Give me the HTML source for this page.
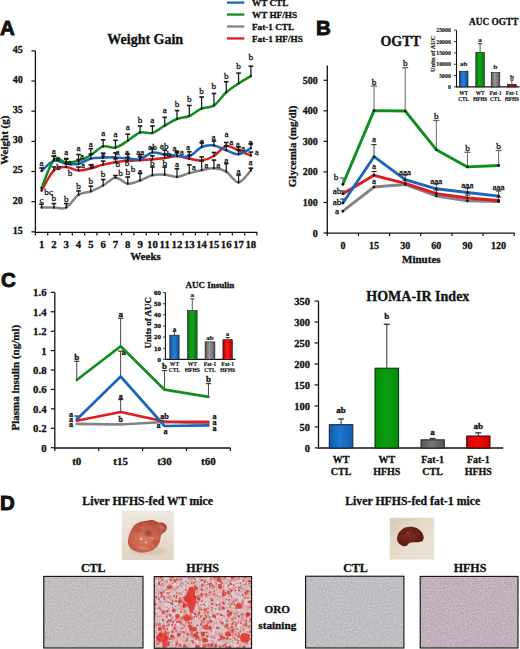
<!DOCTYPE html>
<html><head><meta charset="utf-8"><style>
html,body{margin:0;padding:0;background:#fff;}
body{width:520px;height:649px;overflow:hidden;}
svg{display:block;}
</style></head><body>
<svg width="520" height="649" viewBox="0 0 520 649">
<defs><linearGradient id="gb" x1="0" x2="1" y1="0" y2="0"><stop offset="0" stop-color="#0f4f98"/><stop offset="0.45" stop-color="#2a82d6"/><stop offset="1" stop-color="#0f4f98"/></linearGradient><linearGradient id="gg" x1="0" x2="1" y1="0" y2="0"><stop offset="0" stop-color="#0a7410"/><stop offset="0.45" stop-color="#16a31c"/><stop offset="1" stop-color="#0a7410"/></linearGradient><linearGradient id="gy" x1="0" x2="1" y1="0" y2="0"><stop offset="0" stop-color="#555"/><stop offset="0.45" stop-color="#9a9a9a"/><stop offset="1" stop-color="#555"/></linearGradient><linearGradient id="gr" x1="0" x2="1" y1="0" y2="0"><stop offset="0" stop-color="#a80000"/><stop offset="0.45" stop-color="#ff1a1a"/><stop offset="1" stop-color="#a80000"/></linearGradient><linearGradient id="grd" x1="0" x2="1" y1="0" y2="0"><stop offset="0" stop-color="#801010"/><stop offset="0.45" stop-color="#c81818"/><stop offset="1" stop-color="#801010"/></linearGradient><linearGradient id="gbs" x1="0" x2="1" y1="0" y2="0"><stop offset="0" stop-color="#135cae"/><stop offset="0.45" stop-color="#1f78d0"/><stop offset="1" stop-color="#135cae"/></linearGradient><linearGradient id="ggs" x1="0" x2="1" y1="0" y2="0"><stop offset="0" stop-color="#058a0a"/><stop offset="0.45" stop-color="#0aa010"/><stop offset="1" stop-color="#058a0a"/></linearGradient><linearGradient id="gys" x1="0" x2="1" y1="0" y2="0"><stop offset="0" stop-color="#565656"/><stop offset="0.45" stop-color="#787878"/><stop offset="1" stop-color="#565656"/></linearGradient><linearGradient id="grs" x1="0" x2="1" y1="0" y2="0"><stop offset="0" stop-color="#d00000"/><stop offset="0.45" stop-color="#f00a0a"/><stop offset="1" stop-color="#d00000"/></linearGradient><linearGradient id="bg1" x1="0" y1="0" x2="0" y2="1"><stop offset="0" stop-color="#efe8de"/><stop offset="1" stop-color="#e0d4c4"/></linearGradient><radialGradient id="lv1" cx="0.42" cy="0.6" r="0.65"><stop offset="0" stop-color="#d87c64"/><stop offset="0.55" stop-color="#c6624a"/><stop offset="1" stop-color="#a84636"/></radialGradient><radialGradient id="lv2" cx="0.45" cy="0.45" r="0.6"><stop offset="0" stop-color="#7c2a22"/><stop offset="1" stop-color="#5a1914"/></radialGradient><filter id="blur1" x="-20%" y="-20%" width="140%" height="140%"><feGaussianBlur stdDeviation="0.8"/></filter><filter id="blur05"><feGaussianBlur stdDeviation="0.45"/></filter><linearGradient id="bg2" x1="0" y1="0" x2="1" y2="1"><stop offset="0" stop-color="#d9ccb6"/><stop offset="0.5" stop-color="#e6dccb"/><stop offset="1" stop-color="#ebe3d6"/></linearGradient><filter id="mblur" x="0" y="0" width="100%" height="100%"><feGaussianBlur stdDeviation="0.7"/></filter><filter id="mblur2" x="0" y="0" width="100%" height="100%"><feGaussianBlur stdDeviation="0.45"/></filter><filter id='nz1' x='0' y='0' width='100%' height='100%' color-interpolation-filters='sRGB'><feTurbulence type='fractalNoise' baseFrequency='0.7' numOctaves='2' seed='3' result='n'/><feColorMatrix in='n' type='matrix' values='0.1882 0 0 0 0.6667  0.1882 0 0 0 0.6510  0.1882 0 0 0 0.6510  0 0 0 0 1'/><feGaussianBlur stdDeviation='0.6'/></filter><filter id='nz2' x='0' y='0' width='100%' height='100%' color-interpolation-filters='sRGB'><feTurbulence type='fractalNoise' baseFrequency='0.7' numOctaves='2' seed='5' result='n'/><feColorMatrix in='n' type='matrix' values='0.1882 0 0 0 0.6549  0.1882 0 0 0 0.6510  0.1882 0 0 0 0.6706  0 0 0 0 1'/><feGaussianBlur stdDeviation='0.6'/></filter><filter id='nz3' x='0' y='0' width='100%' height='100%' color-interpolation-filters='sRGB'><feTurbulence type='fractalNoise' baseFrequency='0.7' numOctaves='2' seed='9' result='n'/><feColorMatrix in='n' type='matrix' values='0.2353 0 0 0 0.6431  0.2353 0 0 0 0.5725  0.2353 0 0 0 0.6196  0 0 0 0 1'/><feGaussianBlur stdDeviation='0.6'/></filter></defs>
<rect width="520" height="649" fill="#fff"/>
<text x="0.00" y="35.00" font-family="Liberation Sans" font-size="20.5" font-weight="bold" text-anchor="start" fill="#111" stroke="#111" stroke-width="0.9" >A</text>
<text x="316.00" y="35.00" font-family="Liberation Sans" font-size="20.5" font-weight="bold" text-anchor="start" fill="#111" stroke="#111" stroke-width="0.9" >B</text>
<text x="1.00" y="287.00" font-family="Liberation Sans" font-size="20.5" font-weight="bold" text-anchor="start" fill="#111" stroke="#111" stroke-width="0.9" >C</text>
<text x="0.00" y="510.30" font-family="Liberation Sans" font-size="20.5" font-weight="bold" text-anchor="start" fill="#111" stroke="#111" stroke-width="0.9" >D</text>
<line x1="35.40" y1="50.80" x2="35.40" y2="233.00" stroke="#111" stroke-width="1.3"/>
<line x1="34.80" y1="232.40" x2="257.20" y2="232.40" stroke="#111" stroke-width="1.3"/>
<line x1="31.40" y1="231.80" x2="35.40" y2="231.80" stroke="#111" stroke-width="1.2"/>
<text x="22.80" y="233.70" font-family="Liberation Serif" font-size="10" font-weight="bold" text-anchor="end" fill="#111" stroke="#111" stroke-width="0.3" >15</text>
<line x1="31.40" y1="201.65" x2="35.40" y2="201.65" stroke="#111" stroke-width="1.2"/>
<text x="22.80" y="203.55" font-family="Liberation Serif" font-size="10" font-weight="bold" text-anchor="end" fill="#111" stroke="#111" stroke-width="0.3" >20</text>
<line x1="31.40" y1="171.50" x2="35.40" y2="171.50" stroke="#111" stroke-width="1.2"/>
<text x="22.80" y="173.40" font-family="Liberation Serif" font-size="10" font-weight="bold" text-anchor="end" fill="#111" stroke="#111" stroke-width="0.3" >25</text>
<line x1="31.40" y1="141.35" x2="35.40" y2="141.35" stroke="#111" stroke-width="1.2"/>
<text x="22.80" y="143.25" font-family="Liberation Serif" font-size="10" font-weight="bold" text-anchor="end" fill="#111" stroke="#111" stroke-width="0.3" >30</text>
<line x1="31.40" y1="111.20" x2="35.40" y2="111.20" stroke="#111" stroke-width="1.2"/>
<text x="22.80" y="113.10" font-family="Liberation Serif" font-size="10" font-weight="bold" text-anchor="end" fill="#111" stroke="#111" stroke-width="0.3" >35</text>
<line x1="31.40" y1="81.05" x2="35.40" y2="81.05" stroke="#111" stroke-width="1.2"/>
<text x="22.80" y="82.95" font-family="Liberation Serif" font-size="10" font-weight="bold" text-anchor="end" fill="#111" stroke="#111" stroke-width="0.3" >40</text>
<line x1="31.40" y1="50.90" x2="35.40" y2="50.90" stroke="#111" stroke-width="1.2"/>
<text x="22.80" y="52.80" font-family="Liberation Serif" font-size="10" font-weight="bold" text-anchor="end" fill="#111" stroke="#111" stroke-width="0.3" >45</text>
<line x1="35.40" y1="232.40" x2="35.40" y2="235.40" stroke="#111" stroke-width="1.2"/>
<line x1="47.71" y1="232.40" x2="47.71" y2="235.40" stroke="#111" stroke-width="1.2"/>
<line x1="60.02" y1="232.40" x2="60.02" y2="235.40" stroke="#111" stroke-width="1.2"/>
<line x1="72.33" y1="232.40" x2="72.33" y2="235.40" stroke="#111" stroke-width="1.2"/>
<line x1="84.64" y1="232.40" x2="84.64" y2="235.40" stroke="#111" stroke-width="1.2"/>
<line x1="96.95" y1="232.40" x2="96.95" y2="235.40" stroke="#111" stroke-width="1.2"/>
<line x1="109.26" y1="232.40" x2="109.26" y2="235.40" stroke="#111" stroke-width="1.2"/>
<line x1="121.57" y1="232.40" x2="121.57" y2="235.40" stroke="#111" stroke-width="1.2"/>
<line x1="133.88" y1="232.40" x2="133.88" y2="235.40" stroke="#111" stroke-width="1.2"/>
<line x1="146.19" y1="232.40" x2="146.19" y2="235.40" stroke="#111" stroke-width="1.2"/>
<line x1="158.50" y1="232.40" x2="158.50" y2="235.40" stroke="#111" stroke-width="1.2"/>
<line x1="170.81" y1="232.40" x2="170.81" y2="235.40" stroke="#111" stroke-width="1.2"/>
<line x1="183.12" y1="232.40" x2="183.12" y2="235.40" stroke="#111" stroke-width="1.2"/>
<line x1="195.43" y1="232.40" x2="195.43" y2="235.40" stroke="#111" stroke-width="1.2"/>
<line x1="207.74" y1="232.40" x2="207.74" y2="235.40" stroke="#111" stroke-width="1.2"/>
<line x1="220.05" y1="232.40" x2="220.05" y2="235.40" stroke="#111" stroke-width="1.2"/>
<line x1="232.36" y1="232.40" x2="232.36" y2="235.40" stroke="#111" stroke-width="1.2"/>
<line x1="244.67" y1="232.40" x2="244.67" y2="235.40" stroke="#111" stroke-width="1.2"/>
<line x1="256.98" y1="232.40" x2="256.98" y2="235.40" stroke="#111" stroke-width="1.2"/>
<text x="41.60" y="247.80" font-family="Liberation Serif" font-size="10.8" font-weight="bold" text-anchor="middle" fill="#111" stroke="#111" stroke-width="0.3" >1</text>
<text x="53.91" y="247.80" font-family="Liberation Serif" font-size="10.8" font-weight="bold" text-anchor="middle" fill="#111" stroke="#111" stroke-width="0.3" >2</text>
<text x="66.22" y="247.80" font-family="Liberation Serif" font-size="10.8" font-weight="bold" text-anchor="middle" fill="#111" stroke="#111" stroke-width="0.3" >3</text>
<text x="78.53" y="247.80" font-family="Liberation Serif" font-size="10.8" font-weight="bold" text-anchor="middle" fill="#111" stroke="#111" stroke-width="0.3" >4</text>
<text x="90.84" y="247.80" font-family="Liberation Serif" font-size="10.8" font-weight="bold" text-anchor="middle" fill="#111" stroke="#111" stroke-width="0.3" >5</text>
<text x="103.15" y="247.80" font-family="Liberation Serif" font-size="10.8" font-weight="bold" text-anchor="middle" fill="#111" stroke="#111" stroke-width="0.3" >6</text>
<text x="115.46" y="247.80" font-family="Liberation Serif" font-size="10.8" font-weight="bold" text-anchor="middle" fill="#111" stroke="#111" stroke-width="0.3" >7</text>
<text x="127.77" y="247.80" font-family="Liberation Serif" font-size="10.8" font-weight="bold" text-anchor="middle" fill="#111" stroke="#111" stroke-width="0.3" >8</text>
<text x="140.08" y="247.80" font-family="Liberation Serif" font-size="10.8" font-weight="bold" text-anchor="middle" fill="#111" stroke="#111" stroke-width="0.3" >9</text>
<text x="152.39" y="247.80" font-family="Liberation Serif" font-size="10.8" font-weight="bold" text-anchor="middle" fill="#111" stroke="#111" stroke-width="0.3" >10</text>
<text x="164.70" y="247.80" font-family="Liberation Serif" font-size="10.8" font-weight="bold" text-anchor="middle" fill="#111" stroke="#111" stroke-width="0.3" >11</text>
<text x="177.01" y="247.80" font-family="Liberation Serif" font-size="10.8" font-weight="bold" text-anchor="middle" fill="#111" stroke="#111" stroke-width="0.3" >12</text>
<text x="189.32" y="247.80" font-family="Liberation Serif" font-size="10.8" font-weight="bold" text-anchor="middle" fill="#111" stroke="#111" stroke-width="0.3" >13</text>
<text x="201.63" y="247.80" font-family="Liberation Serif" font-size="10.8" font-weight="bold" text-anchor="middle" fill="#111" stroke="#111" stroke-width="0.3" >14</text>
<text x="213.94" y="247.80" font-family="Liberation Serif" font-size="10.8" font-weight="bold" text-anchor="middle" fill="#111" stroke="#111" stroke-width="0.3" >15</text>
<text x="226.25" y="247.80" font-family="Liberation Serif" font-size="10.8" font-weight="bold" text-anchor="middle" fill="#111" stroke="#111" stroke-width="0.3" >16</text>
<text x="238.56" y="247.80" font-family="Liberation Serif" font-size="10.8" font-weight="bold" text-anchor="middle" fill="#111" stroke="#111" stroke-width="0.3" >17</text>
<text x="250.87" y="247.80" font-family="Liberation Serif" font-size="10.8" font-weight="bold" text-anchor="middle" fill="#111" stroke="#111" stroke-width="0.3" >18</text>
<text x="145.50" y="260.30" font-family="Liberation Serif" font-size="11" font-weight="bold" text-anchor="middle" fill="#111" stroke="#111" stroke-width="0.3" >Weeks</text>
<text x="107.30" y="43.80" font-family="Liberation Serif" font-size="14" font-weight="bold" text-anchor="start" fill="#111" stroke="#111" stroke-width="0.3" >Weight Gain</text>
<text x="8.30" y="140.20" font-family="Liberation Serif" font-size="11" font-weight="bold" text-anchor="middle" fill="#111" stroke="#111" stroke-width="0.3" transform="rotate(-90 8.3 140.2)">Weight (g)</text>
<line x1="227.00" y1="2.60" x2="244.30" y2="2.60" stroke="#1c66b8" stroke-width="2.3"/>
<text x="252.00" y="6.00" font-family="Liberation Serif" font-size="9.2" font-weight="bold" text-anchor="start" fill="#111" stroke="#111" stroke-width="0.3" >WT CTL</text>
<line x1="227.00" y1="14.55" x2="244.30" y2="14.55" stroke="#0f8e20" stroke-width="2.3"/>
<text x="252.00" y="17.95" font-family="Liberation Serif" font-size="9.2" font-weight="bold" text-anchor="start" fill="#111" stroke="#111" stroke-width="0.3" >WT HF/HS</text>
<line x1="227.00" y1="26.50" x2="244.30" y2="26.50" stroke="#838383" stroke-width="2.3"/>
<text x="252.00" y="29.90" font-family="Liberation Serif" font-size="9.2" font-weight="bold" text-anchor="start" fill="#111" stroke="#111" stroke-width="0.3" >Fat-1 CTL</text>
<line x1="227.00" y1="38.45" x2="244.30" y2="38.45" stroke="#dc1c20" stroke-width="2.3"/>
<text x="252.00" y="41.85" font-family="Liberation Serif" font-size="9.2" font-weight="bold" text-anchor="start" fill="#111" stroke="#111" stroke-width="0.3" >Fat-1 HF/HS</text>
<path d="M41.60,207.60 C43.65,207.60 49.81,207.60 53.91,207.60 C58.01,207.60 62.12,209.73 66.22,207.60 C70.32,205.47 74.43,197.50 78.53,194.80 C82.63,192.10 86.74,192.95 90.84,191.40 C94.94,189.85 99.05,187.78 103.15,185.50 C107.25,183.22 111.36,177.98 115.46,177.70 C119.56,177.42 123.67,183.33 127.77,183.80 C131.87,184.27 135.98,181.93 140.08,180.50 C144.18,179.07 148.29,176.17 152.39,175.20 C156.49,174.23 160.60,174.42 164.70,174.70 C168.80,174.98 172.91,177.17 177.01,176.90 C181.11,176.63 185.22,174.22 189.32,173.10 C193.42,171.98 197.53,171.00 201.63,170.20 C205.73,169.40 209.84,168.05 213.94,168.30 C218.04,168.55 222.15,169.33 226.25,171.70 C230.35,174.07 234.46,182.72 238.56,182.50 C242.66,182.28 248.82,172.42 250.87,170.40" fill="none" stroke="#838383" stroke-width="2.5" stroke-linecap="round"/>
<path d="M41.60,190.50 C43.65,187.15 49.81,174.32 53.91,170.40 C58.01,166.48 62.12,166.97 66.22,167.00 C70.32,167.03 74.43,170.38 78.53,170.60 C82.63,170.82 86.74,169.30 90.84,168.30 C94.94,167.30 99.05,165.60 103.15,164.60 C107.25,163.60 111.36,162.93 115.46,162.30 C119.56,161.67 123.67,161.13 127.77,160.80 C131.87,160.47 135.98,160.55 140.08,160.30 C144.18,160.05 148.29,159.70 152.39,159.30 C156.49,158.90 160.60,158.40 164.70,157.90 C168.80,157.40 172.91,156.17 177.01,156.30 C181.11,156.43 185.22,158.02 189.32,158.70 C193.42,159.38 197.53,160.85 201.63,160.40 C205.73,159.95 209.84,158.40 213.94,156.00 C218.04,153.60 222.15,146.92 226.25,146.00 C230.35,145.08 234.46,148.90 238.56,150.50 C242.66,152.10 248.82,154.75 250.87,155.60" fill="none" stroke="#dc1c20" stroke-width="2.5" stroke-linecap="round"/>
<path d="M41.60,171.00 C43.65,169.27 49.81,161.83 53.91,160.60 C58.01,159.37 62.12,163.03 66.22,163.60 C70.32,164.17 74.43,164.85 78.53,164.00 C82.63,163.15 86.74,159.55 90.84,158.50 C94.94,157.45 99.05,157.88 103.15,157.70 C107.25,157.52 111.36,157.27 115.46,157.40 C119.56,157.53 123.67,158.20 127.77,158.50 C131.87,158.80 135.98,160.20 140.08,159.20 C144.18,158.20 148.29,153.27 152.39,152.50 C156.49,151.73 160.60,154.07 164.70,154.60 C168.80,155.13 172.91,155.42 177.01,155.70 C181.11,155.98 185.22,157.75 189.32,156.30 C193.42,154.85 197.53,148.80 201.63,147.00 C205.73,145.20 209.84,144.97 213.94,145.50 C218.04,146.03 222.15,148.75 226.25,150.20 C230.35,151.65 234.46,154.53 238.56,154.20 C242.66,153.87 248.82,149.20 250.87,148.20" fill="none" stroke="#1c66b8" stroke-width="2.5" stroke-linecap="round"/>
<path d="M41.60,188.00 C43.65,183.30 49.81,164.05 53.91,159.80 C58.01,155.55 62.12,162.33 66.22,162.50 C70.32,162.67 74.43,162.05 78.53,160.80 C82.63,159.55 86.74,157.40 90.84,155.00 C94.94,152.60 99.05,147.63 103.15,146.40 C107.25,145.17 111.36,148.55 115.46,147.60 C119.56,146.65 123.67,143.22 127.77,140.70 C131.87,138.18 135.98,133.80 140.08,132.50 C144.18,131.20 148.29,134.05 152.39,132.90 C156.49,131.75 160.60,127.92 164.70,125.60 C168.80,123.28 172.91,120.60 177.01,119.00 C181.11,117.40 185.22,117.75 189.32,116.00 C193.42,114.25 197.53,110.25 201.63,108.50 C205.73,106.75 209.84,108.20 213.94,105.50 C218.04,102.80 222.15,95.97 226.25,92.30 C230.35,88.63 234.46,86.20 238.56,83.50 C242.66,80.80 248.82,77.33 250.87,76.10" fill="none" stroke="#0f8e20" stroke-width="2.5" stroke-linecap="round"/>
<line x1="41.60" y1="207.60" x2="41.60" y2="204.20" stroke="#1a1a1a" stroke-width="1.25"/>
<line x1="39.30" y1="204.20" x2="43.90" y2="204.20" stroke="#1a1a1a" stroke-width="1.625"/>
<line x1="53.91" y1="207.60" x2="53.91" y2="203.60" stroke="#1a1a1a" stroke-width="1.25"/>
<line x1="51.61" y1="203.60" x2="56.21" y2="203.60" stroke="#1a1a1a" stroke-width="1.625"/>
<line x1="66.22" y1="207.60" x2="66.22" y2="203.60" stroke="#1a1a1a" stroke-width="1.25"/>
<line x1="63.92" y1="203.60" x2="68.52" y2="203.60" stroke="#1a1a1a" stroke-width="1.625"/>
<line x1="78.53" y1="194.80" x2="78.53" y2="190.90" stroke="#1a1a1a" stroke-width="1.25"/>
<line x1="76.23" y1="190.90" x2="80.83" y2="190.90" stroke="#1a1a1a" stroke-width="1.625"/>
<line x1="90.84" y1="191.40" x2="90.84" y2="186.20" stroke="#1a1a1a" stroke-width="1.25"/>
<line x1="88.54" y1="186.20" x2="93.14" y2="186.20" stroke="#1a1a1a" stroke-width="1.625"/>
<line x1="103.15" y1="185.50" x2="103.15" y2="179.50" stroke="#1a1a1a" stroke-width="1.25"/>
<line x1="100.85" y1="179.50" x2="105.45" y2="179.50" stroke="#1a1a1a" stroke-width="1.625"/>
<line x1="115.46" y1="177.70" x2="115.46" y2="175.50" stroke="#1a1a1a" stroke-width="1.25"/>
<line x1="113.16" y1="175.50" x2="117.76" y2="175.50" stroke="#1a1a1a" stroke-width="1.625"/>
<line x1="127.77" y1="183.80" x2="127.77" y2="177.00" stroke="#1a1a1a" stroke-width="1.25"/>
<line x1="125.47" y1="177.00" x2="130.07" y2="177.00" stroke="#1a1a1a" stroke-width="1.625"/>
<line x1="140.08" y1="180.50" x2="140.08" y2="173.30" stroke="#1a1a1a" stroke-width="1.25"/>
<line x1="137.78" y1="173.30" x2="142.38" y2="173.30" stroke="#1a1a1a" stroke-width="1.625"/>
<line x1="152.39" y1="175.20" x2="152.39" y2="167.00" stroke="#1a1a1a" stroke-width="1.25"/>
<line x1="150.09" y1="167.00" x2="154.69" y2="167.00" stroke="#1a1a1a" stroke-width="1.625"/>
<line x1="164.70" y1="174.70" x2="164.70" y2="167.00" stroke="#1a1a1a" stroke-width="1.25"/>
<line x1="162.40" y1="167.00" x2="167.00" y2="167.00" stroke="#1a1a1a" stroke-width="1.625"/>
<line x1="177.01" y1="176.90" x2="177.01" y2="168.80" stroke="#1a1a1a" stroke-width="1.25"/>
<line x1="174.71" y1="168.80" x2="179.31" y2="168.80" stroke="#1a1a1a" stroke-width="1.625"/>
<line x1="189.32" y1="173.10" x2="189.32" y2="164.90" stroke="#1a1a1a" stroke-width="1.25"/>
<line x1="187.02" y1="164.90" x2="191.62" y2="164.90" stroke="#1a1a1a" stroke-width="1.625"/>
<line x1="201.63" y1="170.20" x2="201.63" y2="161.00" stroke="#1a1a1a" stroke-width="1.25"/>
<line x1="199.33" y1="161.00" x2="203.93" y2="161.00" stroke="#1a1a1a" stroke-width="1.625"/>
<line x1="213.94" y1="168.30" x2="213.94" y2="160.10" stroke="#1a1a1a" stroke-width="1.25"/>
<line x1="211.64" y1="160.10" x2="216.24" y2="160.10" stroke="#1a1a1a" stroke-width="1.625"/>
<line x1="226.25" y1="171.70" x2="226.25" y2="163.60" stroke="#1a1a1a" stroke-width="1.25"/>
<line x1="223.95" y1="163.60" x2="228.55" y2="163.60" stroke="#1a1a1a" stroke-width="1.625"/>
<line x1="238.56" y1="182.50" x2="238.56" y2="175.00" stroke="#1a1a1a" stroke-width="1.25"/>
<line x1="236.26" y1="175.00" x2="240.86" y2="175.00" stroke="#1a1a1a" stroke-width="1.625"/>
<line x1="250.87" y1="170.40" x2="250.87" y2="168.20" stroke="#1a1a1a" stroke-width="1.25"/>
<line x1="248.57" y1="168.20" x2="253.17" y2="168.20" stroke="#1a1a1a" stroke-width="1.625"/>
<line x1="53.91" y1="159.80" x2="53.91" y2="156.20" stroke="#1a1a1a" stroke-width="1.25"/>
<line x1="51.61" y1="156.20" x2="56.21" y2="156.20" stroke="#1a1a1a" stroke-width="1.625"/>
<line x1="66.22" y1="162.50" x2="66.22" y2="158.50" stroke="#1a1a1a" stroke-width="1.25"/>
<line x1="63.92" y1="158.50" x2="68.52" y2="158.50" stroke="#1a1a1a" stroke-width="1.625"/>
<line x1="78.53" y1="160.80" x2="78.53" y2="154.50" stroke="#1a1a1a" stroke-width="1.25"/>
<line x1="76.23" y1="154.50" x2="80.83" y2="154.50" stroke="#1a1a1a" stroke-width="1.625"/>
<line x1="90.84" y1="155.00" x2="90.84" y2="148.70" stroke="#1a1a1a" stroke-width="1.25"/>
<line x1="88.54" y1="148.70" x2="93.14" y2="148.70" stroke="#1a1a1a" stroke-width="1.625"/>
<line x1="103.15" y1="146.40" x2="103.15" y2="139.80" stroke="#1a1a1a" stroke-width="1.25"/>
<line x1="100.85" y1="139.80" x2="105.45" y2="139.80" stroke="#1a1a1a" stroke-width="1.625"/>
<line x1="115.46" y1="147.60" x2="115.46" y2="140.30" stroke="#1a1a1a" stroke-width="1.25"/>
<line x1="113.16" y1="140.30" x2="117.76" y2="140.30" stroke="#1a1a1a" stroke-width="1.625"/>
<line x1="127.77" y1="140.70" x2="127.77" y2="134.10" stroke="#1a1a1a" stroke-width="1.25"/>
<line x1="125.47" y1="134.10" x2="130.07" y2="134.10" stroke="#1a1a1a" stroke-width="1.625"/>
<line x1="140.08" y1="132.50" x2="140.08" y2="126.00" stroke="#1a1a1a" stroke-width="1.25"/>
<line x1="137.78" y1="126.00" x2="142.38" y2="126.00" stroke="#1a1a1a" stroke-width="1.625"/>
<line x1="152.39" y1="132.90" x2="152.39" y2="126.00" stroke="#1a1a1a" stroke-width="1.25"/>
<line x1="150.09" y1="126.00" x2="154.69" y2="126.00" stroke="#1a1a1a" stroke-width="1.625"/>
<line x1="164.70" y1="125.60" x2="164.70" y2="117.30" stroke="#1a1a1a" stroke-width="1.25"/>
<line x1="162.40" y1="117.30" x2="167.00" y2="117.30" stroke="#1a1a1a" stroke-width="1.625"/>
<line x1="177.01" y1="119.00" x2="177.01" y2="110.60" stroke="#1a1a1a" stroke-width="1.25"/>
<line x1="174.71" y1="110.60" x2="179.31" y2="110.60" stroke="#1a1a1a" stroke-width="1.625"/>
<line x1="189.32" y1="116.00" x2="189.32" y2="105.50" stroke="#1a1a1a" stroke-width="1.25"/>
<line x1="187.02" y1="105.50" x2="191.62" y2="105.50" stroke="#1a1a1a" stroke-width="1.625"/>
<line x1="201.63" y1="108.50" x2="201.63" y2="97.00" stroke="#1a1a1a" stroke-width="1.25"/>
<line x1="199.33" y1="97.00" x2="203.93" y2="97.00" stroke="#1a1a1a" stroke-width="1.625"/>
<line x1="213.94" y1="105.50" x2="213.94" y2="93.50" stroke="#1a1a1a" stroke-width="1.25"/>
<line x1="211.64" y1="93.50" x2="216.24" y2="93.50" stroke="#1a1a1a" stroke-width="1.625"/>
<line x1="226.25" y1="92.30" x2="226.25" y2="81.70" stroke="#1a1a1a" stroke-width="1.25"/>
<line x1="223.95" y1="81.70" x2="228.55" y2="81.70" stroke="#1a1a1a" stroke-width="1.625"/>
<line x1="238.56" y1="83.50" x2="238.56" y2="73.10" stroke="#1a1a1a" stroke-width="1.25"/>
<line x1="236.26" y1="73.10" x2="240.86" y2="73.10" stroke="#1a1a1a" stroke-width="1.625"/>
<line x1="250.87" y1="76.10" x2="250.87" y2="66.20" stroke="#1a1a1a" stroke-width="1.25"/>
<line x1="248.57" y1="66.20" x2="253.17" y2="66.20" stroke="#1a1a1a" stroke-width="1.625"/>
<line x1="41.60" y1="171.00" x2="41.60" y2="168.00" stroke="#1a1a1a" stroke-width="1.25"/>
<line x1="39.30" y1="168.00" x2="43.90" y2="168.00" stroke="#1a1a1a" stroke-width="1.625"/>
<line x1="53.91" y1="160.60" x2="53.91" y2="156.10" stroke="#1a1a1a" stroke-width="1.25"/>
<line x1="51.61" y1="156.10" x2="56.21" y2="156.10" stroke="#1a1a1a" stroke-width="1.625"/>
<line x1="66.22" y1="163.60" x2="66.22" y2="159.10" stroke="#1a1a1a" stroke-width="1.25"/>
<line x1="63.92" y1="159.10" x2="68.52" y2="159.10" stroke="#1a1a1a" stroke-width="1.625"/>
<line x1="78.53" y1="164.00" x2="78.53" y2="159.50" stroke="#1a1a1a" stroke-width="1.25"/>
<line x1="76.23" y1="159.50" x2="80.83" y2="159.50" stroke="#1a1a1a" stroke-width="1.625"/>
<line x1="90.84" y1="158.50" x2="90.84" y2="154.00" stroke="#1a1a1a" stroke-width="1.25"/>
<line x1="88.54" y1="154.00" x2="93.14" y2="154.00" stroke="#1a1a1a" stroke-width="1.625"/>
<line x1="103.15" y1="157.70" x2="103.15" y2="153.20" stroke="#1a1a1a" stroke-width="1.25"/>
<line x1="100.85" y1="153.20" x2="105.45" y2="153.20" stroke="#1a1a1a" stroke-width="1.625"/>
<line x1="115.46" y1="157.40" x2="115.46" y2="152.90" stroke="#1a1a1a" stroke-width="1.25"/>
<line x1="113.16" y1="152.90" x2="117.76" y2="152.90" stroke="#1a1a1a" stroke-width="1.625"/>
<line x1="127.77" y1="158.50" x2="127.77" y2="154.00" stroke="#1a1a1a" stroke-width="1.25"/>
<line x1="125.47" y1="154.00" x2="130.07" y2="154.00" stroke="#1a1a1a" stroke-width="1.625"/>
<line x1="140.08" y1="159.20" x2="140.08" y2="154.70" stroke="#1a1a1a" stroke-width="1.25"/>
<line x1="137.78" y1="154.70" x2="142.38" y2="154.70" stroke="#1a1a1a" stroke-width="1.625"/>
<line x1="152.39" y1="152.50" x2="152.39" y2="148.00" stroke="#1a1a1a" stroke-width="1.25"/>
<line x1="150.09" y1="148.00" x2="154.69" y2="148.00" stroke="#1a1a1a" stroke-width="1.625"/>
<line x1="164.70" y1="154.60" x2="164.70" y2="150.10" stroke="#1a1a1a" stroke-width="1.25"/>
<line x1="162.40" y1="150.10" x2="167.00" y2="150.10" stroke="#1a1a1a" stroke-width="1.625"/>
<line x1="177.01" y1="155.70" x2="177.01" y2="151.20" stroke="#1a1a1a" stroke-width="1.25"/>
<line x1="174.71" y1="151.20" x2="179.31" y2="151.20" stroke="#1a1a1a" stroke-width="1.625"/>
<line x1="189.32" y1="156.30" x2="189.32" y2="151.80" stroke="#1a1a1a" stroke-width="1.25"/>
<line x1="187.02" y1="151.80" x2="191.62" y2="151.80" stroke="#1a1a1a" stroke-width="1.625"/>
<line x1="201.63" y1="147.00" x2="201.63" y2="142.50" stroke="#1a1a1a" stroke-width="1.25"/>
<line x1="199.33" y1="142.50" x2="203.93" y2="142.50" stroke="#1a1a1a" stroke-width="1.625"/>
<line x1="213.94" y1="145.50" x2="213.94" y2="141.00" stroke="#1a1a1a" stroke-width="1.25"/>
<line x1="211.64" y1="141.00" x2="216.24" y2="141.00" stroke="#1a1a1a" stroke-width="1.625"/>
<line x1="226.25" y1="150.20" x2="226.25" y2="145.70" stroke="#1a1a1a" stroke-width="1.25"/>
<line x1="223.95" y1="145.70" x2="228.55" y2="145.70" stroke="#1a1a1a" stroke-width="1.625"/>
<line x1="238.56" y1="154.20" x2="238.56" y2="149.70" stroke="#1a1a1a" stroke-width="1.25"/>
<line x1="236.26" y1="149.70" x2="240.86" y2="149.70" stroke="#1a1a1a" stroke-width="1.625"/>
<line x1="250.87" y1="148.20" x2="250.87" y2="143.70" stroke="#1a1a1a" stroke-width="1.25"/>
<line x1="248.57" y1="143.70" x2="253.17" y2="143.70" stroke="#1a1a1a" stroke-width="1.625"/>
<line x1="53.91" y1="170.40" x2="53.91" y2="166.90" stroke="#1a1a1a" stroke-width="1.25"/>
<line x1="51.61" y1="166.90" x2="56.21" y2="166.90" stroke="#1a1a1a" stroke-width="1.625"/>
<line x1="66.22" y1="167.00" x2="66.22" y2="163.50" stroke="#1a1a1a" stroke-width="1.25"/>
<line x1="63.92" y1="163.50" x2="68.52" y2="163.50" stroke="#1a1a1a" stroke-width="1.625"/>
<line x1="78.53" y1="170.60" x2="78.53" y2="167.10" stroke="#1a1a1a" stroke-width="1.25"/>
<line x1="76.23" y1="167.10" x2="80.83" y2="167.10" stroke="#1a1a1a" stroke-width="1.625"/>
<line x1="90.84" y1="168.30" x2="90.84" y2="164.80" stroke="#1a1a1a" stroke-width="1.25"/>
<line x1="88.54" y1="164.80" x2="93.14" y2="164.80" stroke="#1a1a1a" stroke-width="1.625"/>
<line x1="103.15" y1="164.60" x2="103.15" y2="161.10" stroke="#1a1a1a" stroke-width="1.25"/>
<line x1="100.85" y1="161.10" x2="105.45" y2="161.10" stroke="#1a1a1a" stroke-width="1.625"/>
<line x1="115.46" y1="162.30" x2="115.46" y2="158.80" stroke="#1a1a1a" stroke-width="1.25"/>
<line x1="113.16" y1="158.80" x2="117.76" y2="158.80" stroke="#1a1a1a" stroke-width="1.625"/>
<line x1="127.77" y1="160.80" x2="127.77" y2="157.30" stroke="#1a1a1a" stroke-width="1.25"/>
<line x1="125.47" y1="157.30" x2="130.07" y2="157.30" stroke="#1a1a1a" stroke-width="1.625"/>
<line x1="140.08" y1="160.30" x2="140.08" y2="156.80" stroke="#1a1a1a" stroke-width="1.25"/>
<line x1="137.78" y1="156.80" x2="142.38" y2="156.80" stroke="#1a1a1a" stroke-width="1.625"/>
<line x1="152.39" y1="159.30" x2="152.39" y2="155.80" stroke="#1a1a1a" stroke-width="1.25"/>
<line x1="150.09" y1="155.80" x2="154.69" y2="155.80" stroke="#1a1a1a" stroke-width="1.625"/>
<line x1="164.70" y1="157.90" x2="164.70" y2="154.40" stroke="#1a1a1a" stroke-width="1.25"/>
<line x1="162.40" y1="154.40" x2="167.00" y2="154.40" stroke="#1a1a1a" stroke-width="1.625"/>
<line x1="177.01" y1="156.30" x2="177.01" y2="152.80" stroke="#1a1a1a" stroke-width="1.25"/>
<line x1="174.71" y1="152.80" x2="179.31" y2="152.80" stroke="#1a1a1a" stroke-width="1.625"/>
<line x1="189.32" y1="158.70" x2="189.32" y2="155.20" stroke="#1a1a1a" stroke-width="1.25"/>
<line x1="187.02" y1="155.20" x2="191.62" y2="155.20" stroke="#1a1a1a" stroke-width="1.625"/>
<line x1="201.63" y1="160.40" x2="201.63" y2="156.90" stroke="#1a1a1a" stroke-width="1.25"/>
<line x1="199.33" y1="156.90" x2="203.93" y2="156.90" stroke="#1a1a1a" stroke-width="1.625"/>
<line x1="213.94" y1="156.00" x2="213.94" y2="152.50" stroke="#1a1a1a" stroke-width="1.25"/>
<line x1="211.64" y1="152.50" x2="216.24" y2="152.50" stroke="#1a1a1a" stroke-width="1.625"/>
<line x1="226.25" y1="146.00" x2="226.25" y2="142.50" stroke="#1a1a1a" stroke-width="1.25"/>
<line x1="223.95" y1="142.50" x2="228.55" y2="142.50" stroke="#1a1a1a" stroke-width="1.625"/>
<line x1="238.56" y1="150.50" x2="238.56" y2="147.00" stroke="#1a1a1a" stroke-width="1.25"/>
<line x1="236.26" y1="147.00" x2="240.86" y2="147.00" stroke="#1a1a1a" stroke-width="1.625"/>
<line x1="250.87" y1="155.60" x2="250.87" y2="152.10" stroke="#1a1a1a" stroke-width="1.25"/>
<line x1="248.57" y1="152.10" x2="253.17" y2="152.10" stroke="#1a1a1a" stroke-width="1.625"/>
<circle cx="41.60" cy="207.60" r="1.1" fill="#111"/>
<circle cx="41.60" cy="190.50" r="1.1" fill="#111"/>
<circle cx="41.60" cy="171.00" r="1.1" fill="#111"/>
<circle cx="41.60" cy="188.00" r="1.1" fill="#111"/>
<circle cx="53.91" cy="207.60" r="1.1" fill="#111"/>
<circle cx="53.91" cy="170.40" r="1.1" fill="#111"/>
<circle cx="53.91" cy="160.60" r="1.1" fill="#111"/>
<circle cx="53.91" cy="159.80" r="1.1" fill="#111"/>
<circle cx="66.22" cy="207.60" r="1.1" fill="#111"/>
<circle cx="66.22" cy="167.00" r="1.1" fill="#111"/>
<circle cx="66.22" cy="163.60" r="1.1" fill="#111"/>
<circle cx="66.22" cy="162.50" r="1.1" fill="#111"/>
<circle cx="78.53" cy="194.80" r="1.1" fill="#111"/>
<circle cx="78.53" cy="170.60" r="1.1" fill="#111"/>
<circle cx="78.53" cy="164.00" r="1.1" fill="#111"/>
<circle cx="78.53" cy="160.80" r="1.1" fill="#111"/>
<circle cx="90.84" cy="191.40" r="1.1" fill="#111"/>
<circle cx="90.84" cy="168.30" r="1.1" fill="#111"/>
<circle cx="90.84" cy="158.50" r="1.1" fill="#111"/>
<circle cx="90.84" cy="155.00" r="1.1" fill="#111"/>
<circle cx="103.15" cy="185.50" r="1.1" fill="#111"/>
<circle cx="103.15" cy="164.60" r="1.1" fill="#111"/>
<circle cx="103.15" cy="157.70" r="1.1" fill="#111"/>
<circle cx="103.15" cy="146.40" r="1.1" fill="#111"/>
<circle cx="115.46" cy="177.70" r="1.1" fill="#111"/>
<circle cx="115.46" cy="162.30" r="1.1" fill="#111"/>
<circle cx="115.46" cy="157.40" r="1.1" fill="#111"/>
<circle cx="115.46" cy="147.60" r="1.1" fill="#111"/>
<circle cx="127.77" cy="183.80" r="1.1" fill="#111"/>
<circle cx="127.77" cy="160.80" r="1.1" fill="#111"/>
<circle cx="127.77" cy="158.50" r="1.1" fill="#111"/>
<circle cx="127.77" cy="140.70" r="1.1" fill="#111"/>
<circle cx="140.08" cy="180.50" r="1.1" fill="#111"/>
<circle cx="140.08" cy="160.30" r="1.1" fill="#111"/>
<circle cx="140.08" cy="159.20" r="1.1" fill="#111"/>
<circle cx="140.08" cy="132.50" r="1.1" fill="#111"/>
<circle cx="152.39" cy="175.20" r="1.1" fill="#111"/>
<circle cx="152.39" cy="159.30" r="1.1" fill="#111"/>
<circle cx="152.39" cy="152.50" r="1.1" fill="#111"/>
<circle cx="152.39" cy="132.90" r="1.1" fill="#111"/>
<circle cx="164.70" cy="174.70" r="1.1" fill="#111"/>
<circle cx="164.70" cy="157.90" r="1.1" fill="#111"/>
<circle cx="164.70" cy="154.60" r="1.1" fill="#111"/>
<circle cx="164.70" cy="125.60" r="1.1" fill="#111"/>
<circle cx="177.01" cy="176.90" r="1.1" fill="#111"/>
<circle cx="177.01" cy="156.30" r="1.1" fill="#111"/>
<circle cx="177.01" cy="155.70" r="1.1" fill="#111"/>
<circle cx="177.01" cy="119.00" r="1.1" fill="#111"/>
<circle cx="189.32" cy="173.10" r="1.1" fill="#111"/>
<circle cx="189.32" cy="158.70" r="1.1" fill="#111"/>
<circle cx="189.32" cy="156.30" r="1.1" fill="#111"/>
<circle cx="189.32" cy="116.00" r="1.1" fill="#111"/>
<circle cx="201.63" cy="170.20" r="1.1" fill="#111"/>
<circle cx="201.63" cy="160.40" r="1.1" fill="#111"/>
<circle cx="201.63" cy="147.00" r="1.1" fill="#111"/>
<circle cx="201.63" cy="108.50" r="1.1" fill="#111"/>
<circle cx="213.94" cy="168.30" r="1.1" fill="#111"/>
<circle cx="213.94" cy="156.00" r="1.1" fill="#111"/>
<circle cx="213.94" cy="145.50" r="1.1" fill="#111"/>
<circle cx="213.94" cy="105.50" r="1.1" fill="#111"/>
<circle cx="226.25" cy="171.70" r="1.1" fill="#111"/>
<circle cx="226.25" cy="146.00" r="1.1" fill="#111"/>
<circle cx="226.25" cy="150.20" r="1.1" fill="#111"/>
<circle cx="226.25" cy="92.30" r="1.1" fill="#111"/>
<circle cx="238.56" cy="182.50" r="1.1" fill="#111"/>
<circle cx="238.56" cy="150.50" r="1.1" fill="#111"/>
<circle cx="238.56" cy="154.20" r="1.1" fill="#111"/>
<circle cx="238.56" cy="83.50" r="1.1" fill="#111"/>
<circle cx="250.87" cy="170.40" r="1.1" fill="#111"/>
<circle cx="250.87" cy="155.60" r="1.1" fill="#111"/>
<circle cx="250.87" cy="148.20" r="1.1" fill="#111"/>
<circle cx="250.87" cy="76.10" r="1.1" fill="#111"/>
<text x="53.90" y="153.60" font-family="Liberation Serif" font-size="9.2" font-weight="normal" text-anchor="middle" fill="#111" stroke="#111" stroke-width="0.3" >a</text>
<text x="66.20" y="155.30" font-family="Liberation Serif" font-size="9.2" font-weight="normal" text-anchor="middle" fill="#111" stroke="#111" stroke-width="0.3" >a</text>
<text x="78.50" y="151.30" font-family="Liberation Serif" font-size="9.2" font-weight="normal" text-anchor="middle" fill="#111" stroke="#111" stroke-width="0.3" >a</text>
<text x="90.80" y="146.60" font-family="Liberation Serif" font-size="9.2" font-weight="normal" text-anchor="middle" fill="#111" stroke="#111" stroke-width="0.3" >a</text>
<text x="103.20" y="136.30" font-family="Liberation Serif" font-size="9.2" font-weight="normal" text-anchor="middle" fill="#111" stroke="#111" stroke-width="0.3" >a</text>
<text x="115.50" y="136.60" font-family="Liberation Serif" font-size="9.2" font-weight="normal" text-anchor="middle" fill="#111" stroke="#111" stroke-width="0.3" >a</text>
<text x="127.80" y="130.30" font-family="Liberation Serif" font-size="9.2" font-weight="normal" text-anchor="middle" fill="#111" stroke="#111" stroke-width="0.3" >a</text>
<text x="140.10" y="123.40" font-family="Liberation Serif" font-size="9.2" font-weight="normal" text-anchor="middle" fill="#111" stroke="#111" stroke-width="0.3" >b</text>
<text x="152.40" y="122.50" font-family="Liberation Serif" font-size="9.2" font-weight="normal" text-anchor="middle" fill="#111" stroke="#111" stroke-width="0.3" >a</text>
<text x="164.70" y="112.50" font-family="Liberation Serif" font-size="9.2" font-weight="normal" text-anchor="middle" fill="#111" stroke="#111" stroke-width="0.3" >a</text>
<text x="177.00" y="106.90" font-family="Liberation Serif" font-size="9.2" font-weight="normal" text-anchor="middle" fill="#111" stroke="#111" stroke-width="0.3" >b</text>
<text x="189.30" y="102.30" font-family="Liberation Serif" font-size="9.2" font-weight="normal" text-anchor="middle" fill="#111" stroke="#111" stroke-width="0.3" >b</text>
<text x="201.60" y="93.80" font-family="Liberation Serif" font-size="9.2" font-weight="normal" text-anchor="middle" fill="#111" stroke="#111" stroke-width="0.3" >b</text>
<text x="213.90" y="88.50" font-family="Liberation Serif" font-size="9.2" font-weight="normal" text-anchor="middle" fill="#111" stroke="#111" stroke-width="0.3" >b</text>
<text x="226.20" y="79.20" font-family="Liberation Serif" font-size="9.2" font-weight="normal" text-anchor="middle" fill="#111" stroke="#111" stroke-width="0.3" >b</text>
<text x="238.50" y="69.30" font-family="Liberation Serif" font-size="9.2" font-weight="normal" text-anchor="middle" fill="#111" stroke="#111" stroke-width="0.3" >b</text>
<text x="250.80" y="59.50" font-family="Liberation Serif" font-size="9.2" font-weight="normal" text-anchor="middle" fill="#111" stroke="#111" stroke-width="0.3" >b</text>
<text x="41.60" y="202.60" font-family="Liberation Serif" font-size="9.2" font-weight="normal" text-anchor="middle" fill="#111" stroke="#111" stroke-width="0.3" >c</text>
<text x="53.90" y="201.00" font-family="Liberation Serif" font-size="9.2" font-weight="normal" text-anchor="middle" fill="#111" stroke="#111" stroke-width="0.3" >b</text>
<text x="66.20" y="201.60" font-family="Liberation Serif" font-size="9.2" font-weight="normal" text-anchor="middle" fill="#111" stroke="#111" stroke-width="0.3" >b</text>
<text x="78.50" y="188.80" font-family="Liberation Serif" font-size="9.2" font-weight="normal" text-anchor="middle" fill="#111" stroke="#111" stroke-width="0.3" >b</text>
<text x="90.80" y="183.60" font-family="Liberation Serif" font-size="9.2" font-weight="normal" text-anchor="middle" fill="#111" stroke="#111" stroke-width="0.3" >b</text>
<text x="103.00" y="177.20" font-family="Liberation Serif" font-size="9.2" font-weight="normal" text-anchor="middle" fill="#111" stroke="#111" stroke-width="0.3" >b</text>
<text x="120.50" y="175.60" font-family="Liberation Serif" font-size="9.2" font-weight="normal" text-anchor="middle" fill="#111" stroke="#111" stroke-width="0.3" >b</text>
<text x="127.70" y="174.90" font-family="Liberation Serif" font-size="9.2" font-weight="normal" text-anchor="middle" fill="#111" stroke="#111" stroke-width="0.3" >b</text>
<text x="133.00" y="171.80" font-family="Liberation Serif" font-size="9.2" font-weight="normal" text-anchor="middle" fill="#111" stroke="#111" stroke-width="0.3" >b</text>
<text x="140.10" y="173.50" font-family="Liberation Serif" font-size="9.2" font-weight="normal" text-anchor="middle" fill="#111" stroke="#111" stroke-width="0.3" >a</text>
<text x="152.40" y="165.80" font-family="Liberation Serif" font-size="9.2" font-weight="normal" text-anchor="middle" fill="#111" stroke="#111" stroke-width="0.3" >b</text>
<text x="164.70" y="166.30" font-family="Liberation Serif" font-size="9.2" font-weight="normal" text-anchor="middle" fill="#111" stroke="#111" stroke-width="0.3" >b</text>
<text x="177.00" y="167.20" font-family="Liberation Serif" font-size="9.2" font-weight="normal" text-anchor="middle" fill="#111" stroke="#111" stroke-width="0.3" >a</text>
<text x="193.80" y="169.90" font-family="Liberation Serif" font-size="9.2" font-weight="normal" text-anchor="middle" fill="#111" stroke="#111" stroke-width="0.3" >a</text>
<text x="206.30" y="167.50" font-family="Liberation Serif" font-size="9.2" font-weight="normal" text-anchor="middle" fill="#111" stroke="#111" stroke-width="0.3" >a</text>
<text x="218.30" y="167.50" font-family="Liberation Serif" font-size="9.2" font-weight="normal" text-anchor="middle" fill="#111" stroke="#111" stroke-width="0.3" >a</text>
<text x="226.20" y="162.90" font-family="Liberation Serif" font-size="9.2" font-weight="normal" text-anchor="middle" fill="#111" stroke="#111" stroke-width="0.3" >a</text>
<text x="238.50" y="173.60" font-family="Liberation Serif" font-size="9.2" font-weight="normal" text-anchor="middle" fill="#111" stroke="#111" stroke-width="0.3" >a</text>
<text x="250.50" y="164.60" font-family="Liberation Serif" font-size="9.2" font-weight="normal" text-anchor="middle" fill="#111" stroke="#111" stroke-width="0.3" >a</text>
<text x="41.60" y="166.30" font-family="Liberation Serif" font-size="9.2" font-weight="normal" text-anchor="middle" fill="#111" stroke="#111" stroke-width="0.3" >a</text>
<text x="48.70" y="195.20" font-family="Liberation Serif" font-size="9.2" font-weight="normal" text-anchor="middle" fill="#111" stroke="#111" stroke-width="0.3" >bc</text>
<text x="58.00" y="161.10" font-family="Liberation Serif" font-size="9.2" font-weight="normal" text-anchor="middle" fill="#111" stroke="#111" stroke-width="0.3" >a</text>
<text x="58.50" y="169.80" font-family="Liberation Serif" font-size="9.2" font-weight="normal" text-anchor="middle" fill="#111" stroke="#111" stroke-width="0.3" >b</text>
<text x="69.50" y="164.60" font-family="Liberation Serif" font-size="9.2" font-weight="normal" text-anchor="middle" fill="#111" stroke="#111" stroke-width="0.3" >a</text>
<text x="70.00" y="176.10" font-family="Liberation Serif" font-size="9.2" font-weight="normal" text-anchor="middle" fill="#111" stroke="#111" stroke-width="0.3" >b</text>
<text x="82.00" y="159.40" font-family="Liberation Serif" font-size="9.2" font-weight="normal" text-anchor="middle" fill="#111" stroke="#111" stroke-width="0.3" >a</text>
<text x="83.00" y="168.00" font-family="Liberation Serif" font-size="9.2" font-weight="normal" text-anchor="middle" fill="#111" stroke="#111" stroke-width="0.3" >a</text>
<text x="92.00" y="167.50" font-family="Liberation Serif" font-size="9.2" font-weight="normal" text-anchor="middle" fill="#111" stroke="#111" stroke-width="0.3" >a</text>
<text x="103.00" y="157.10" font-family="Liberation Serif" font-size="9.2" font-weight="normal" text-anchor="middle" fill="#111" stroke="#111" stroke-width="0.3" >a</text>
<text x="117.50" y="155.40" font-family="Liberation Serif" font-size="9.2" font-weight="normal" text-anchor="middle" fill="#111" stroke="#111" stroke-width="0.3" >a</text>
<text x="117.70" y="167.20" font-family="Liberation Serif" font-size="9.2" font-weight="normal" text-anchor="middle" fill="#111" stroke="#111" stroke-width="0.3" >b</text>
<text x="127.00" y="155.40" font-family="Liberation Serif" font-size="9.2" font-weight="normal" text-anchor="middle" fill="#111" stroke="#111" stroke-width="0.3" >a</text>
<text x="127.00" y="166.40" font-family="Liberation Serif" font-size="9.2" font-weight="normal" text-anchor="middle" fill="#111" stroke="#111" stroke-width="0.3" >b</text>
<text x="140.30" y="154.50" font-family="Liberation Serif" font-size="9.2" font-weight="normal" text-anchor="middle" fill="#111" stroke="#111" stroke-width="0.3" >aa</text>
<text x="152.40" y="149.60" font-family="Liberation Serif" font-size="9.2" font-weight="normal" text-anchor="middle" fill="#111" stroke="#111" stroke-width="0.3" >ab</text>
<text x="164.20" y="149.30" font-family="Liberation Serif" font-size="9.2" font-weight="normal" text-anchor="middle" fill="#111" stroke="#111" stroke-width="0.3" >ab</text>
<text x="169.00" y="157.20" font-family="Liberation Serif" font-size="9.2" font-weight="normal" text-anchor="middle" fill="#111" stroke="#111" stroke-width="0.3" >b</text>
<text x="174.60" y="151.00" font-family="Liberation Serif" font-size="9.2" font-weight="normal" text-anchor="middle" fill="#111" stroke="#111" stroke-width="0.3" >a</text>
<text x="181.70" y="155.10" font-family="Liberation Serif" font-size="9.2" font-weight="normal" text-anchor="middle" fill="#111" stroke="#111" stroke-width="0.3" >a</text>
<text x="188.00" y="149.80" font-family="Liberation Serif" font-size="9.2" font-weight="normal" text-anchor="middle" fill="#111" stroke="#111" stroke-width="0.3" >a</text>
<text x="201.80" y="143.50" font-family="Liberation Serif" font-size="9.2" font-weight="normal" text-anchor="middle" fill="#111" stroke="#111" stroke-width="0.3" >a</text>
<text x="213.50" y="140.30" font-family="Liberation Serif" font-size="9.2" font-weight="normal" text-anchor="middle" fill="#111" stroke="#111" stroke-width="0.3" >a</text>
<text x="226.60" y="137.10" font-family="Liberation Serif" font-size="9.2" font-weight="normal" text-anchor="middle" fill="#111" stroke="#111" stroke-width="0.3" >a</text>
<text x="231.40" y="144.50" font-family="Liberation Serif" font-size="9.2" font-weight="normal" text-anchor="middle" fill="#111" stroke="#111" stroke-width="0.3" >a</text>
<text x="237.80" y="146.60" font-family="Liberation Serif" font-size="9.2" font-weight="normal" text-anchor="middle" fill="#111" stroke="#111" stroke-width="0.3" >a</text>
<text x="243.00" y="150.90" font-family="Liberation Serif" font-size="9.2" font-weight="normal" text-anchor="middle" fill="#111" stroke="#111" stroke-width="0.3" >a</text>
<text x="250.50" y="144.50" font-family="Liberation Serif" font-size="9.2" font-weight="normal" text-anchor="middle" fill="#111" stroke="#111" stroke-width="0.3" >a</text>
<text x="256.80" y="155.10" font-family="Liberation Serif" font-size="9.2" font-weight="normal" text-anchor="middle" fill="#111" stroke="#111" stroke-width="0.3" >a</text>
<line x1="327.30" y1="65.40" x2="327.30" y2="233.70" stroke="#111" stroke-width="1.3"/>
<line x1="326.70" y1="233.10" x2="514.30" y2="233.10" stroke="#111" stroke-width="1.3"/>
<line x1="323.50" y1="233.00" x2="327.30" y2="233.00" stroke="#111" stroke-width="1.2"/>
<text x="317.80" y="236.50" font-family="Liberation Serif" font-size="10" font-weight="bold" text-anchor="end" fill="#111" stroke="#111" stroke-width="0.3" >0</text>
<line x1="323.50" y1="202.46" x2="327.30" y2="202.46" stroke="#111" stroke-width="1.2"/>
<text x="317.80" y="205.96" font-family="Liberation Serif" font-size="10" font-weight="bold" text-anchor="end" fill="#111" stroke="#111" stroke-width="0.3" >100</text>
<line x1="323.50" y1="171.92" x2="327.30" y2="171.92" stroke="#111" stroke-width="1.2"/>
<text x="317.80" y="175.42" font-family="Liberation Serif" font-size="10" font-weight="bold" text-anchor="end" fill="#111" stroke="#111" stroke-width="0.3" >200</text>
<line x1="323.50" y1="141.38" x2="327.30" y2="141.38" stroke="#111" stroke-width="1.2"/>
<text x="317.80" y="144.88" font-family="Liberation Serif" font-size="10" font-weight="bold" text-anchor="end" fill="#111" stroke="#111" stroke-width="0.3" >300</text>
<line x1="323.50" y1="110.84" x2="327.30" y2="110.84" stroke="#111" stroke-width="1.2"/>
<text x="317.80" y="114.34" font-family="Liberation Serif" font-size="10" font-weight="bold" text-anchor="end" fill="#111" stroke="#111" stroke-width="0.3" >400</text>
<line x1="323.50" y1="80.30" x2="327.30" y2="80.30" stroke="#111" stroke-width="1.2"/>
<text x="317.80" y="83.80" font-family="Liberation Serif" font-size="10" font-weight="bold" text-anchor="end" fill="#111" stroke="#111" stroke-width="0.3" >500</text>
<line x1="327.30" y1="233.10" x2="327.30" y2="236.10" stroke="#111" stroke-width="1.2"/>
<line x1="358.45" y1="233.10" x2="358.45" y2="236.10" stroke="#111" stroke-width="1.2"/>
<line x1="389.60" y1="233.10" x2="389.60" y2="236.10" stroke="#111" stroke-width="1.2"/>
<line x1="420.75" y1="233.10" x2="420.75" y2="236.10" stroke="#111" stroke-width="1.2"/>
<line x1="451.90" y1="233.10" x2="451.90" y2="236.10" stroke="#111" stroke-width="1.2"/>
<line x1="483.05" y1="233.10" x2="483.05" y2="236.10" stroke="#111" stroke-width="1.2"/>
<line x1="514.20" y1="233.10" x2="514.20" y2="236.10" stroke="#111" stroke-width="1.2"/>
<text x="342.88" y="249.00" font-family="Liberation Serif" font-size="10" font-weight="bold" text-anchor="middle" fill="#111" stroke="#111" stroke-width="0.3" >0</text>
<text x="374.02" y="249.00" font-family="Liberation Serif" font-size="10" font-weight="bold" text-anchor="middle" fill="#111" stroke="#111" stroke-width="0.3" >15</text>
<text x="405.18" y="249.00" font-family="Liberation Serif" font-size="10" font-weight="bold" text-anchor="middle" fill="#111" stroke="#111" stroke-width="0.3" >30</text>
<text x="436.32" y="249.00" font-family="Liberation Serif" font-size="10" font-weight="bold" text-anchor="middle" fill="#111" stroke="#111" stroke-width="0.3" >60</text>
<text x="467.48" y="249.00" font-family="Liberation Serif" font-size="10" font-weight="bold" text-anchor="middle" fill="#111" stroke="#111" stroke-width="0.3" >90</text>
<text x="498.62" y="249.00" font-family="Liberation Serif" font-size="10" font-weight="bold" text-anchor="middle" fill="#111" stroke="#111" stroke-width="0.3" >120</text>
<text x="421.30" y="263.00" font-family="Liberation Serif" font-size="11" font-weight="bold" text-anchor="middle" fill="#111" stroke="#111" stroke-width="0.3" >Minutes</text>
<text x="380.40" y="45.60" font-family="Liberation Serif" font-size="14" font-weight="bold" text-anchor="start" fill="#111" stroke="#111" stroke-width="0.3" >OGTT</text>
<text x="295.60" y="146.40" font-family="Liberation Serif" font-size="11" font-weight="bold" text-anchor="middle" fill="#111" stroke="#111" stroke-width="0.3" transform="rotate(-90 295.6 146.4)">Glycemia (mg/dl)</text>
<line x1="342.88" y1="184.20" x2="342.88" y2="178.00" stroke="#666" stroke-width="1.0"/>
<line x1="339.88" y1="178.00" x2="345.88" y2="178.00" stroke="#666" stroke-width="1.3"/>
<line x1="374.02" y1="110.60" x2="374.02" y2="86.00" stroke="#666" stroke-width="1.0"/>
<line x1="371.02" y1="86.00" x2="377.02" y2="86.00" stroke="#666" stroke-width="1.3"/>
<text x="374.02" y="84.60" font-family="Liberation Serif" font-size="9.2" font-weight="normal" text-anchor="middle" fill="#111" stroke="#111" stroke-width="0.3" >b</text>
<line x1="405.18" y1="111.00" x2="405.18" y2="67.70" stroke="#666" stroke-width="1.0"/>
<line x1="402.18" y1="67.70" x2="408.18" y2="67.70" stroke="#666" stroke-width="1.3"/>
<text x="405.18" y="66.30" font-family="Liberation Serif" font-size="9.2" font-weight="normal" text-anchor="middle" fill="#111" stroke="#111" stroke-width="0.3" >b</text>
<line x1="436.32" y1="149.70" x2="436.32" y2="120.50" stroke="#666" stroke-width="1.0"/>
<line x1="433.32" y1="120.50" x2="439.32" y2="120.50" stroke="#666" stroke-width="1.3"/>
<text x="436.32" y="119.10" font-family="Liberation Serif" font-size="9.2" font-weight="normal" text-anchor="middle" fill="#111" stroke="#111" stroke-width="0.3" >b</text>
<line x1="467.48" y1="166.90" x2="467.48" y2="152.30" stroke="#666" stroke-width="1.0"/>
<line x1="464.48" y1="152.30" x2="470.48" y2="152.30" stroke="#666" stroke-width="1.3"/>
<text x="467.48" y="150.90" font-family="Liberation Serif" font-size="9.2" font-weight="normal" text-anchor="middle" fill="#111" stroke="#111" stroke-width="0.3" >b</text>
<line x1="498.62" y1="165.50" x2="498.62" y2="150.50" stroke="#666" stroke-width="1.0"/>
<line x1="495.62" y1="150.50" x2="501.62" y2="150.50" stroke="#666" stroke-width="1.3"/>
<text x="498.62" y="149.10" font-family="Liberation Serif" font-size="9.2" font-weight="normal" text-anchor="middle" fill="#111" stroke="#111" stroke-width="0.3" >b</text>
<line x1="342.88" y1="203.00" x2="342.88" y2="199.00" stroke="#333" stroke-width="0.9"/>
<line x1="340.27" y1="199.00" x2="345.48" y2="199.00" stroke="#333" stroke-width="1.1700000000000002"/>
<line x1="374.02" y1="156.70" x2="374.02" y2="144.60" stroke="#333" stroke-width="0.9"/>
<line x1="371.42" y1="144.60" x2="376.62" y2="144.60" stroke="#333" stroke-width="1.1700000000000002"/>
<line x1="405.18" y1="179.70" x2="405.18" y2="175.00" stroke="#333" stroke-width="0.9"/>
<line x1="402.57" y1="175.00" x2="407.78" y2="175.00" stroke="#333" stroke-width="1.1700000000000002"/>
<line x1="436.32" y1="188.80" x2="436.32" y2="184.00" stroke="#333" stroke-width="0.9"/>
<line x1="433.72" y1="184.00" x2="438.93" y2="184.00" stroke="#333" stroke-width="1.1700000000000002"/>
<line x1="467.48" y1="192.50" x2="467.48" y2="188.00" stroke="#333" stroke-width="0.9"/>
<line x1="464.88" y1="188.00" x2="470.08" y2="188.00" stroke="#333" stroke-width="1.1700000000000002"/>
<line x1="498.62" y1="196.10" x2="498.62" y2="191.00" stroke="#333" stroke-width="0.9"/>
<line x1="496.02" y1="191.00" x2="501.23" y2="191.00" stroke="#333" stroke-width="1.1700000000000002"/>
<line x1="342.88" y1="193.80" x2="342.88" y2="191.00" stroke="#333" stroke-width="0.9"/>
<line x1="340.27" y1="191.00" x2="345.48" y2="191.00" stroke="#333" stroke-width="1.1700000000000002"/>
<line x1="374.02" y1="175.30" x2="374.02" y2="171.50" stroke="#333" stroke-width="0.9"/>
<line x1="371.42" y1="171.50" x2="376.62" y2="171.50" stroke="#333" stroke-width="1.1700000000000002"/>
<line x1="405.18" y1="183.40" x2="405.18" y2="180.00" stroke="#333" stroke-width="0.9"/>
<line x1="402.57" y1="180.00" x2="407.78" y2="180.00" stroke="#333" stroke-width="1.1700000000000002"/>
<line x1="436.32" y1="193.60" x2="436.32" y2="190.00" stroke="#333" stroke-width="0.9"/>
<line x1="433.72" y1="190.00" x2="438.93" y2="190.00" stroke="#333" stroke-width="1.1700000000000002"/>
<line x1="467.48" y1="198.00" x2="467.48" y2="195.00" stroke="#333" stroke-width="0.9"/>
<line x1="464.88" y1="195.00" x2="470.08" y2="195.00" stroke="#333" stroke-width="1.1700000000000002"/>
<line x1="498.62" y1="200.50" x2="498.62" y2="197.00" stroke="#333" stroke-width="0.9"/>
<line x1="496.02" y1="197.00" x2="501.23" y2="197.00" stroke="#333" stroke-width="1.1700000000000002"/>
<polyline points="342.88,211.20 374.02,187.00 405.18,184.50 436.32,196.00 467.48,200.90 498.62,201.60" fill="none" stroke="#838383" stroke-width="2.9" stroke-linejoin="round" stroke-linecap="round"/>
<polyline points="342.88,193.80 374.02,175.30 405.18,183.40 436.32,193.60 467.48,198.00 498.62,200.50" fill="none" stroke="#dc1c20" stroke-width="2.9" stroke-linejoin="round" stroke-linecap="round"/>
<polyline points="342.88,203.00 374.02,156.70 405.18,179.70 436.32,188.80 467.48,192.50 498.62,196.10" fill="none" stroke="#1c66b8" stroke-width="2.9" stroke-linejoin="round" stroke-linecap="round"/>
<polyline points="342.88,184.20 374.02,110.60 405.18,111.00 436.32,149.70 467.48,166.90 498.62,165.50" fill="none" stroke="#0f8e20" stroke-width="2.9" stroke-linejoin="round" stroke-linecap="round"/>
<circle cx="342.88" cy="211.20" r="1.3" fill="#111"/>
<circle cx="374.02" cy="187.00" r="1.3" fill="#111"/>
<circle cx="405.18" cy="184.50" r="1.3" fill="#111"/>
<circle cx="436.32" cy="196.00" r="1.3" fill="#111"/>
<circle cx="467.48" cy="200.90" r="1.3" fill="#111"/>
<circle cx="498.62" cy="201.60" r="1.3" fill="#111"/>
<circle cx="342.88" cy="193.80" r="1.3" fill="#111"/>
<circle cx="374.02" cy="175.30" r="1.3" fill="#111"/>
<circle cx="405.18" cy="183.40" r="1.3" fill="#111"/>
<circle cx="436.32" cy="193.60" r="1.3" fill="#111"/>
<circle cx="467.48" cy="198.00" r="1.3" fill="#111"/>
<circle cx="498.62" cy="200.50" r="1.3" fill="#111"/>
<circle cx="342.88" cy="203.00" r="1.3" fill="#111"/>
<circle cx="374.02" cy="156.70" r="1.3" fill="#111"/>
<circle cx="405.18" cy="179.70" r="1.3" fill="#111"/>
<circle cx="436.32" cy="188.80" r="1.3" fill="#111"/>
<circle cx="467.48" cy="192.50" r="1.3" fill="#111"/>
<circle cx="498.62" cy="196.10" r="1.3" fill="#111"/>
<circle cx="342.88" cy="184.20" r="1.3" fill="#111"/>
<circle cx="374.02" cy="110.60" r="1.3" fill="#111"/>
<circle cx="405.18" cy="111.00" r="1.3" fill="#111"/>
<circle cx="436.32" cy="149.70" r="1.3" fill="#111"/>
<circle cx="467.48" cy="166.90" r="1.3" fill="#111"/>
<circle cx="498.62" cy="165.50" r="1.3" fill="#111"/>
<text x="374.00" y="142.00" font-family="Liberation Serif" font-size="9.2" font-weight="normal" text-anchor="middle" fill="#111" stroke="#111" stroke-width="0.3" >a</text>
<text x="374.00" y="169.00" font-family="Liberation Serif" font-size="9.2" font-weight="normal" text-anchor="middle" fill="#111" stroke="#111" stroke-width="0.3" >a</text>
<text x="374.00" y="184.00" font-family="Liberation Serif" font-size="9.2" font-weight="normal" text-anchor="middle" fill="#111" stroke="#111" stroke-width="0.3" >a</text>
<text x="405.10" y="174.50" font-family="Liberation Serif" font-size="9.2" font-weight="normal" text-anchor="middle" fill="#111" stroke="#111" stroke-width="0.3" >aaa</text>
<text x="436.30" y="184.30" font-family="Liberation Serif" font-size="9.2" font-weight="normal" text-anchor="middle" fill="#111" stroke="#111" stroke-width="0.3" >aaa</text>
<text x="467.40" y="187.60" font-family="Liberation Serif" font-size="9.2" font-weight="normal" text-anchor="middle" fill="#111" stroke="#111" stroke-width="0.3" >aaa</text>
<text x="498.60" y="190.00" font-family="Liberation Serif" font-size="9.2" font-weight="normal" text-anchor="middle" fill="#111" stroke="#111" stroke-width="0.3" >aaa</text>
<text x="336.00" y="180.00" font-family="Liberation Serif" font-size="9.2" font-weight="normal" text-anchor="middle" fill="#111" stroke="#111" stroke-width="0.3" >b</text>
<text x="337.00" y="193.80" font-family="Liberation Serif" font-size="9.2" font-weight="normal" text-anchor="middle" fill="#111" stroke="#111" stroke-width="0.3" >ab</text>
<text x="337.00" y="204.70" font-family="Liberation Serif" font-size="9.2" font-weight="normal" text-anchor="middle" fill="#111" stroke="#111" stroke-width="0.3" >ab</text>
<text x="337.00" y="213.80" font-family="Liberation Serif" font-size="9.2" font-weight="normal" text-anchor="middle" fill="#111" stroke="#111" stroke-width="0.3" >a</text>
<line x1="456.50" y1="30.20" x2="456.50" y2="87.40" stroke="#111" stroke-width="1.1"/>
<line x1="456.00" y1="86.90" x2="519.50" y2="86.90" stroke="#111" stroke-width="1.2"/>
<line x1="454.00" y1="86.90" x2="456.50" y2="86.90" stroke="#111" stroke-width="0.8"/>
<text x="450.80" y="88.90" font-family="Liberation Serif" font-size="5.8" font-weight="bold" text-anchor="end" fill="#111" stroke="#111" stroke-width="0.15" >0</text>
<line x1="454.00" y1="75.56" x2="456.50" y2="75.56" stroke="#111" stroke-width="0.8"/>
<text x="450.80" y="77.56" font-family="Liberation Serif" font-size="5.8" font-weight="bold" text-anchor="end" fill="#111" stroke="#111" stroke-width="0.15" >5000</text>
<line x1="454.00" y1="64.22" x2="456.50" y2="64.22" stroke="#111" stroke-width="0.8"/>
<text x="450.80" y="66.22" font-family="Liberation Serif" font-size="5.8" font-weight="bold" text-anchor="end" fill="#111" stroke="#111" stroke-width="0.15" >10000</text>
<line x1="454.00" y1="52.88" x2="456.50" y2="52.88" stroke="#111" stroke-width="0.8"/>
<text x="450.80" y="54.88" font-family="Liberation Serif" font-size="5.8" font-weight="bold" text-anchor="end" fill="#111" stroke="#111" stroke-width="0.15" >15000</text>
<line x1="454.00" y1="41.54" x2="456.50" y2="41.54" stroke="#111" stroke-width="0.8"/>
<text x="450.80" y="43.54" font-family="Liberation Serif" font-size="5.8" font-weight="bold" text-anchor="end" fill="#111" stroke="#111" stroke-width="0.15" >20000</text>
<line x1="454.00" y1="30.20" x2="456.50" y2="30.20" stroke="#111" stroke-width="0.8"/>
<text x="450.80" y="32.20" font-family="Liberation Serif" font-size="5.8" font-weight="bold" text-anchor="end" fill="#111" stroke="#111" stroke-width="0.15" >25000</text>
<text x="469.00" y="25.40" font-family="Liberation Serif" font-size="9.3" font-weight="bold" text-anchor="start" fill="#111" stroke="#111" stroke-width="0.3" >AUC OGTT</text>
<text x="434.20" y="54.50" font-family="Liberation Serif" font-size="6.4" font-weight="bold" text-anchor="middle" fill="#111" stroke="#111" stroke-width="0.15" transform="rotate(-90 434 54)">Units of AUC</text>
<rect x="459.40" y="71.20" width="8.60" height="15.70" fill="url(#gb)" stroke="#111" stroke-width="0.6"/>
<rect x="475.80" y="52.30" width="8.60" height="34.60" fill="url(#gg)" stroke="#111" stroke-width="0.6"/>
<line x1="480.10" y1="52.30" x2="480.10" y2="43.70" stroke="#333" stroke-width="0.8"/>
<line x1="478.10" y1="43.70" x2="482.10" y2="43.70" stroke="#333" stroke-width="1.04"/>
<rect x="491.20" y="72.50" width="8.60" height="14.40" fill="url(#gy)" stroke="#111" stroke-width="0.6"/>
<rect x="507.50" y="84.30" width="8.70" height="2.60" fill="url(#grd)" stroke="#111" stroke-width="0.6"/>
<line x1="511.85" y1="84.00" x2="511.85" y2="80.00" stroke="#333" stroke-width="0.8"/>
<line x1="509.85" y1="80.00" x2="513.85" y2="80.00" stroke="#333" stroke-width="1.04"/>
<text x="463.70" y="66.00" font-family="Liberation Serif" font-size="7" font-weight="bold" text-anchor="middle" fill="#111" stroke="#111" stroke-width="0.15" >ab</text>
<text x="480.10" y="41.50" font-family="Liberation Serif" font-size="7" font-weight="bold" text-anchor="middle" fill="#111" stroke="#111" stroke-width="0.15" >a</text>
<text x="495.50" y="68.50" font-family="Liberation Serif" font-size="7" font-weight="bold" text-anchor="middle" fill="#111" stroke="#111" stroke-width="0.15" >b</text>
<text x="511.85" y="78.50" font-family="Liberation Serif" font-size="7" font-weight="bold" text-anchor="middle" fill="#111" stroke="#111" stroke-width="0.15" >b</text>
<text x="463.70" y="94.60" font-family="Liberation Serif" font-size="5.3" font-weight="bold" text-anchor="middle" fill="#111" stroke="#111" stroke-width="0.15" >WT</text>
<text x="463.70" y="100.80" font-family="Liberation Serif" font-size="5.3" font-weight="bold" text-anchor="middle" fill="#111" stroke="#111" stroke-width="0.15" >CTL</text>
<text x="480.10" y="94.60" font-family="Liberation Serif" font-size="5.3" font-weight="bold" text-anchor="middle" fill="#111" stroke="#111" stroke-width="0.15" >WT</text>
<text x="480.10" y="100.80" font-family="Liberation Serif" font-size="5.3" font-weight="bold" text-anchor="middle" fill="#111" stroke="#111" stroke-width="0.15" >HFHS</text>
<text x="495.50" y="94.60" font-family="Liberation Serif" font-size="5.3" font-weight="bold" text-anchor="middle" fill="#111" stroke="#111" stroke-width="0.15" >Fat-1</text>
<text x="495.50" y="100.80" font-family="Liberation Serif" font-size="5.3" font-weight="bold" text-anchor="middle" fill="#111" stroke="#111" stroke-width="0.15" >CTL</text>
<text x="511.85" y="94.60" font-family="Liberation Serif" font-size="5.3" font-weight="bold" text-anchor="middle" fill="#111" stroke="#111" stroke-width="0.15" >Fat-1</text>
<text x="511.85" y="100.80" font-family="Liberation Serif" font-size="5.3" font-weight="bold" text-anchor="middle" fill="#111" stroke="#111" stroke-width="0.15" >HFHS</text>
<line x1="54.80" y1="292.30" x2="54.80" y2="448.60" stroke="#111" stroke-width="1.3"/>
<line x1="54.20" y1="448.00" x2="230.50" y2="448.00" stroke="#111" stroke-width="1.3"/>
<line x1="50.80" y1="447.70" x2="54.80" y2="447.70" stroke="#111" stroke-width="1.2"/>
<text x="46.60" y="451.60" font-family="Liberation Serif" font-size="10.8" font-weight="bold" text-anchor="end" fill="#111" stroke="#111" stroke-width="0.3" >0</text>
<line x1="50.80" y1="428.28" x2="54.80" y2="428.28" stroke="#111" stroke-width="1.2"/>
<text x="46.60" y="432.18" font-family="Liberation Serif" font-size="10.8" font-weight="bold" text-anchor="end" fill="#111" stroke="#111" stroke-width="0.3" >0.2</text>
<line x1="50.80" y1="408.86" x2="54.80" y2="408.86" stroke="#111" stroke-width="1.2"/>
<text x="46.60" y="412.76" font-family="Liberation Serif" font-size="10.8" font-weight="bold" text-anchor="end" fill="#111" stroke="#111" stroke-width="0.3" >0.4</text>
<line x1="50.80" y1="389.44" x2="54.80" y2="389.44" stroke="#111" stroke-width="1.2"/>
<text x="46.60" y="393.34" font-family="Liberation Serif" font-size="10.8" font-weight="bold" text-anchor="end" fill="#111" stroke="#111" stroke-width="0.3" >0.6</text>
<line x1="50.80" y1="370.02" x2="54.80" y2="370.02" stroke="#111" stroke-width="1.2"/>
<text x="46.60" y="373.92" font-family="Liberation Serif" font-size="10.8" font-weight="bold" text-anchor="end" fill="#111" stroke="#111" stroke-width="0.3" >0.8</text>
<line x1="50.80" y1="350.60" x2="54.80" y2="350.60" stroke="#111" stroke-width="1.2"/>
<text x="46.60" y="354.50" font-family="Liberation Serif" font-size="10.8" font-weight="bold" text-anchor="end" fill="#111" stroke="#111" stroke-width="0.3" >1</text>
<line x1="50.80" y1="331.18" x2="54.80" y2="331.18" stroke="#111" stroke-width="1.2"/>
<text x="46.60" y="335.08" font-family="Liberation Serif" font-size="10.8" font-weight="bold" text-anchor="end" fill="#111" stroke="#111" stroke-width="0.3" >1.2</text>
<line x1="50.80" y1="311.76" x2="54.80" y2="311.76" stroke="#111" stroke-width="1.2"/>
<text x="46.60" y="315.66" font-family="Liberation Serif" font-size="10.8" font-weight="bold" text-anchor="end" fill="#111" stroke="#111" stroke-width="0.3" >1.4</text>
<line x1="50.80" y1="292.34" x2="54.80" y2="292.34" stroke="#111" stroke-width="1.2"/>
<text x="46.60" y="296.24" font-family="Liberation Serif" font-size="10.8" font-weight="bold" text-anchor="end" fill="#111" stroke="#111" stroke-width="0.3" >1.6</text>
<line x1="54.80" y1="448.00" x2="54.80" y2="451.00" stroke="#111" stroke-width="1.2"/>
<line x1="98.70" y1="448.00" x2="98.70" y2="451.00" stroke="#111" stroke-width="1.2"/>
<line x1="142.60" y1="448.00" x2="142.60" y2="451.00" stroke="#111" stroke-width="1.2"/>
<line x1="186.50" y1="448.00" x2="186.50" y2="451.00" stroke="#111" stroke-width="1.2"/>
<line x1="230.40" y1="448.00" x2="230.40" y2="451.00" stroke="#111" stroke-width="1.2"/>
<text x="76.75" y="464.80" font-family="Liberation Serif" font-size="11" font-weight="bold" text-anchor="middle" fill="#111" stroke="#111" stroke-width="0.3" >t0</text>
<text x="120.65" y="464.80" font-family="Liberation Serif" font-size="11" font-weight="bold" text-anchor="middle" fill="#111" stroke="#111" stroke-width="0.3" >t15</text>
<text x="164.55" y="464.80" font-family="Liberation Serif" font-size="11" font-weight="bold" text-anchor="middle" fill="#111" stroke="#111" stroke-width="0.3" >t30</text>
<text x="208.45" y="464.80" font-family="Liberation Serif" font-size="11" font-weight="bold" text-anchor="middle" fill="#111" stroke="#111" stroke-width="0.3" >t60</text>
<text x="18.60" y="377.70" font-family="Liberation Serif" font-size="11" font-weight="bold" text-anchor="middle" fill="#111" stroke="#111" stroke-width="0.3" transform="rotate(-90 18.6 377.7)">Plasma insulin (ng/ml)</text>
<line x1="76.75" y1="380.00" x2="76.75" y2="361.30" stroke="#333" stroke-width="0.9"/>
<line x1="74.15" y1="361.30" x2="79.35" y2="361.30" stroke="#333" stroke-width="1.1700000000000002"/>
<text x="76.75" y="359.50" font-family="Liberation Serif" font-size="9" font-weight="bold" text-anchor="middle" fill="#111" stroke="#111" stroke-width="0.3" >b</text>
<line x1="120.65" y1="346.30" x2="120.65" y2="318.30" stroke="#333" stroke-width="0.9"/>
<line x1="118.05" y1="318.30" x2="123.25" y2="318.30" stroke="#333" stroke-width="1.1700000000000002"/>
<text x="120.65" y="316.50" font-family="Liberation Serif" font-size="9" font-weight="bold" text-anchor="middle" fill="#111" stroke="#111" stroke-width="0.3" >a</text>
<line x1="164.55" y1="389.70" x2="164.55" y2="370.60" stroke="#333" stroke-width="0.9"/>
<line x1="161.95" y1="370.60" x2="167.15" y2="370.60" stroke="#333" stroke-width="1.1700000000000002"/>
<text x="164.55" y="368.80" font-family="Liberation Serif" font-size="9" font-weight="bold" text-anchor="middle" fill="#111" stroke="#111" stroke-width="0.3" >b</text>
<line x1="208.45" y1="396.90" x2="208.45" y2="383.60" stroke="#333" stroke-width="0.9"/>
<line x1="205.85" y1="383.60" x2="211.05" y2="383.60" stroke="#333" stroke-width="1.1700000000000002"/>
<text x="208.45" y="381.80" font-family="Liberation Serif" font-size="9" font-weight="bold" text-anchor="middle" fill="#111" stroke="#111" stroke-width="0.3" >b</text>
<line x1="120.65" y1="376.50" x2="120.65" y2="351.00" stroke="#333" stroke-width="0.9"/>
<line x1="118.05" y1="351.00" x2="123.25" y2="351.00" stroke="#333" stroke-width="1.1700000000000002"/>
<text x="123.65" y="355.00" font-family="Liberation Serif" font-size="8" font-weight="bold" text-anchor="middle" fill="#111" stroke="#111" stroke-width="0.3" >a</text>
<line x1="120.65" y1="412.00" x2="120.65" y2="399.60" stroke="#333" stroke-width="0.9"/>
<line x1="118.05" y1="399.60" x2="123.25" y2="399.60" stroke="#333" stroke-width="1.1700000000000002"/>
<text x="120.65" y="398.50" font-family="Liberation Serif" font-size="8" font-weight="bold" text-anchor="middle" fill="#111" stroke="#111" stroke-width="0.3" >a</text>
<line x1="76.75" y1="419.50" x2="76.75" y2="416.00" stroke="#333" stroke-width="0.9"/>
<line x1="74.15" y1="416.00" x2="79.35" y2="416.00" stroke="#333" stroke-width="1.1700000000000002"/>
<text x="120.65" y="421.50" font-family="Liberation Serif" font-size="8" font-weight="bold" text-anchor="middle" fill="#111" stroke="#111" stroke-width="0.3" >b</text>
<line x1="118.15" y1="424.00" x2="123.15" y2="424.00" stroke="#333" stroke-width="1"/>
<polyline points="76.75,423.80 120.65,424.50 164.55,422.00 208.45,423.50" fill="none" stroke="#838383" stroke-width="2.7" stroke-linejoin="round" stroke-linecap="round"/>
<polyline points="76.75,420.80 120.65,412.00 164.55,421.50 208.45,421.90" fill="none" stroke="#dc1c20" stroke-width="2.7" stroke-linejoin="round" stroke-linecap="round"/>
<polyline points="76.75,419.50 120.65,376.50 164.55,426.00 208.45,425.40" fill="none" stroke="#1c66b8" stroke-width="2.7" stroke-linejoin="round" stroke-linecap="round"/>
<polyline points="76.75,380.00 120.65,346.30 164.55,389.70 208.45,396.90" fill="none" stroke="#0f8e20" stroke-width="2.7" stroke-linejoin="round" stroke-linecap="round"/>
<text x="71.00" y="416.50" font-family="Liberation Serif" font-size="8.2" font-weight="bold" text-anchor="middle" fill="#111" stroke="#111" stroke-width="0.25" >a</text>
<text x="71.00" y="421.50" font-family="Liberation Serif" font-size="8.2" font-weight="bold" text-anchor="middle" fill="#111" stroke="#111" stroke-width="0.25" >a</text>
<text x="71.00" y="427.00" font-family="Liberation Serif" font-size="8.2" font-weight="bold" text-anchor="middle" fill="#111" stroke="#111" stroke-width="0.25" >a</text>
<text x="164.50" y="418.50" font-family="Liberation Serif" font-size="8.2" font-weight="bold" text-anchor="middle" fill="#111" stroke="#111" stroke-width="0.25" >ab</text>
<text x="158.50" y="428.00" font-family="Liberation Serif" font-size="8.2" font-weight="bold" text-anchor="middle" fill="#111" stroke="#111" stroke-width="0.25" >a</text>
<text x="165.50" y="433.50" font-family="Liberation Serif" font-size="8.2" font-weight="bold" text-anchor="middle" fill="#111" stroke="#111" stroke-width="0.25" >a</text>
<text x="214.50" y="419.00" font-family="Liberation Serif" font-size="8.2" font-weight="bold" text-anchor="middle" fill="#111" stroke="#111" stroke-width="0.25" >a</text>
<text x="214.50" y="425.00" font-family="Liberation Serif" font-size="8.2" font-weight="bold" text-anchor="middle" fill="#111" stroke="#111" stroke-width="0.25" >a</text>
<text x="214.50" y="431.00" font-family="Liberation Serif" font-size="8.2" font-weight="bold" text-anchor="middle" fill="#111" stroke="#111" stroke-width="0.25" >a</text>
<line x1="165.40" y1="292.60" x2="165.40" y2="359.80" stroke="#111" stroke-width="1.1"/>
<line x1="164.90" y1="359.30" x2="235.40" y2="359.30" stroke="#111" stroke-width="1.2"/>
<line x1="162.90" y1="359.30" x2="165.40" y2="359.30" stroke="#111" stroke-width="0.8"/>
<text x="161.00" y="361.70" font-family="Liberation Serif" font-size="7" font-weight="bold" text-anchor="end" fill="#111" stroke="#111" stroke-width="0.3" >0</text>
<line x1="162.90" y1="348.18" x2="165.40" y2="348.18" stroke="#111" stroke-width="0.8"/>
<text x="161.00" y="350.58" font-family="Liberation Serif" font-size="7" font-weight="bold" text-anchor="end" fill="#111" stroke="#111" stroke-width="0.3" >10</text>
<line x1="162.90" y1="337.07" x2="165.40" y2="337.07" stroke="#111" stroke-width="0.8"/>
<text x="161.00" y="339.47" font-family="Liberation Serif" font-size="7" font-weight="bold" text-anchor="end" fill="#111" stroke="#111" stroke-width="0.3" >20</text>
<line x1="162.90" y1="325.95" x2="165.40" y2="325.95" stroke="#111" stroke-width="0.8"/>
<text x="161.00" y="328.35" font-family="Liberation Serif" font-size="7" font-weight="bold" text-anchor="end" fill="#111" stroke="#111" stroke-width="0.3" >30</text>
<line x1="162.90" y1="314.83" x2="165.40" y2="314.83" stroke="#111" stroke-width="0.8"/>
<text x="161.00" y="317.23" font-family="Liberation Serif" font-size="7" font-weight="bold" text-anchor="end" fill="#111" stroke="#111" stroke-width="0.3" >40</text>
<line x1="162.90" y1="303.72" x2="165.40" y2="303.72" stroke="#111" stroke-width="0.8"/>
<text x="161.00" y="306.12" font-family="Liberation Serif" font-size="7" font-weight="bold" text-anchor="end" fill="#111" stroke="#111" stroke-width="0.3" >50</text>
<line x1="162.90" y1="292.60" x2="165.40" y2="292.60" stroke="#111" stroke-width="0.8"/>
<text x="161.00" y="295.00" font-family="Liberation Serif" font-size="7" font-weight="bold" text-anchor="end" fill="#111" stroke="#111" stroke-width="0.3" >60</text>
<text x="185.60" y="288.30" font-family="Liberation Serif" font-size="9" font-weight="bold" text-anchor="start" fill="#111" stroke="#111" stroke-width="0.3" >AUC Insulin</text>
<text x="151.50" y="322.70" font-family="Liberation Serif" font-size="9" font-weight="bold" text-anchor="middle" fill="#111" stroke="#111" stroke-width="0.3" transform="rotate(-90 151.5 322.7)">Units of AUC</text>
<rect x="169.80" y="335.20" width="9.30" height="24.10" fill="url(#gb)" stroke="#111" stroke-width="0.6"/>
<line x1="174.45" y1="335.20" x2="174.45" y2="331.40" stroke="#333" stroke-width="0.8"/>
<line x1="172.45" y1="331.40" x2="176.45" y2="331.40" stroke="#333" stroke-width="1.04"/>
<rect x="187.50" y="310.60" width="9.60" height="48.70" fill="url(#gg)" stroke="#111" stroke-width="0.6"/>
<line x1="192.30" y1="310.60" x2="192.30" y2="298.90" stroke="#333" stroke-width="0.8"/>
<line x1="190.30" y1="298.90" x2="194.30" y2="298.90" stroke="#333" stroke-width="1.04"/>
<rect x="205.10" y="341.90" width="9.80" height="17.40" fill="url(#gy)" stroke="#111" stroke-width="0.6"/>
<rect x="222.90" y="339.70" width="9.40" height="19.60" fill="url(#gr)" stroke="#111" stroke-width="0.6"/>
<line x1="227.60" y1="339.70" x2="227.60" y2="337.50" stroke="#333" stroke-width="0.8"/>
<line x1="225.60" y1="337.50" x2="229.60" y2="337.50" stroke="#333" stroke-width="1.04"/>
<text x="174.45" y="330.50" font-family="Liberation Serif" font-size="7" font-weight="bold" text-anchor="middle" fill="#111" stroke="#111" stroke-width="0.15" >a</text>
<text x="192.30" y="296.80" font-family="Liberation Serif" font-size="7" font-weight="bold" text-anchor="middle" fill="#111" stroke="#111" stroke-width="0.15" >a</text>
<text x="210.00" y="339.50" font-family="Liberation Serif" font-size="7" font-weight="bold" text-anchor="middle" fill="#111" stroke="#111" stroke-width="0.15" >ab</text>
<text x="227.60" y="336.00" font-family="Liberation Serif" font-size="7" font-weight="bold" text-anchor="middle" fill="#111" stroke="#111" stroke-width="0.15" >a</text>
<text x="174.45" y="365.60" font-family="Liberation Serif" font-size="5.6" font-weight="bold" text-anchor="middle" fill="#111" stroke="#111" stroke-width="0.15" >WT</text>
<text x="174.45" y="371.50" font-family="Liberation Serif" font-size="5.6" font-weight="bold" text-anchor="middle" fill="#111" stroke="#111" stroke-width="0.15" >CTL</text>
<text x="192.30" y="365.60" font-family="Liberation Serif" font-size="5.6" font-weight="bold" text-anchor="middle" fill="#111" stroke="#111" stroke-width="0.15" >WT</text>
<text x="192.30" y="371.50" font-family="Liberation Serif" font-size="5.6" font-weight="bold" text-anchor="middle" fill="#111" stroke="#111" stroke-width="0.15" >HFHS</text>
<text x="210.00" y="365.60" font-family="Liberation Serif" font-size="5.6" font-weight="bold" text-anchor="middle" fill="#111" stroke="#111" stroke-width="0.15" >Fat-1</text>
<text x="210.00" y="371.50" font-family="Liberation Serif" font-size="5.6" font-weight="bold" text-anchor="middle" fill="#111" stroke="#111" stroke-width="0.15" >CTL</text>
<text x="227.60" y="365.60" font-family="Liberation Serif" font-size="5.6" font-weight="bold" text-anchor="middle" fill="#111" stroke="#111" stroke-width="0.15" >Fat-1</text>
<text x="227.60" y="371.50" font-family="Liberation Serif" font-size="5.6" font-weight="bold" text-anchor="middle" fill="#111" stroke="#111" stroke-width="0.15" >HFHS</text>
<line x1="318.50" y1="301.00" x2="318.50" y2="448.60" stroke="#111" stroke-width="1.3"/>
<line x1="317.90" y1="448.00" x2="503.20" y2="448.00" stroke="#111" stroke-width="1.3"/>
<line x1="314.60" y1="447.90" x2="318.50" y2="447.90" stroke="#111" stroke-width="1.2"/>
<text x="309.90" y="451.70" font-family="Liberation Serif" font-size="10.5" font-weight="bold" text-anchor="end" fill="#111" stroke="#111" stroke-width="0.3" >0</text>
<line x1="314.60" y1="426.91" x2="318.50" y2="426.91" stroke="#111" stroke-width="1.2"/>
<text x="309.90" y="430.71" font-family="Liberation Serif" font-size="10.5" font-weight="bold" text-anchor="end" fill="#111" stroke="#111" stroke-width="0.3" >50</text>
<line x1="314.60" y1="405.93" x2="318.50" y2="405.93" stroke="#111" stroke-width="1.2"/>
<text x="309.90" y="409.73" font-family="Liberation Serif" font-size="10.5" font-weight="bold" text-anchor="end" fill="#111" stroke="#111" stroke-width="0.3" >100</text>
<line x1="314.60" y1="384.94" x2="318.50" y2="384.94" stroke="#111" stroke-width="1.2"/>
<text x="309.90" y="388.75" font-family="Liberation Serif" font-size="10.5" font-weight="bold" text-anchor="end" fill="#111" stroke="#111" stroke-width="0.3" >150</text>
<line x1="314.60" y1="363.96" x2="318.50" y2="363.96" stroke="#111" stroke-width="1.2"/>
<text x="309.90" y="367.76" font-family="Liberation Serif" font-size="10.5" font-weight="bold" text-anchor="end" fill="#111" stroke="#111" stroke-width="0.3" >200</text>
<line x1="314.60" y1="342.97" x2="318.50" y2="342.97" stroke="#111" stroke-width="1.2"/>
<text x="309.90" y="346.77" font-family="Liberation Serif" font-size="10.5" font-weight="bold" text-anchor="end" fill="#111" stroke="#111" stroke-width="0.3" >250</text>
<line x1="314.60" y1="321.99" x2="318.50" y2="321.99" stroke="#111" stroke-width="1.2"/>
<text x="309.90" y="325.79" font-family="Liberation Serif" font-size="10.5" font-weight="bold" text-anchor="end" fill="#111" stroke="#111" stroke-width="0.3" >300</text>
<line x1="314.60" y1="301.00" x2="318.50" y2="301.00" stroke="#111" stroke-width="1.2"/>
<text x="309.90" y="304.81" font-family="Liberation Serif" font-size="10.5" font-weight="bold" text-anchor="end" fill="#111" stroke="#111" stroke-width="0.3" >350</text>
<text x="366.30" y="300.50" font-family="Liberation Serif" font-size="14" font-weight="bold" text-anchor="start" fill="#111" stroke="#111" stroke-width="0.3" >HOMA-IR Index</text>
<rect x="329.30" y="424.70" width="23.50" height="23.30" fill="url(#gbs)" stroke="#0a1f3a" stroke-width="1.0"/>
<line x1="341.10" y1="424.70" x2="341.10" y2="419.00" stroke="#333" stroke-width="1.0"/>
<line x1="338.10" y1="419.00" x2="344.10" y2="419.00" stroke="#333" stroke-width="1.3"/>
<rect x="375.00" y="368.20" width="23.60" height="79.80" fill="url(#ggs)" stroke="#062a06" stroke-width="1.0"/>
<line x1="386.80" y1="368.20" x2="386.80" y2="324.30" stroke="#333" stroke-width="1.0"/>
<line x1="383.80" y1="324.30" x2="389.80" y2="324.30" stroke="#333" stroke-width="1.3"/>
<rect x="421.00" y="439.80" width="23.30" height="8.20" fill="url(#gys)" stroke="#222" stroke-width="1.0"/>
<line x1="432.60" y1="439.80" x2="432.60" y2="438.50" stroke="#333" stroke-width="1.0"/>
<line x1="429.60" y1="438.50" x2="435.60" y2="438.50" stroke="#333" stroke-width="1.3"/>
<rect x="466.70" y="436.00" width="23.30" height="12.00" fill="url(#grs)" stroke="#300" stroke-width="1.0"/>
<line x1="478.30" y1="436.00" x2="478.30" y2="432.80" stroke="#333" stroke-width="1.0"/>
<line x1="475.30" y1="432.80" x2="481.30" y2="432.80" stroke="#333" stroke-width="1.3"/>
<text x="341.10" y="413.30" font-family="Liberation Serif" font-size="9" font-weight="bold" text-anchor="middle" fill="#111" stroke="#111" stroke-width="0.3" >ab</text>
<text x="386.80" y="318.80" font-family="Liberation Serif" font-size="9" font-weight="bold" text-anchor="middle" fill="#111" stroke="#111" stroke-width="0.3" >b</text>
<text x="432.60" y="435.00" font-family="Liberation Serif" font-size="9" font-weight="bold" text-anchor="middle" fill="#111" stroke="#111" stroke-width="0.3" >a</text>
<text x="478.30" y="428.50" font-family="Liberation Serif" font-size="9" font-weight="bold" text-anchor="middle" fill="#111" stroke="#111" stroke-width="0.3" >ab</text>
<text x="341.10" y="462.50" font-family="Liberation Serif" font-size="10" font-weight="bold" text-anchor="middle" fill="#111" stroke="#111" stroke-width="0.3" >WT</text>
<text x="341.10" y="474.50" font-family="Liberation Serif" font-size="10" font-weight="bold" text-anchor="middle" fill="#111" stroke="#111" stroke-width="0.3" >CTL</text>
<text x="386.80" y="462.50" font-family="Liberation Serif" font-size="10" font-weight="bold" text-anchor="middle" fill="#111" stroke="#111" stroke-width="0.3" >WT</text>
<text x="386.80" y="474.50" font-family="Liberation Serif" font-size="10" font-weight="bold" text-anchor="middle" fill="#111" stroke="#111" stroke-width="0.3" >HFHS</text>
<text x="432.60" y="462.50" font-family="Liberation Serif" font-size="10" font-weight="bold" text-anchor="middle" fill="#111" stroke="#111" stroke-width="0.3" >Fat-1</text>
<text x="432.60" y="474.50" font-family="Liberation Serif" font-size="10" font-weight="bold" text-anchor="middle" fill="#111" stroke="#111" stroke-width="0.3" >CTL</text>
<text x="478.30" y="462.50" font-family="Liberation Serif" font-size="10" font-weight="bold" text-anchor="middle" fill="#111" stroke="#111" stroke-width="0.3" >Fat-1</text>
<text x="478.30" y="474.50" font-family="Liberation Serif" font-size="10" font-weight="bold" text-anchor="middle" fill="#111" stroke="#111" stroke-width="0.3" >HFHS</text>
<text x="147.70" y="504.50" font-family="Liberation Serif" font-size="11.8" font-weight="bold" text-anchor="middle" fill="#111" stroke="#111" stroke-width="0.3" >Liver HFHS-fed WT mice</text>
<text x="412.70" y="504.80" font-family="Liberation Serif" font-size="11.8" font-weight="bold" text-anchor="middle" fill="#111" stroke="#111" stroke-width="0.3" >Liver HFHS-fed fat-1 mice</text>
<text x="93.30" y="572.00" font-family="Liberation Serif" font-size="12" font-weight="bold" text-anchor="middle" fill="#111" stroke="#111" stroke-width="0.3" >CTL</text>
<text x="202.70" y="572.00" font-family="Liberation Serif" font-size="12" font-weight="bold" text-anchor="middle" fill="#111" stroke="#111" stroke-width="0.3" >HFHS</text>
<text x="355.50" y="572.00" font-family="Liberation Serif" font-size="12" font-weight="bold" text-anchor="middle" fill="#111" stroke="#111" stroke-width="0.3" >CTL</text>
<text x="470.00" y="572.00" font-family="Liberation Serif" font-size="12" font-weight="bold" text-anchor="middle" fill="#111" stroke="#111" stroke-width="0.3" >HFHS</text>
<text x="277.30" y="613.40" font-family="Liberation Serif" font-size="11.2" font-weight="bold" text-anchor="middle" fill="#111" stroke="#111" stroke-width="0.3" >ORO</text>
<text x="277.30" y="628.60" font-family="Liberation Serif" font-size="11.2" font-weight="bold" text-anchor="middle" fill="#111" stroke="#111" stroke-width="0.3" >staining</text>
<rect x="121.80" y="510.60" width="52.00" height="49.40" fill="url(#bg1)"/>
<ellipse cx="148" cy="551" rx="18" ry="4" fill="#cdbba8" opacity="0.6" filter="url(#blur1)"/>
<path d="M136.2,523.8 C139,522 141,521.3 143.8,521.2 C147,520.5 150,519.8 152.5,520 C155,520.5 157,522 158.8,522.5 C161,522.3 163,522.5 163.8,523 C166,524.5 167.5,526 166.9,527.5 C166.5,529.5 166,531 165,531.9 C163,533 162,534 161.2,535 C160.5,537 160.5,539 160,541.2 C159,544 158,546 156.2,547.5 C154,549.5 152,550.8 150,551.2 C147,552.2 143,552.8 140,552.5 C136,551.8 133,550.5 131.2,548.8 C129.5,547 128.5,545.5 128.1,543.8 C127.8,541 128,538.5 128.8,536.2 C129.5,533.5 130.5,531 131.9,528.8 C133,526.5 134.5,525 136.2,523.8 Z" fill="url(#lv1)" filter="url(#blur05)"/>
<path d="M145,531 C148,529.5 151,530 152,533 C151.5,535.5 149,536.5 146.5,535.5 C145,534.5 144.5,532.5 145,531 Z" fill="#8a3a2a" opacity="0.75" filter="url(#blur1)"/>
<path d="M158,524 C161,524 164,526 165,529 C162,531 159,529 158,524 Z" fill="#d98a75" opacity="0.6" filter="url(#blur1)"/>
<g filter="url(#blur05)" opacity="0.3"><path d="M134,530 C138,527 141,528 142,531 C139,533 136,534 134,530 Z" fill="#9a3e2c"/><path d="M152,541 C155,539 158,540 158,543 C156,546 153,546 152,541 Z" fill="#9a3e2c"/><path d="M137,547 C141,545 147,546 150,549 C145,551 140,550 137,547 Z" fill="#e8a080"/></g>
<circle cx="141" cy="539" r="1.2" fill="#f0c8b0" opacity="0.9" filter="url(#blur05)"/><circle cx="146" cy="542.5" r="1.1" fill="#f0c8b0" opacity="0.85" filter="url(#blur05)"/><circle cx="152" cy="538" r="0.9" fill="#f0c8b0" opacity="0.6"/>
<rect x="389.80" y="517.80" width="44.40" height="41.80" fill="url(#bg2)"/>
<path d="M397.2,537.4 C397.8,534.5 398.5,533 399.8,531.6 C401.8,529.3 403.8,527.9 406.2,527.3 C408.5,526.6 410.5,526.6 412.5,526.8 C415,527.2 417.2,528.2 418.9,529.5 C421,531.2 422.5,533 423.1,534.8 C423.7,536 423.8,537.3 423.6,538.5 C423.2,540 422.5,541 421.5,541.6 C419.5,542.4 417.5,542.2 415.7,542.2 C413.5,542.2 411.5,542.2 409.9,542.7 C408.5,543.3 407.8,545 406.7,545.7 C405.5,546.2 404.2,546.3 403,545.9 C401.3,545.3 399.8,544.5 398.8,543.2 C397.8,542 397.3,541 397.2,540 C397,539 397,538.2 397.2,537.4 Z" fill="url(#lv2)" filter="url(#blur05)"/>
<g opacity="0.55" filter="url(#blur05)"><circle cx="408" cy="533" r="0.9" fill="#c06060"/><circle cx="414" cy="536" r="0.8" fill="#b85858"/><circle cx="404" cy="539" r="0.7" fill="#a04848"/><circle cx="411" cy="530" r="0.6" fill="#c87070"/><circle cx="418" cy="534" r="0.7" fill="#a85050"/></g>
<rect x="43.8" y="576.4" width="99.2" height="71.6" filter="url(#nz1)"/><rect x="43.8" y="576.4" width="99.2" height="71.6" fill="none" stroke="#111" stroke-width="1.1"/>
<clipPath id="cp12"><rect x="154.2" y="576.6" width="97.4" height="71.69999999999993"/></clipPath>
<g clip-path="url(#cp12)">
<g filter="url(#mblur2)"><rect x="151.2" y="573.6" width="103.4" height="77.69999999999993" fill="#d8b4b4"/><g fill="#d6d6dc" opacity="0.55"><ellipse cx="170" cy="612" rx="9" ry="12"/><ellipse cx="223" cy="623" rx="9" ry="10"/><ellipse cx="193" cy="585" rx="6" ry="3.5"/><ellipse cx="226" cy="590" rx="5" ry="5"/></g><rect x="154" y="576" width="98" height="3" fill="#e07a70" opacity="0.5"/>
<path d="M220.6 635.0a0.7 0.7 0 1 0 1.4 0a0.7 0.7 0 1 0 -1.4 0M205.7 641.4a1.2 1.2 0 1 0 2.4 0a1.2 1.2 0 1 0 -2.4 0M218.7 610.1a1.3 1.3 0 1 0 2.5 0a1.3 1.3 0 1 0 -2.5 0M154.0 636.9a1.1 1.1 0 1 0 2.1 0a1.1 1.1 0 1 0 -2.1 0M173.7 606.9a1.0 1.0 0 1 0 2.1 0a1.0 1.0 0 1 0 -2.1 0M155.0 595.5a1.0 1.0 0 1 0 2.0 0a1.0 1.0 0 1 0 -2.0 0M242.0 586.9a0.9 0.9 0 1 0 1.8 0a0.9 0.9 0 1 0 -1.8 0M193.7 592.9a1.1 1.1 0 1 0 2.2 0a1.1 1.1 0 1 0 -2.2 0M205.4 634.3a1.0 1.0 0 1 0 2.0 0a1.0 1.0 0 1 0 -2.0 0M210.1 580.0a1.0 1.0 0 1 0 2.0 0a1.0 1.0 0 1 0 -2.0 0M174.7 599.4a1.6 1.6 0 1 0 3.3 0a1.6 1.6 0 1 0 -3.3 0M174.2 615.8a0.9 0.9 0 1 0 1.8 0a0.9 0.9 0 1 0 -1.8 0M235.1 590.6a1.6 1.6 0 1 0 3.1 0a1.6 1.6 0 1 0 -3.1 0M250.5 633.2a1.2 1.2 0 1 0 2.4 0a1.2 1.2 0 1 0 -2.4 0M206.8 647.5a1.0 1.0 0 1 0 2.0 0a1.0 1.0 0 1 0 -2.0 0M236.6 584.4a0.7 0.7 0 1 0 1.3 0a0.7 0.7 0 1 0 -1.3 0M154.1 626.6a1.2 1.2 0 1 0 2.4 0a1.2 1.2 0 1 0 -2.4 0M155.4 599.5a1.2 1.2 0 1 0 2.4 0a1.2 1.2 0 1 0 -2.4 0M238.8 587.0a1.1 1.1 0 1 0 2.3 0a1.1 1.1 0 1 0 -2.3 0M177.8 605.9a0.7 0.7 0 1 0 1.3 0a0.7 0.7 0 1 0 -1.3 0M231.0 584.1a0.8 0.8 0 1 0 1.7 0a0.8 0.8 0 1 0 -1.7 0M162.4 621.3a0.8 0.8 0 1 0 1.6 0a0.8 0.8 0 1 0 -1.6 0M217.2 602.1a0.9 0.9 0 1 0 1.8 0a0.9 0.9 0 1 0 -1.8 0M187.3 577.6a0.9 0.9 0 1 0 1.9 0a0.9 0.9 0 1 0 -1.9 0M181.5 640.6a0.9 0.9 0 1 0 1.9 0a0.9 0.9 0 1 0 -1.9 0M204.3 628.9a1.7 1.7 0 1 0 3.4 0a1.7 1.7 0 1 0 -3.4 0M171.9 605.7a0.8 0.8 0 1 0 1.6 0a0.8 0.8 0 1 0 -1.6 0M184.1 649.4a1.4 1.4 0 1 0 2.7 0a1.4 1.4 0 1 0 -2.7 0M224.2 622.0a1.3 1.3 0 1 0 2.7 0a1.3 1.3 0 1 0 -2.7 0M176.4 604.3a1.2 1.2 0 1 0 2.4 0a1.2 1.2 0 1 0 -2.4 0M219.7 625.5a0.6 0.6 0 1 0 1.2 0a0.6 0.6 0 1 0 -1.2 0M159.8 623.9a1.4 1.4 0 1 0 2.8 0a1.4 1.4 0 1 0 -2.8 0M244.1 576.5a1.0 1.0 0 1 0 1.9 0a1.0 1.0 0 1 0 -1.9 0M199.9 574.9a0.7 0.7 0 1 0 1.4 0a0.7 0.7 0 1 0 -1.4 0M240.9 632.5a1.0 1.0 0 1 0 2.1 0a1.0 1.0 0 1 0 -2.1 0M182.5 597.2a1.4 1.4 0 1 0 2.8 0a1.4 1.4 0 1 0 -2.8 0M227.3 648.6a1.6 1.6 0 1 0 3.2 0a1.6 1.6 0 1 0 -3.2 0M178.5 579.1a0.7 0.7 0 1 0 1.5 0a0.7 0.7 0 1 0 -1.5 0M172.2 647.9a1.3 1.3 0 1 0 2.6 0a1.3 1.3 0 1 0 -2.6 0M228.1 644.1a0.6 0.6 0 1 0 1.3 0a0.6 0.6 0 1 0 -1.3 0M155.9 630.2a1.4 1.4 0 1 0 2.9 0a1.4 1.4 0 1 0 -2.9 0M250.2 625.8a1.7 1.7 0 1 0 3.4 0a1.7 1.7 0 1 0 -3.4 0M206.4 605.3a1.3 1.3 0 1 0 2.6 0a1.3 1.3 0 1 0 -2.6 0M233.2 595.9a1.3 1.3 0 1 0 2.5 0a1.3 1.3 0 1 0 -2.5 0M171.7 637.1a1.5 1.5 0 1 0 3.0 0a1.5 1.5 0 1 0 -3.0 0M197.0 622.1a1.1 1.1 0 1 0 2.2 0a1.1 1.1 0 1 0 -2.2 0M221.4 575.0a1.3 1.3 0 1 0 2.6 0a1.3 1.3 0 1 0 -2.6 0M205.6 644.0a0.6 0.6 0 1 0 1.3 0a0.6 0.6 0 1 0 -1.3 0M228.4 622.0a1.2 1.2 0 1 0 2.4 0a1.2 1.2 0 1 0 -2.4 0M169.3 636.3a1.0 1.0 0 1 0 2.0 0a1.0 1.0 0 1 0 -2.0 0M226.6 632.8a1.2 1.2 0 1 0 2.5 0a1.2 1.2 0 1 0 -2.5 0M182.5 645.2a1.4 1.4 0 1 0 2.7 0a1.4 1.4 0 1 0 -2.7 0M151.8 618.3a1.4 1.4 0 1 0 2.9 0a1.4 1.4 0 1 0 -2.9 0M226.1 619.9a1.5 1.5 0 1 0 3.0 0a1.5 1.5 0 1 0 -3.0 0M165.4 625.8a1.4 1.4 0 1 0 2.8 0a1.4 1.4 0 1 0 -2.8 0M223.8 595.6a1.0 1.0 0 1 0 2.1 0a1.0 1.0 0 1 0 -2.1 0M224.9 594.6a1.3 1.3 0 1 0 2.7 0a1.3 1.3 0 1 0 -2.7 0M220.9 632.7a0.6 0.6 0 1 0 1.3 0a0.6 0.6 0 1 0 -1.3 0M234.6 601.9a0.8 0.8 0 1 0 1.6 0a0.8 0.8 0 1 0 -1.6 0M185.6 613.1a0.9 0.9 0 1 0 1.9 0a0.9 0.9 0 1 0 -1.9 0M207.7 575.5a1.2 1.2 0 1 0 2.4 0a1.2 1.2 0 1 0 -2.4 0M166.8 599.4a1.4 1.4 0 1 0 2.9 0a1.4 1.4 0 1 0 -2.9 0M224.0 614.5a1.3 1.3 0 1 0 2.6 0a1.3 1.3 0 1 0 -2.6 0M247.0 599.0a0.7 0.7 0 1 0 1.3 0a0.7 0.7 0 1 0 -1.3 0M204.6 607.1a1.5 1.5 0 1 0 2.9 0a1.5 1.5 0 1 0 -2.9 0M182.3 594.3a1.4 1.4 0 1 0 2.8 0a1.4 1.4 0 1 0 -2.8 0M194.7 617.7a1.6 1.6 0 1 0 3.1 0a1.6 1.6 0 1 0 -3.1 0M174.5 601.9a1.4 1.4 0 1 0 2.7 0a1.4 1.4 0 1 0 -2.7 0M182.5 622.3a0.8 0.8 0 1 0 1.7 0a0.8 0.8 0 1 0 -1.7 0M177.6 602.2a1.0 1.0 0 1 0 2.1 0a1.0 1.0 0 1 0 -2.1 0M173.8 593.0a0.7 0.7 0 1 0 1.3 0a0.7 0.7 0 1 0 -1.3 0M186.0 574.9a0.7 0.7 0 1 0 1.5 0a0.7 0.7 0 1 0 -1.5 0M214.5 617.1a1.0 1.0 0 1 0 2.0 0a1.0 1.0 0 1 0 -2.0 0M251.6 645.7a1.1 1.1 0 1 0 2.2 0a1.1 1.1 0 1 0 -2.2 0M197.2 639.3a1.1 1.1 0 1 0 2.3 0a1.1 1.1 0 1 0 -2.3 0M235.1 598.1a0.9 0.9 0 1 0 1.8 0a0.9 0.9 0 1 0 -1.8 0M171.0 615.6a1.0 1.0 0 1 0 2.0 0a1.0 1.0 0 1 0 -2.0 0M248.5 632.6a0.8 0.8 0 1 0 1.5 0a0.8 0.8 0 1 0 -1.5 0M159.9 621.7a1.3 1.3 0 1 0 2.6 0a1.3 1.3 0 1 0 -2.6 0M160.5 594.4a1.0 1.0 0 1 0 2.0 0a1.0 1.0 0 1 0 -2.0 0M203.9 640.1a1.7 1.7 0 1 0 3.3 0a1.7 1.7 0 1 0 -3.3 0M159.1 646.0a1.6 1.6 0 1 0 3.2 0a1.6 1.6 0 1 0 -3.2 0M158.1 614.1a1.3 1.3 0 1 0 2.7 0a1.3 1.3 0 1 0 -2.7 0M247.1 641.5a1.7 1.7 0 1 0 3.3 0a1.7 1.7 0 1 0 -3.3 0M159.8 599.8a1.6 1.6 0 1 0 3.1 0a1.6 1.6 0 1 0 -3.1 0M214.1 588.3a0.8 0.8 0 1 0 1.6 0a0.8 0.8 0 1 0 -1.6 0M224.8 640.2a1.3 1.3 0 1 0 2.7 0a1.3 1.3 0 1 0 -2.7 0M177.7 616.9a1.4 1.4 0 1 0 2.7 0a1.4 1.4 0 1 0 -2.7 0M171.6 636.9a1.6 1.6 0 1 0 3.2 0a1.6 1.6 0 1 0 -3.2 0M170.2 595.2a1.7 1.7 0 1 0 3.3 0a1.7 1.7 0 1 0 -3.3 0M229.4 646.9a1.0 1.0 0 1 0 2.0 0a1.0 1.0 0 1 0 -2.0 0M230.1 616.2a1.6 1.6 0 1 0 3.2 0a1.6 1.6 0 1 0 -3.2 0M205.0 632.7a1.1 1.1 0 1 0 2.2 0a1.1 1.1 0 1 0 -2.2 0M217.2 643.5a1.5 1.5 0 1 0 3.0 0a1.5 1.5 0 1 0 -3.0 0M238.7 632.9a0.7 0.7 0 1 0 1.4 0a0.7 0.7 0 1 0 -1.4 0M158.2 582.8a1.5 1.5 0 1 0 3.0 0a1.5 1.5 0 1 0 -3.0 0M247.7 611.5a0.7 0.7 0 1 0 1.4 0a0.7 0.7 0 1 0 -1.4 0M231.5 591.3a1.5 1.5 0 1 0 3.0 0a1.5 1.5 0 1 0 -3.0 0M218.3 586.9a1.5 1.5 0 1 0 2.9 0a1.5 1.5 0 1 0 -2.9 0M186.8 576.2a1.4 1.4 0 1 0 2.8 0a1.4 1.4 0 1 0 -2.8 0M192.1 645.4a0.8 0.8 0 1 0 1.7 0a0.8 0.8 0 1 0 -1.7 0M220.9 624.7a1.1 1.1 0 1 0 2.2 0a1.1 1.1 0 1 0 -2.2 0M249.0 610.7a1.5 1.5 0 1 0 3.0 0a1.5 1.5 0 1 0 -3.0 0M220.8 589.6a1.1 1.1 0 1 0 2.3 0a1.1 1.1 0 1 0 -2.3 0M248.1 638.3a0.9 0.9 0 1 0 1.8 0a0.9 0.9 0 1 0 -1.8 0M239.1 611.7a0.7 0.7 0 1 0 1.4 0a0.7 0.7 0 1 0 -1.4 0M216.0 637.8a0.9 0.9 0 1 0 1.8 0a0.9 0.9 0 1 0 -1.8 0M162.8 629.1a1.6 1.6 0 1 0 3.2 0a1.6 1.6 0 1 0 -3.2 0M164.6 594.0a0.9 0.9 0 1 0 1.8 0a0.9 0.9 0 1 0 -1.8 0M215.7 584.0a1.0 1.0 0 1 0 2.1 0a1.0 1.0 0 1 0 -2.1 0M210.9 605.6a0.8 0.8 0 1 0 1.6 0a0.8 0.8 0 1 0 -1.6 0M166.0 579.0a1.0 1.0 0 1 0 2.0 0a1.0 1.0 0 1 0 -2.0 0M197.5 629.2a1.6 1.6 0 1 0 3.1 0a1.6 1.6 0 1 0 -3.1 0M188.9 642.3a1.2 1.2 0 1 0 2.5 0a1.2 1.2 0 1 0 -2.5 0M242.0 582.9a1.2 1.2 0 1 0 2.4 0a1.2 1.2 0 1 0 -2.4 0M251.7 582.8a1.5 1.5 0 1 0 3.1 0a1.5 1.5 0 1 0 -3.1 0M177.3 588.8a1.5 1.5 0 1 0 2.9 0a1.5 1.5 0 1 0 -2.9 0M229.0 599.5a0.7 0.7 0 1 0 1.5 0a0.7 0.7 0 1 0 -1.5 0M231.6 628.5a1.2 1.2 0 1 0 2.3 0a1.2 1.2 0 1 0 -2.3 0M236.9 644.4a1.3 1.3 0 1 0 2.6 0a1.3 1.3 0 1 0 -2.6 0M183.6 590.7a1.1 1.1 0 1 0 2.3 0a1.1 1.1 0 1 0 -2.3 0M215.7 597.4a0.7 0.7 0 1 0 1.4 0a0.7 0.7 0 1 0 -1.4 0M179.9 635.2a1.4 1.4 0 1 0 2.8 0a1.4 1.4 0 1 0 -2.8 0M244.4 608.7a0.7 0.7 0 1 0 1.5 0a0.7 0.7 0 1 0 -1.5 0M247.4 620.8a1.6 1.6 0 1 0 3.2 0a1.6 1.6 0 1 0 -3.2 0M176.1 646.5a1.2 1.2 0 1 0 2.4 0a1.2 1.2 0 1 0 -2.4 0M192.6 649.5a1.0 1.0 0 1 0 2.1 0a1.0 1.0 0 1 0 -2.1 0M175.7 582.1a1.4 1.4 0 1 0 2.8 0a1.4 1.4 0 1 0 -2.8 0M215.3 611.9a1.1 1.1 0 1 0 2.2 0a1.1 1.1 0 1 0 -2.2 0M237.9 635.5a0.8 0.8 0 1 0 1.6 0a0.8 0.8 0 1 0 -1.6 0M184.7 603.5a1.3 1.3 0 1 0 2.6 0a1.3 1.3 0 1 0 -2.6 0M176.7 630.6a0.9 0.9 0 1 0 1.8 0a0.9 0.9 0 1 0 -1.8 0M233.8 637.6a1.5 1.5 0 1 0 2.9 0a1.5 1.5 0 1 0 -2.9 0M190.5 600.0a0.6 0.6 0 1 0 1.2 0a0.6 0.6 0 1 0 -1.2 0M150.9 621.2a1.4 1.4 0 1 0 2.9 0a1.4 1.4 0 1 0 -2.9 0M199.9 580.9a1.5 1.5 0 1 0 2.9 0a1.5 1.5 0 1 0 -2.9 0M214.5 617.0a1.1 1.1 0 1 0 2.2 0a1.1 1.1 0 1 0 -2.2 0M242.5 628.6a1.2 1.2 0 1 0 2.5 0a1.2 1.2 0 1 0 -2.5 0M251.2 576.3a0.9 0.9 0 1 0 1.8 0a0.9 0.9 0 1 0 -1.8 0M200.8 646.8a1.6 1.6 0 1 0 3.3 0a1.6 1.6 0 1 0 -3.3 0M155.2 575.6a1.1 1.1 0 1 0 2.1 0a1.1 1.1 0 1 0 -2.1 0M193.2 576.7a0.7 0.7 0 1 0 1.3 0a0.7 0.7 0 1 0 -1.3 0M232.6 640.3a1.0 1.0 0 1 0 2.0 0a1.0 1.0 0 1 0 -2.0 0M161.5 598.1a0.8 0.8 0 1 0 1.6 0a0.8 0.8 0 1 0 -1.6 0M226.1 598.0a1.3 1.3 0 1 0 2.6 0a1.3 1.3 0 1 0 -2.6 0M251.8 624.7a1.7 1.7 0 1 0 3.4 0a1.7 1.7 0 1 0 -3.4 0M250.7 600.4a0.7 0.7 0 1 0 1.3 0a0.7 0.7 0 1 0 -1.3 0M196.0 649.4a1.5 1.5 0 1 0 3.0 0a1.5 1.5 0 1 0 -3.0 0M236.5 617.3a1.2 1.2 0 1 0 2.4 0a1.2 1.2 0 1 0 -2.4 0M222.7 634.9a1.3 1.3 0 1 0 2.6 0a1.3 1.3 0 1 0 -2.6 0M153.5 633.7a1.3 1.3 0 1 0 2.6 0a1.3 1.3 0 1 0 -2.6 0M170.0 615.4a1.4 1.4 0 1 0 2.7 0a1.4 1.4 0 1 0 -2.7 0M160.8 596.0a1.6 1.6 0 1 0 3.2 0a1.6 1.6 0 1 0 -3.2 0M252.4 646.2a0.7 0.7 0 1 0 1.3 0a0.7 0.7 0 1 0 -1.3 0M150.8 594.6a1.7 1.7 0 1 0 3.4 0a1.7 1.7 0 1 0 -3.4 0M184.8 590.0a1.5 1.5 0 1 0 3.1 0a1.5 1.5 0 1 0 -3.1 0M215.8 618.5a0.8 0.8 0 1 0 1.5 0a0.8 0.8 0 1 0 -1.5 0M218.7 594.3a1.5 1.5 0 1 0 3.0 0a1.5 1.5 0 1 0 -3.0 0M156.1 649.7a1.6 1.6 0 1 0 3.2 0a1.6 1.6 0 1 0 -3.2 0M227.8 632.1a0.6 0.6 0 1 0 1.3 0a0.6 0.6 0 1 0 -1.3 0M222.1 648.1a1.0 1.0 0 1 0 1.9 0a1.0 1.0 0 1 0 -1.9 0M222.9 611.2a1.6 1.6 0 1 0 3.3 0a1.6 1.6 0 1 0 -3.3 0M161.8 591.1a1.2 1.2 0 1 0 2.4 0a1.2 1.2 0 1 0 -2.4 0M169.5 616.2a1.1 1.1 0 1 0 2.1 0a1.1 1.1 0 1 0 -2.1 0M159.6 611.3a1.3 1.3 0 1 0 2.7 0a1.3 1.3 0 1 0 -2.7 0M186.8 599.9a1.7 1.7 0 1 0 3.3 0a1.7 1.7 0 1 0 -3.3 0M249.1 646.7a1.7 1.7 0 1 0 3.4 0a1.7 1.7 0 1 0 -3.4 0M215.2 629.5a1.5 1.5 0 1 0 3.0 0a1.5 1.5 0 1 0 -3.0 0M153.1 586.9a0.9 0.9 0 1 0 1.9 0a0.9 0.9 0 1 0 -1.9 0M247.2 582.3a0.8 0.8 0 1 0 1.6 0a0.8 0.8 0 1 0 -1.6 0M235.0 631.9a1.1 1.1 0 1 0 2.3 0a1.1 1.1 0 1 0 -2.3 0M201.5 611.2a1.0 1.0 0 1 0 2.0 0a1.0 1.0 0 1 0 -2.0 0M208.2 599.9a1.4 1.4 0 1 0 2.9 0a1.4 1.4 0 1 0 -2.9 0M235.8 588.7a0.9 0.9 0 1 0 1.7 0a0.9 0.9 0 1 0 -1.7 0M193.1 650.2a0.8 0.8 0 1 0 1.6 0a0.8 0.8 0 1 0 -1.6 0M218.7 588.0a1.5 1.5 0 1 0 3.0 0a1.5 1.5 0 1 0 -3.0 0M222.9 647.5a1.1 1.1 0 1 0 2.2 0a1.1 1.1 0 1 0 -2.2 0M171.4 602.8a1.4 1.4 0 1 0 2.7 0a1.4 1.4 0 1 0 -2.7 0M230.2 629.9a1.1 1.1 0 1 0 2.3 0a1.1 1.1 0 1 0 -2.3 0M170.3 629.6a1.6 1.6 0 1 0 3.2 0a1.6 1.6 0 1 0 -3.2 0M225.5 611.0a1.6 1.6 0 1 0 3.1 0a1.6 1.6 0 1 0 -3.1 0M211.5 577.2a1.1 1.1 0 1 0 2.1 0a1.1 1.1 0 1 0 -2.1 0M159.5 639.7a1.1 1.1 0 1 0 2.2 0a1.1 1.1 0 1 0 -2.2 0M169.8 613.6a0.8 0.8 0 1 0 1.5 0a0.8 0.8 0 1 0 -1.5 0M203.7 594.2a1.1 1.1 0 1 0 2.2 0a1.1 1.1 0 1 0 -2.2 0M226.9 602.7a0.9 0.9 0 1 0 1.8 0a0.9 0.9 0 1 0 -1.8 0M182.7 647.0a1.6 1.6 0 1 0 3.2 0a1.6 1.6 0 1 0 -3.2 0M156.1 601.2a1.7 1.7 0 1 0 3.3 0a1.7 1.7 0 1 0 -3.3 0M181.1 585.5a1.5 1.5 0 1 0 3.1 0a1.5 1.5 0 1 0 -3.1 0M151.8 587.2a1.3 1.3 0 1 0 2.6 0a1.3 1.3 0 1 0 -2.6 0M164.2 615.8a1.3 1.3 0 1 0 2.6 0a1.3 1.3 0 1 0 -2.6 0M220.1 637.3a0.9 0.9 0 1 0 1.9 0a0.9 0.9 0 1 0 -1.9 0M168.2 616.6a1.6 1.6 0 1 0 3.3 0a1.6 1.6 0 1 0 -3.3 0M190.9 601.6a1.3 1.3 0 1 0 2.6 0a1.3 1.3 0 1 0 -2.6 0M217.3 614.8a0.7 0.7 0 1 0 1.4 0a0.7 0.7 0 1 0 -1.4 0M208.7 644.1a1.1 1.1 0 1 0 2.1 0a1.1 1.1 0 1 0 -2.1 0M175.0 631.3a0.7 0.7 0 1 0 1.3 0a0.7 0.7 0 1 0 -1.3 0M250.1 640.4a1.5 1.5 0 1 0 3.0 0a1.5 1.5 0 1 0 -3.0 0M158.8 606.5a0.7 0.7 0 1 0 1.4 0a0.7 0.7 0 1 0 -1.4 0M200.4 583.7a1.3 1.3 0 1 0 2.5 0a1.3 1.3 0 1 0 -2.5 0M244.4 586.1a0.7 0.7 0 1 0 1.4 0a0.7 0.7 0 1 0 -1.4 0M250.3 599.8a1.0 1.0 0 1 0 2.0 0a1.0 1.0 0 1 0 -2.0 0M152.6 627.3a1.2 1.2 0 1 0 2.4 0a1.2 1.2 0 1 0 -2.4 0M197.6 637.1a0.9 0.9 0 1 0 1.8 0a0.9 0.9 0 1 0 -1.8 0M233.9 645.3a1.6 1.6 0 1 0 3.1 0a1.6 1.6 0 1 0 -3.1 0M204.3 580.8a1.4 1.4 0 1 0 2.7 0a1.4 1.4 0 1 0 -2.7 0" fill="#d4d2d9" opacity="0.95"/>
<path d="M199.0 624.4a1.3 1.3 0 1 0 2.7 0a1.3 1.3 0 1 0 -2.7 0M221.0 620.1a1.2 1.2 0 1 0 2.4 0a1.2 1.2 0 1 0 -2.4 0M250.4 602.4a1.0 1.0 0 1 0 1.9 0a1.0 1.0 0 1 0 -1.9 0M247.1 583.1a1.1 1.1 0 1 0 2.1 0a1.1 1.1 0 1 0 -2.1 0M162.7 592.4a1.0 1.0 0 1 0 2.0 0a1.0 1.0 0 1 0 -2.0 0M199.4 647.2a1.1 1.1 0 1 0 2.3 0a1.1 1.1 0 1 0 -2.3 0M198.5 616.1a0.8 0.8 0 1 0 1.6 0a0.8 0.8 0 1 0 -1.6 0M169.3 634.8a1.2 1.2 0 1 0 2.3 0a1.2 1.2 0 1 0 -2.3 0M213.3 649.1a1.7 1.7 0 1 0 3.4 0a1.7 1.7 0 1 0 -3.4 0M216.1 603.7a0.8 0.8 0 1 0 1.6 0a0.8 0.8 0 1 0 -1.6 0M167.4 609.8a1.3 1.3 0 1 0 2.5 0a1.3 1.3 0 1 0 -2.5 0M198.2 634.1a0.7 0.7 0 1 0 1.3 0a0.7 0.7 0 1 0 -1.3 0M228.5 611.9a1.6 1.6 0 1 0 3.3 0a1.6 1.6 0 1 0 -3.3 0M207.0 577.8a1.5 1.5 0 1 0 3.0 0a1.5 1.5 0 1 0 -3.0 0M167.8 628.8a0.9 0.9 0 1 0 1.9 0a0.9 0.9 0 1 0 -1.9 0M212.4 582.3a1.4 1.4 0 1 0 2.7 0a1.4 1.4 0 1 0 -2.7 0M193.6 635.6a1.5 1.5 0 1 0 3.0 0a1.5 1.5 0 1 0 -3.0 0M210.9 619.0a1.5 1.5 0 1 0 3.0 0a1.5 1.5 0 1 0 -3.0 0M165.5 583.9a1.1 1.1 0 1 0 2.3 0a1.1 1.1 0 1 0 -2.3 0M157.8 600.4a0.9 0.9 0 1 0 1.8 0a0.9 0.9 0 1 0 -1.8 0M190.9 609.8a1.0 1.0 0 1 0 2.0 0a1.0 1.0 0 1 0 -2.0 0M190.2 647.8a1.6 1.6 0 1 0 3.2 0a1.6 1.6 0 1 0 -3.2 0M220.9 614.0a1.2 1.2 0 1 0 2.5 0a1.2 1.2 0 1 0 -2.5 0M197.3 614.8a0.9 0.9 0 1 0 1.7 0a0.9 0.9 0 1 0 -1.7 0M182.6 581.7a0.8 0.8 0 1 0 1.6 0a0.8 0.8 0 1 0 -1.6 0M206.4 638.7a1.0 1.0 0 1 0 2.0 0a1.0 1.0 0 1 0 -2.0 0M217.8 637.1a0.7 0.7 0 1 0 1.5 0a0.7 0.7 0 1 0 -1.5 0M157.2 586.0a1.5 1.5 0 1 0 2.9 0a1.5 1.5 0 1 0 -2.9 0M168.6 637.2a1.5 1.5 0 1 0 3.1 0a1.5 1.5 0 1 0 -3.1 0M244.1 592.7a1.2 1.2 0 1 0 2.4 0a1.2 1.2 0 1 0 -2.4 0M240.2 581.2a1.7 1.7 0 1 0 3.3 0a1.7 1.7 0 1 0 -3.3 0M218.3 610.9a0.8 0.8 0 1 0 1.6 0a0.8 0.8 0 1 0 -1.6 0M205.4 604.1a1.0 1.0 0 1 0 1.9 0a1.0 1.0 0 1 0 -1.9 0M236.7 625.9a1.2 1.2 0 1 0 2.5 0a1.2 1.2 0 1 0 -2.5 0M195.4 604.2a0.8 0.8 0 1 0 1.6 0a0.8 0.8 0 1 0 -1.6 0M216.9 585.5a1.2 1.2 0 1 0 2.4 0a1.2 1.2 0 1 0 -2.4 0M174.7 629.9a1.1 1.1 0 1 0 2.3 0a1.1 1.1 0 1 0 -2.3 0M166.7 581.3a1.6 1.6 0 1 0 3.3 0a1.6 1.6 0 1 0 -3.3 0M166.1 648.6a1.1 1.1 0 1 0 2.3 0a1.1 1.1 0 1 0 -2.3 0M193.9 577.7a1.5 1.5 0 1 0 3.0 0a1.5 1.5 0 1 0 -3.0 0M248.5 622.3a1.4 1.4 0 1 0 2.9 0a1.4 1.4 0 1 0 -2.9 0M225.7 585.3a0.9 0.9 0 1 0 1.9 0a0.9 0.9 0 1 0 -1.9 0M203.3 634.6a0.7 0.7 0 1 0 1.4 0a0.7 0.7 0 1 0 -1.4 0M178.2 629.2a0.7 0.7 0 1 0 1.5 0a0.7 0.7 0 1 0 -1.5 0M185.5 576.2a1.0 1.0 0 1 0 1.9 0a1.0 1.0 0 1 0 -1.9 0M226.4 591.8a0.7 0.7 0 1 0 1.4 0a0.7 0.7 0 1 0 -1.4 0M216.4 611.1a1.5 1.5 0 1 0 3.1 0a1.5 1.5 0 1 0 -3.1 0M246.6 633.1a1.0 1.0 0 1 0 1.9 0a1.0 1.0 0 1 0 -1.9 0M183.4 587.6a1.1 1.1 0 1 0 2.2 0a1.1 1.1 0 1 0 -2.2 0M153.6 644.8a0.7 0.7 0 1 0 1.4 0a0.7 0.7 0 1 0 -1.4 0M205.8 615.6a0.8 0.8 0 1 0 1.5 0a0.8 0.8 0 1 0 -1.5 0M211.6 640.8a1.7 1.7 0 1 0 3.3 0a1.7 1.7 0 1 0 -3.3 0M212.7 607.4a1.3 1.3 0 1 0 2.7 0a1.3 1.3 0 1 0 -2.7 0M238.5 628.2a0.9 0.9 0 1 0 1.9 0a0.9 0.9 0 1 0 -1.9 0M234.2 622.1a1.6 1.6 0 1 0 3.1 0a1.6 1.6 0 1 0 -3.1 0M158.1 631.5a0.7 0.7 0 1 0 1.3 0a0.7 0.7 0 1 0 -1.3 0M178.1 611.0a1.3 1.3 0 1 0 2.7 0a1.3 1.3 0 1 0 -2.7 0M168.3 626.1a1.5 1.5 0 1 0 3.1 0a1.5 1.5 0 1 0 -3.1 0M200.8 595.0a1.6 1.6 0 1 0 3.1 0a1.6 1.6 0 1 0 -3.1 0M213.3 614.2a1.1 1.1 0 1 0 2.2 0a1.1 1.1 0 1 0 -2.2 0M209.9 595.9a0.6 0.6 0 1 0 1.3 0a0.6 0.6 0 1 0 -1.3 0M192.9 615.7a1.6 1.6 0 1 0 3.3 0a1.6 1.6 0 1 0 -3.3 0M219.8 612.3a1.4 1.4 0 1 0 2.8 0a1.4 1.4 0 1 0 -2.8 0M201.2 606.7a1.3 1.3 0 1 0 2.6 0a1.3 1.3 0 1 0 -2.6 0M185.3 577.0a1.6 1.6 0 1 0 3.2 0a1.6 1.6 0 1 0 -3.2 0M159.5 594.2a0.8 0.8 0 1 0 1.6 0a0.8 0.8 0 1 0 -1.6 0M233.1 604.3a1.6 1.6 0 1 0 3.2 0a1.6 1.6 0 1 0 -3.2 0M243.3 602.2a1.0 1.0 0 1 0 1.9 0a1.0 1.0 0 1 0 -1.9 0M201.9 606.6a1.2 1.2 0 1 0 2.4 0a1.2 1.2 0 1 0 -2.4 0M228.3 574.8a1.2 1.2 0 1 0 2.4 0a1.2 1.2 0 1 0 -2.4 0M184.2 579.5a1.6 1.6 0 1 0 3.2 0a1.6 1.6 0 1 0 -3.2 0M199.1 642.8a1.4 1.4 0 1 0 2.8 0a1.4 1.4 0 1 0 -2.8 0M169.1 596.8a1.4 1.4 0 1 0 2.8 0a1.4 1.4 0 1 0 -2.8 0M175.7 633.8a0.7 0.7 0 1 0 1.4 0a0.7 0.7 0 1 0 -1.4 0M236.4 646.7a1.3 1.3 0 1 0 2.6 0a1.3 1.3 0 1 0 -2.6 0M166.0 618.4a1.1 1.1 0 1 0 2.1 0a1.1 1.1 0 1 0 -2.1 0M202.6 595.9a0.8 0.8 0 1 0 1.6 0a0.8 0.8 0 1 0 -1.6 0M152.2 582.0a0.9 0.9 0 1 0 1.7 0a0.9 0.9 0 1 0 -1.7 0M229.5 587.0a0.7 0.7 0 1 0 1.5 0a0.7 0.7 0 1 0 -1.5 0M171.4 623.6a1.5 1.5 0 1 0 3.0 0a1.5 1.5 0 1 0 -3.0 0M158.0 627.1a1.0 1.0 0 1 0 2.0 0a1.0 1.0 0 1 0 -2.0 0M227.1 586.1a0.9 0.9 0 1 0 1.8 0a0.9 0.9 0 1 0 -1.8 0M169.8 620.5a0.6 0.6 0 1 0 1.2 0a0.6 0.6 0 1 0 -1.2 0M239.7 604.1a1.6 1.6 0 1 0 3.2 0a1.6 1.6 0 1 0 -3.2 0M251.9 625.3a1.0 1.0 0 1 0 1.9 0a1.0 1.0 0 1 0 -1.9 0M243.4 636.0a1.2 1.2 0 1 0 2.4 0a1.2 1.2 0 1 0 -2.4 0M190.6 588.1a1.3 1.3 0 1 0 2.7 0a1.3 1.3 0 1 0 -2.7 0M230.0 627.6a1.4 1.4 0 1 0 2.8 0a1.4 1.4 0 1 0 -2.8 0M186.5 590.1a1.3 1.3 0 1 0 2.7 0a1.3 1.3 0 1 0 -2.7 0M237.4 596.3a1.5 1.5 0 1 0 3.0 0a1.5 1.5 0 1 0 -3.0 0M233.8 643.8a0.9 0.9 0 1 0 1.7 0a0.9 0.9 0 1 0 -1.7 0M238.3 609.7a1.0 1.0 0 1 0 1.9 0a1.0 1.0 0 1 0 -1.9 0M225.3 595.5a1.4 1.4 0 1 0 2.7 0a1.4 1.4 0 1 0 -2.7 0M177.1 616.5a1.1 1.1 0 1 0 2.1 0a1.1 1.1 0 1 0 -2.1 0M189.6 613.3a1.1 1.1 0 1 0 2.3 0a1.1 1.1 0 1 0 -2.3 0M188.1 591.3a1.5 1.5 0 1 0 3.1 0a1.5 1.5 0 1 0 -3.1 0M224.9 615.0a1.5 1.5 0 1 0 3.1 0a1.5 1.5 0 1 0 -3.1 0M226.1 645.9a0.7 0.7 0 1 0 1.4 0a0.7 0.7 0 1 0 -1.4 0M188.4 638.9a0.8 0.8 0 1 0 1.6 0a0.8 0.8 0 1 0 -1.6 0M169.8 624.4a1.4 1.4 0 1 0 2.8 0a1.4 1.4 0 1 0 -2.8 0M177.2 582.1a1.0 1.0 0 1 0 2.0 0a1.0 1.0 0 1 0 -2.0 0M245.7 644.3a0.9 0.9 0 1 0 1.8 0a0.9 0.9 0 1 0 -1.8 0M160.7 635.1a1.5 1.5 0 1 0 3.1 0a1.5 1.5 0 1 0 -3.1 0M153.1 582.7a1.3 1.3 0 1 0 2.6 0a1.3 1.3 0 1 0 -2.6 0M153.0 630.6a0.7 0.7 0 1 0 1.4 0a0.7 0.7 0 1 0 -1.4 0M194.8 586.2a1.1 1.1 0 1 0 2.1 0a1.1 1.1 0 1 0 -2.1 0M195.6 580.2a0.8 0.8 0 1 0 1.6 0a0.8 0.8 0 1 0 -1.6 0M210.6 586.6a0.7 0.7 0 1 0 1.5 0a0.7 0.7 0 1 0 -1.5 0M247.9 599.9a0.8 0.8 0 1 0 1.5 0a0.8 0.8 0 1 0 -1.5 0M193.3 646.6a1.4 1.4 0 1 0 2.8 0a1.4 1.4 0 1 0 -2.8 0M168.0 629.6a1.3 1.3 0 1 0 2.6 0a1.3 1.3 0 1 0 -2.6 0M237.3 625.2a1.6 1.6 0 1 0 3.2 0a1.6 1.6 0 1 0 -3.2 0M202.2 581.6a1.0 1.0 0 1 0 2.1 0a1.0 1.0 0 1 0 -2.1 0M154.2 592.1a1.6 1.6 0 1 0 3.2 0a1.6 1.6 0 1 0 -3.2 0M163.9 577.4a1.6 1.6 0 1 0 3.1 0a1.6 1.6 0 1 0 -3.1 0M206.3 601.9a1.0 1.0 0 1 0 2.1 0a1.0 1.0 0 1 0 -2.1 0M179.5 603.3a0.9 0.9 0 1 0 1.8 0a0.9 0.9 0 1 0 -1.8 0M247.5 576.8a1.0 1.0 0 1 0 1.9 0a1.0 1.0 0 1 0 -1.9 0M156.4 649.6a0.8 0.8 0 1 0 1.6 0a0.8 0.8 0 1 0 -1.6 0M239.4 576.8a1.6 1.6 0 1 0 3.2 0a1.6 1.6 0 1 0 -3.2 0M212.8 619.4a1.0 1.0 0 1 0 2.1 0a1.0 1.0 0 1 0 -2.1 0M163.5 588.0a0.9 0.9 0 1 0 1.8 0a0.9 0.9 0 1 0 -1.8 0M204.9 590.4a1.2 1.2 0 1 0 2.5 0a1.2 1.2 0 1 0 -2.5 0M176.6 624.0a1.5 1.5 0 1 0 2.9 0a1.5 1.5 0 1 0 -2.9 0M233.1 604.7a1.4 1.4 0 1 0 2.9 0a1.4 1.4 0 1 0 -2.9 0M167.2 631.5a0.7 0.7 0 1 0 1.4 0a0.7 0.7 0 1 0 -1.4 0M195.4 642.8a1.4 1.4 0 1 0 2.7 0a1.4 1.4 0 1 0 -2.7 0M225.0 629.1a1.2 1.2 0 1 0 2.3 0a1.2 1.2 0 1 0 -2.3 0M226.6 597.6a1.2 1.2 0 1 0 2.3 0a1.2 1.2 0 1 0 -2.3 0M235.1 641.5a1.5 1.5 0 1 0 3.1 0a1.5 1.5 0 1 0 -3.1 0M232.7 631.1a0.9 0.9 0 1 0 1.9 0a0.9 0.9 0 1 0 -1.9 0M241.2 609.4a0.9 0.9 0 1 0 1.8 0a0.9 0.9 0 1 0 -1.8 0M199.4 640.0a0.9 0.9 0 1 0 1.7 0a0.9 0.9 0 1 0 -1.7 0M179.6 626.8a1.4 1.4 0 1 0 2.8 0a1.4 1.4 0 1 0 -2.8 0M216.5 639.6a1.3 1.3 0 1 0 2.5 0a1.3 1.3 0 1 0 -2.5 0M196.3 644.3a1.3 1.3 0 1 0 2.5 0a1.3 1.3 0 1 0 -2.5 0M167.1 577.7a1.2 1.2 0 1 0 2.4 0a1.2 1.2 0 1 0 -2.4 0M228.2 596.6a0.8 0.8 0 1 0 1.6 0a0.8 0.8 0 1 0 -1.6 0M220.7 645.4a1.3 1.3 0 1 0 2.6 0a1.3 1.3 0 1 0 -2.6 0M228.8 644.2a1.6 1.6 0 1 0 3.3 0a1.6 1.6 0 1 0 -3.3 0M227.6 612.0a0.8 0.8 0 1 0 1.6 0a0.8 0.8 0 1 0 -1.6 0M169.6 645.5a0.8 0.8 0 1 0 1.6 0a0.8 0.8 0 1 0 -1.6 0M240.8 599.0a1.5 1.5 0 1 0 3.0 0a1.5 1.5 0 1 0 -3.0 0M188.6 620.3a1.1 1.1 0 1 0 2.2 0a1.1 1.1 0 1 0 -2.2 0M237.8 628.3a0.7 0.7 0 1 0 1.4 0a0.7 0.7 0 1 0 -1.4 0M160.9 591.7a0.6 0.6 0 1 0 1.3 0a0.6 0.6 0 1 0 -1.3 0M228.7 644.8a1.6 1.6 0 1 0 3.3 0a1.6 1.6 0 1 0 -3.3 0M232.9 642.3a1.0 1.0 0 1 0 2.1 0a1.0 1.0 0 1 0 -2.1 0M180.9 625.3a1.0 1.0 0 1 0 2.0 0a1.0 1.0 0 1 0 -2.0 0M166.7 625.8a1.4 1.4 0 1 0 2.7 0a1.4 1.4 0 1 0 -2.7 0M204.9 583.4a0.7 0.7 0 1 0 1.3 0a0.7 0.7 0 1 0 -1.3 0M196.2 578.8a1.5 1.5 0 1 0 2.9 0a1.5 1.5 0 1 0 -2.9 0M231.8 583.8a1.6 1.6 0 1 0 3.1 0a1.6 1.6 0 1 0 -3.1 0M162.7 600.2a0.9 0.9 0 1 0 1.8 0a0.9 0.9 0 1 0 -1.8 0M216.2 603.2a1.4 1.4 0 1 0 2.9 0a1.4 1.4 0 1 0 -2.9 0M196.4 575.2a1.3 1.3 0 1 0 2.6 0a1.3 1.3 0 1 0 -2.6 0M156.9 607.8a0.9 0.9 0 1 0 1.9 0a0.9 0.9 0 1 0 -1.9 0M233.1 590.6a1.0 1.0 0 1 0 2.0 0a1.0 1.0 0 1 0 -2.0 0M208.5 648.4a1.2 1.2 0 1 0 2.3 0a1.2 1.2 0 1 0 -2.3 0M195.0 650.1a1.5 1.5 0 1 0 3.0 0a1.5 1.5 0 1 0 -3.0 0M159.8 623.8a0.7 0.7 0 1 0 1.4 0a0.7 0.7 0 1 0 -1.4 0M236.4 635.1a1.4 1.4 0 1 0 2.8 0a1.4 1.4 0 1 0 -2.8 0M234.1 596.3a1.1 1.1 0 1 0 2.1 0a1.1 1.1 0 1 0 -2.1 0M237.8 616.8a0.9 0.9 0 1 0 1.7 0a0.9 0.9 0 1 0 -1.7 0M164.8 623.8a1.0 1.0 0 1 0 2.0 0a1.0 1.0 0 1 0 -2.0 0M168.3 640.3a1.4 1.4 0 1 0 2.8 0a1.4 1.4 0 1 0 -2.8 0M200.4 592.3a1.1 1.1 0 1 0 2.2 0a1.1 1.1 0 1 0 -2.2 0M252.6 595.6a1.0 1.0 0 1 0 2.0 0a1.0 1.0 0 1 0 -2.0 0M166.7 592.6a1.3 1.3 0 1 0 2.6 0a1.3 1.3 0 1 0 -2.6 0M216.8 583.4a1.1 1.1 0 1 0 2.2 0a1.1 1.1 0 1 0 -2.2 0M191.4 641.7a0.6 0.6 0 1 0 1.3 0a0.6 0.6 0 1 0 -1.3 0M206.2 594.2a1.4 1.4 0 1 0 2.9 0a1.4 1.4 0 1 0 -2.9 0M228.7 578.1a1.5 1.5 0 1 0 2.9 0a1.5 1.5 0 1 0 -2.9 0M189.6 597.7a1.3 1.3 0 1 0 2.6 0a1.3 1.3 0 1 0 -2.6 0M159.1 580.6a1.4 1.4 0 1 0 2.8 0a1.4 1.4 0 1 0 -2.8 0M243.9 611.6a0.8 0.8 0 1 0 1.5 0a0.8 0.8 0 1 0 -1.5 0M246.5 645.7a1.0 1.0 0 1 0 2.0 0a1.0 1.0 0 1 0 -2.0 0M250.2 616.8a0.7 0.7 0 1 0 1.3 0a0.7 0.7 0 1 0 -1.3 0M238.9 600.4a1.7 1.7 0 1 0 3.3 0a1.7 1.7 0 1 0 -3.3 0M195.4 604.4a1.1 1.1 0 1 0 2.3 0a1.1 1.1 0 1 0 -2.3 0M186.1 618.7a1.1 1.1 0 1 0 2.1 0a1.1 1.1 0 1 0 -2.1 0M176.2 585.7a0.8 0.8 0 1 0 1.6 0a0.8 0.8 0 1 0 -1.6 0M211.2 587.9a0.6 0.6 0 1 0 1.3 0a0.6 0.6 0 1 0 -1.3 0M165.8 616.3a1.6 1.6 0 1 0 3.3 0a1.6 1.6 0 1 0 -3.3 0M244.3 600.5a1.5 1.5 0 1 0 2.9 0a1.5 1.5 0 1 0 -2.9 0M200.5 583.8a0.8 0.8 0 1 0 1.5 0a0.8 0.8 0 1 0 -1.5 0M165.2 596.1a1.6 1.6 0 1 0 3.2 0a1.6 1.6 0 1 0 -3.2 0M187.1 614.4a1.0 1.0 0 1 0 2.0 0a1.0 1.0 0 1 0 -2.0 0M230.5 591.4a0.8 0.8 0 1 0 1.7 0a0.8 0.8 0 1 0 -1.7 0M188.5 626.5a1.2 1.2 0 1 0 2.3 0a1.2 1.2 0 1 0 -2.3 0M164.9 615.4a1.3 1.3 0 1 0 2.6 0a1.3 1.3 0 1 0 -2.6 0M162.7 639.1a0.8 0.8 0 1 0 1.5 0a0.8 0.8 0 1 0 -1.5 0M199.7 621.4a0.6 0.6 0 1 0 1.2 0a0.6 0.6 0 1 0 -1.2 0M219.2 635.2a1.7 1.7 0 1 0 3.4 0a1.7 1.7 0 1 0 -3.4 0M161.9 602.0a0.7 0.7 0 1 0 1.4 0a0.7 0.7 0 1 0 -1.4 0M171.9 622.5a1.3 1.3 0 1 0 2.7 0a1.3 1.3 0 1 0 -2.7 0M199.5 577.2a1.2 1.2 0 1 0 2.3 0a1.2 1.2 0 1 0 -2.3 0M184.5 616.2a1.5 1.5 0 1 0 3.0 0a1.5 1.5 0 1 0 -3.0 0M185.2 649.0a1.0 1.0 0 1 0 2.0 0a1.0 1.0 0 1 0 -2.0 0M224.9 604.2a1.1 1.1 0 1 0 2.2 0a1.1 1.1 0 1 0 -2.2 0M175.0 597.4a1.1 1.1 0 1 0 2.3 0a1.1 1.1 0 1 0 -2.3 0M198.0 610.6a0.8 0.8 0 1 0 1.6 0a0.8 0.8 0 1 0 -1.6 0M164.7 622.1a0.7 0.7 0 1 0 1.5 0a0.7 0.7 0 1 0 -1.5 0M158.8 596.6a1.2 1.2 0 1 0 2.4 0a1.2 1.2 0 1 0 -2.4 0M221.4 644.1a1.1 1.1 0 1 0 2.3 0a1.1 1.1 0 1 0 -2.3 0M161.1 583.6a1.2 1.2 0 1 0 2.3 0a1.2 1.2 0 1 0 -2.3 0M221.6 614.6a1.6 1.6 0 1 0 3.2 0a1.6 1.6 0 1 0 -3.2 0M238.1 638.0a1.6 1.6 0 1 0 3.1 0a1.6 1.6 0 1 0 -3.1 0M250.3 584.0a1.4 1.4 0 1 0 2.9 0a1.4 1.4 0 1 0 -2.9 0M190.0 577.3a1.6 1.6 0 1 0 3.2 0a1.6 1.6 0 1 0 -3.2 0M160.3 618.6a0.8 0.8 0 1 0 1.5 0a0.8 0.8 0 1 0 -1.5 0M231.8 606.1a1.2 1.2 0 1 0 2.4 0a1.2 1.2 0 1 0 -2.4 0M220.9 619.9a1.4 1.4 0 1 0 2.8 0a1.4 1.4 0 1 0 -2.8 0M209.5 614.9a1.0 1.0 0 1 0 2.0 0a1.0 1.0 0 1 0 -2.0 0M156.3 602.1a0.8 0.8 0 1 0 1.5 0a0.8 0.8 0 1 0 -1.5 0M167.2 644.7a1.4 1.4 0 1 0 2.7 0a1.4 1.4 0 1 0 -2.7 0M239.2 620.6a0.7 0.7 0 1 0 1.4 0a0.7 0.7 0 1 0 -1.4 0M190.1 624.4a0.8 0.8 0 1 0 1.5 0a0.8 0.8 0 1 0 -1.5 0M230.7 582.3a1.4 1.4 0 1 0 2.8 0a1.4 1.4 0 1 0 -2.8 0M155.6 610.7a1.6 1.6 0 1 0 3.3 0a1.6 1.6 0 1 0 -3.3 0M172.9 584.5a1.6 1.6 0 1 0 3.3 0a1.6 1.6 0 1 0 -3.3 0M227.9 597.3a1.4 1.4 0 1 0 2.8 0a1.4 1.4 0 1 0 -2.8 0M211.9 630.2a1.5 1.5 0 1 0 3.1 0a1.5 1.5 0 1 0 -3.1 0M187.4 641.8a0.8 0.8 0 1 0 1.6 0a0.8 0.8 0 1 0 -1.6 0M178.4 601.0a1.3 1.3 0 1 0 2.6 0a1.3 1.3 0 1 0 -2.6 0M166.6 623.4a1.4 1.4 0 1 0 2.9 0a1.4 1.4 0 1 0 -2.9 0M203.0 588.7a1.3 1.3 0 1 0 2.6 0a1.3 1.3 0 1 0 -2.6 0M203.0 607.1a1.6 1.6 0 1 0 3.3 0a1.6 1.6 0 1 0 -3.3 0M161.3 597.0a1.5 1.5 0 1 0 3.0 0a1.5 1.5 0 1 0 -3.0 0M225.7 589.3a1.1 1.1 0 1 0 2.2 0a1.1 1.1 0 1 0 -2.2 0M183.7 575.6a1.0 1.0 0 1 0 2.1 0a1.0 1.0 0 1 0 -2.1 0M252.1 627.5a0.8 0.8 0 1 0 1.7 0a0.8 0.8 0 1 0 -1.7 0M205.9 598.9a0.8 0.8 0 1 0 1.7 0a0.8 0.8 0 1 0 -1.7 0M194.5 608.5a1.3 1.3 0 1 0 2.6 0a1.3 1.3 0 1 0 -2.6 0M191.1 586.4a0.8 0.8 0 1 0 1.6 0a0.8 0.8 0 1 0 -1.6 0M176.2 585.4a1.3 1.3 0 1 0 2.7 0a1.3 1.3 0 1 0 -2.7 0M208.5 608.5a1.2 1.2 0 1 0 2.4 0a1.2 1.2 0 1 0 -2.4 0" fill="#dcdae0" opacity="0.95"/>
<path d="M157.5 636.6a0.7 0.7 0 1 0 1.4 0a0.7 0.7 0 1 0 -1.4 0M216.4 580.9a0.8 0.8 0 1 0 1.6 0a0.8 0.8 0 1 0 -1.6 0M187.0 602.1a1.4 1.4 0 1 0 2.7 0a1.4 1.4 0 1 0 -2.7 0M227.9 591.3a0.7 0.7 0 1 0 1.4 0a0.7 0.7 0 1 0 -1.4 0M243.8 575.1a0.9 0.9 0 1 0 1.8 0a0.9 0.9 0 1 0 -1.8 0M153.2 599.0a1.5 1.5 0 1 0 2.9 0a1.5 1.5 0 1 0 -2.9 0M222.7 590.8a0.9 0.9 0 1 0 1.8 0a0.9 0.9 0 1 0 -1.8 0M154.5 574.9a0.6 0.6 0 1 0 1.3 0a0.6 0.6 0 1 0 -1.3 0M207.4 621.9a1.6 1.6 0 1 0 3.2 0a1.6 1.6 0 1 0 -3.2 0M231.2 618.5a1.0 1.0 0 1 0 2.0 0a1.0 1.0 0 1 0 -2.0 0M221.0 585.3a0.7 0.7 0 1 0 1.4 0a0.7 0.7 0 1 0 -1.4 0M181.5 613.7a0.8 0.8 0 1 0 1.5 0a0.8 0.8 0 1 0 -1.5 0M218.2 648.2a1.2 1.2 0 1 0 2.4 0a1.2 1.2 0 1 0 -2.4 0M194.7 602.2a1.0 1.0 0 1 0 2.1 0a1.0 1.0 0 1 0 -2.1 0M190.1 640.7a1.6 1.6 0 1 0 3.2 0a1.6 1.6 0 1 0 -3.2 0M168.5 590.1a0.9 0.9 0 1 0 1.8 0a0.9 0.9 0 1 0 -1.8 0M203.7 578.6a1.5 1.5 0 1 0 3.0 0a1.5 1.5 0 1 0 -3.0 0M250.2 643.9a1.4 1.4 0 1 0 2.9 0a1.4 1.4 0 1 0 -2.9 0M238.0 642.2a0.6 0.6 0 1 0 1.3 0a0.6 0.6 0 1 0 -1.3 0M152.8 586.3a1.4 1.4 0 1 0 2.9 0a1.4 1.4 0 1 0 -2.9 0M197.6 600.1a1.3 1.3 0 1 0 2.6 0a1.3 1.3 0 1 0 -2.6 0M232.0 604.2a1.3 1.3 0 1 0 2.6 0a1.3 1.3 0 1 0 -2.6 0M247.4 649.3a1.4 1.4 0 1 0 2.9 0a1.4 1.4 0 1 0 -2.9 0M195.4 600.3a1.0 1.0 0 1 0 2.1 0a1.0 1.0 0 1 0 -2.1 0M185.6 641.9a1.3 1.3 0 1 0 2.6 0a1.3 1.3 0 1 0 -2.6 0M236.1 625.0a1.1 1.1 0 1 0 2.2 0a1.1 1.1 0 1 0 -2.2 0M168.5 616.1a1.3 1.3 0 1 0 2.5 0a1.3 1.3 0 1 0 -2.5 0M189.6 598.1a1.0 1.0 0 1 0 2.0 0a1.0 1.0 0 1 0 -2.0 0M241.1 645.8a1.3 1.3 0 1 0 2.6 0a1.3 1.3 0 1 0 -2.6 0M219.4 587.6a1.1 1.1 0 1 0 2.2 0a1.1 1.1 0 1 0 -2.2 0M158.2 626.7a0.8 0.8 0 1 0 1.6 0a0.8 0.8 0 1 0 -1.6 0M175.1 614.4a1.4 1.4 0 1 0 2.8 0a1.4 1.4 0 1 0 -2.8 0M187.6 597.8a0.6 0.6 0 1 0 1.3 0a0.6 0.6 0 1 0 -1.3 0M189.8 614.6a0.9 0.9 0 1 0 1.8 0a0.9 0.9 0 1 0 -1.8 0M195.3 576.2a1.1 1.1 0 1 0 2.3 0a1.1 1.1 0 1 0 -2.3 0M153.5 634.9a1.2 1.2 0 1 0 2.4 0a1.2 1.2 0 1 0 -2.4 0M204.0 633.4a1.3 1.3 0 1 0 2.7 0a1.3 1.3 0 1 0 -2.7 0M208.5 627.7a1.4 1.4 0 1 0 2.9 0a1.4 1.4 0 1 0 -2.9 0M171.5 646.9a1.6 1.6 0 1 0 3.2 0a1.6 1.6 0 1 0 -3.2 0M225.9 649.8a1.7 1.7 0 1 0 3.4 0a1.7 1.7 0 1 0 -3.4 0M252.4 633.6a1.1 1.1 0 1 0 2.2 0a1.1 1.1 0 1 0 -2.2 0M182.7 578.5a1.7 1.7 0 1 0 3.3 0a1.7 1.7 0 1 0 -3.3 0M241.6 613.7a1.3 1.3 0 1 0 2.5 0a1.3 1.3 0 1 0 -2.5 0M166.6 580.6a0.9 0.9 0 1 0 1.8 0a0.9 0.9 0 1 0 -1.8 0M234.7 633.9a1.0 1.0 0 1 0 2.0 0a1.0 1.0 0 1 0 -2.0 0M244.2 650.2a0.7 0.7 0 1 0 1.4 0a0.7 0.7 0 1 0 -1.4 0M151.3 589.4a1.1 1.1 0 1 0 2.3 0a1.1 1.1 0 1 0 -2.3 0M151.8 609.6a1.0 1.0 0 1 0 2.0 0a1.0 1.0 0 1 0 -2.0 0M152.9 602.5a1.5 1.5 0 1 0 3.1 0a1.5 1.5 0 1 0 -3.1 0M169.6 622.1a1.4 1.4 0 1 0 2.8 0a1.4 1.4 0 1 0 -2.8 0M199.0 623.1a1.1 1.1 0 1 0 2.1 0a1.1 1.1 0 1 0 -2.1 0M230.8 594.0a1.4 1.4 0 1 0 2.8 0a1.4 1.4 0 1 0 -2.8 0M237.2 645.3a0.6 0.6 0 1 0 1.3 0a0.6 0.6 0 1 0 -1.3 0M157.5 646.4a0.7 0.7 0 1 0 1.4 0a0.7 0.7 0 1 0 -1.4 0M189.5 588.8a1.0 1.0 0 1 0 2.1 0a1.0 1.0 0 1 0 -2.1 0M178.4 611.3a0.7 0.7 0 1 0 1.5 0a0.7 0.7 0 1 0 -1.5 0M237.6 613.5a1.3 1.3 0 1 0 2.6 0a1.3 1.3 0 1 0 -2.6 0M228.3 620.8a0.6 0.6 0 1 0 1.3 0a0.6 0.6 0 1 0 -1.3 0M250.2 582.5a1.1 1.1 0 1 0 2.2 0a1.1 1.1 0 1 0 -2.2 0M177.5 596.5a1.6 1.6 0 1 0 3.1 0a1.6 1.6 0 1 0 -3.1 0M203.5 592.0a1.3 1.3 0 1 0 2.5 0a1.3 1.3 0 1 0 -2.5 0M224.3 605.2a1.1 1.1 0 1 0 2.3 0a1.1 1.1 0 1 0 -2.3 0M184.2 609.6a0.9 0.9 0 1 0 1.9 0a0.9 0.9 0 1 0 -1.9 0M202.9 607.3a0.8 0.8 0 1 0 1.5 0a0.8 0.8 0 1 0 -1.5 0M187.0 627.7a1.2 1.2 0 1 0 2.3 0a1.2 1.2 0 1 0 -2.3 0M239.0 635.7a1.6 1.6 0 1 0 3.2 0a1.6 1.6 0 1 0 -3.2 0M152.6 609.4a1.6 1.6 0 1 0 3.2 0a1.6 1.6 0 1 0 -3.2 0M189.8 648.8a1.2 1.2 0 1 0 2.4 0a1.2 1.2 0 1 0 -2.4 0M177.9 597.3a0.7 0.7 0 1 0 1.4 0a0.7 0.7 0 1 0 -1.4 0M188.1 625.3a1.2 1.2 0 1 0 2.5 0a1.2 1.2 0 1 0 -2.5 0M242.6 581.9a1.2 1.2 0 1 0 2.3 0a1.2 1.2 0 1 0 -2.3 0M151.9 617.2a1.3 1.3 0 1 0 2.7 0a1.3 1.3 0 1 0 -2.7 0M180.6 624.7a1.2 1.2 0 1 0 2.4 0a1.2 1.2 0 1 0 -2.4 0M207.0 606.3a1.0 1.0 0 1 0 2.1 0a1.0 1.0 0 1 0 -2.1 0M198.6 586.6a1.7 1.7 0 1 0 3.4 0a1.7 1.7 0 1 0 -3.4 0M207.4 631.4a1.2 1.2 0 1 0 2.3 0a1.2 1.2 0 1 0 -2.3 0M221.0 585.7a0.8 0.8 0 1 0 1.6 0a0.8 0.8 0 1 0 -1.6 0M201.7 635.1a1.5 1.5 0 1 0 3.1 0a1.5 1.5 0 1 0 -3.1 0M244.7 588.7a1.2 1.2 0 1 0 2.4 0a1.2 1.2 0 1 0 -2.4 0M201.5 639.9a1.1 1.1 0 1 0 2.2 0a1.1 1.1 0 1 0 -2.2 0M169.2 618.8a1.7 1.7 0 1 0 3.4 0a1.7 1.7 0 1 0 -3.4 0M181.9 582.7a1.7 1.7 0 1 0 3.3 0a1.7 1.7 0 1 0 -3.3 0M203.0 637.1a1.4 1.4 0 1 0 2.8 0a1.4 1.4 0 1 0 -2.8 0M223.5 643.0a0.9 0.9 0 1 0 1.8 0a0.9 0.9 0 1 0 -1.8 0M183.3 616.2a0.8 0.8 0 1 0 1.5 0a0.8 0.8 0 1 0 -1.5 0M168.3 597.5a0.7 0.7 0 1 0 1.4 0a0.7 0.7 0 1 0 -1.4 0M218.6 574.7a0.8 0.8 0 1 0 1.5 0a0.8 0.8 0 1 0 -1.5 0M248.9 639.8a1.1 1.1 0 1 0 2.3 0a1.1 1.1 0 1 0 -2.3 0M222.0 645.6a1.2 1.2 0 1 0 2.4 0a1.2 1.2 0 1 0 -2.4 0M169.3 644.9a1.7 1.7 0 1 0 3.4 0a1.7 1.7 0 1 0 -3.4 0M187.1 633.5a1.0 1.0 0 1 0 2.1 0a1.0 1.0 0 1 0 -2.1 0M173.2 608.1a1.4 1.4 0 1 0 2.9 0a1.4 1.4 0 1 0 -2.9 0M182.4 583.1a0.9 0.9 0 1 0 1.8 0a0.9 0.9 0 1 0 -1.8 0M223.4 591.0a1.3 1.3 0 1 0 2.6 0a1.3 1.3 0 1 0 -2.6 0M203.0 602.5a1.0 1.0 0 1 0 1.9 0a1.0 1.0 0 1 0 -1.9 0M181.4 586.3a1.2 1.2 0 1 0 2.5 0a1.2 1.2 0 1 0 -2.5 0M158.3 589.5a1.2 1.2 0 1 0 2.4 0a1.2 1.2 0 1 0 -2.4 0M194.0 625.0a1.4 1.4 0 1 0 2.8 0a1.4 1.4 0 1 0 -2.8 0M203.2 629.1a0.9 0.9 0 1 0 1.8 0a0.9 0.9 0 1 0 -1.8 0M159.6 646.2a0.6 0.6 0 1 0 1.3 0a0.6 0.6 0 1 0 -1.3 0M200.4 599.0a1.2 1.2 0 1 0 2.3 0a1.2 1.2 0 1 0 -2.3 0M219.7 645.9a1.3 1.3 0 1 0 2.6 0a1.3 1.3 0 1 0 -2.6 0M179.6 616.7a1.2 1.2 0 1 0 2.4 0a1.2 1.2 0 1 0 -2.4 0M230.0 641.6a0.9 0.9 0 1 0 1.7 0a0.9 0.9 0 1 0 -1.7 0M153.6 585.4a0.7 0.7 0 1 0 1.4 0a0.7 0.7 0 1 0 -1.4 0M191.2 598.9a1.7 1.7 0 1 0 3.3 0a1.7 1.7 0 1 0 -3.3 0M240.5 618.1a1.2 1.2 0 1 0 2.4 0a1.2 1.2 0 1 0 -2.4 0M164.9 627.8a0.8 0.8 0 1 0 1.6 0a0.8 0.8 0 1 0 -1.6 0M193.7 580.1a0.8 0.8 0 1 0 1.7 0a0.8 0.8 0 1 0 -1.7 0M183.0 596.5a1.7 1.7 0 1 0 3.3 0a1.7 1.7 0 1 0 -3.3 0M233.1 594.9a1.3 1.3 0 1 0 2.7 0a1.3 1.3 0 1 0 -2.7 0M245.1 649.5a0.6 0.6 0 1 0 1.3 0a0.6 0.6 0 1 0 -1.3 0M200.8 575.7a0.9 0.9 0 1 0 1.8 0a0.9 0.9 0 1 0 -1.8 0M218.0 585.1a1.1 1.1 0 1 0 2.2 0a1.1 1.1 0 1 0 -2.2 0M181.2 638.2a0.7 0.7 0 1 0 1.4 0a0.7 0.7 0 1 0 -1.4 0M229.1 591.1a1.3 1.3 0 1 0 2.5 0a1.3 1.3 0 1 0 -2.5 0M160.1 597.3a1.4 1.4 0 1 0 2.7 0a1.4 1.4 0 1 0 -2.7 0M241.1 599.0a0.6 0.6 0 1 0 1.3 0a0.6 0.6 0 1 0 -1.3 0M231.2 591.9a1.1 1.1 0 1 0 2.1 0a1.1 1.1 0 1 0 -2.1 0M202.1 638.9a1.1 1.1 0 1 0 2.2 0a1.1 1.1 0 1 0 -2.2 0M225.0 594.3a0.7 0.7 0 1 0 1.4 0a0.7 0.7 0 1 0 -1.4 0M219.0 576.8a1.0 1.0 0 1 0 1.9 0a1.0 1.0 0 1 0 -1.9 0M222.7 606.2a1.0 1.0 0 1 0 1.9 0a1.0 1.0 0 1 0 -1.9 0M193.9 582.3a1.0 1.0 0 1 0 2.0 0a1.0 1.0 0 1 0 -2.0 0M176.8 583.2a0.6 0.6 0 1 0 1.2 0a0.6 0.6 0 1 0 -1.2 0M173.5 603.9a1.0 1.0 0 1 0 1.9 0a1.0 1.0 0 1 0 -1.9 0M238.9 612.7a1.6 1.6 0 1 0 3.1 0a1.6 1.6 0 1 0 -3.1 0M227.7 599.8a1.0 1.0 0 1 0 2.1 0a1.0 1.0 0 1 0 -2.1 0M183.3 620.3a1.4 1.4 0 1 0 2.8 0a1.4 1.4 0 1 0 -2.8 0M242.3 619.0a1.2 1.2 0 1 0 2.4 0a1.2 1.2 0 1 0 -2.4 0M180.8 597.0a0.7 0.7 0 1 0 1.4 0a0.7 0.7 0 1 0 -1.4 0M210.2 582.9a0.9 0.9 0 1 0 1.8 0a0.9 0.9 0 1 0 -1.8 0M161.5 649.1a1.4 1.4 0 1 0 2.9 0a1.4 1.4 0 1 0 -2.9 0M180.8 580.8a0.7 0.7 0 1 0 1.5 0a0.7 0.7 0 1 0 -1.5 0M153.9 587.8a0.8 0.8 0 1 0 1.6 0a0.8 0.8 0 1 0 -1.6 0M209.5 639.9a1.0 1.0 0 1 0 2.0 0a1.0 1.0 0 1 0 -2.0 0M210.8 622.0a1.2 1.2 0 1 0 2.4 0a1.2 1.2 0 1 0 -2.4 0M155.7 628.3a0.7 0.7 0 1 0 1.4 0a0.7 0.7 0 1 0 -1.4 0M214.9 583.0a1.0 1.0 0 1 0 2.1 0a1.0 1.0 0 1 0 -2.1 0M218.3 638.2a1.4 1.4 0 1 0 2.8 0a1.4 1.4 0 1 0 -2.8 0M182.0 580.4a1.0 1.0 0 1 0 1.9 0a1.0 1.0 0 1 0 -1.9 0M238.5 594.9a1.6 1.6 0 1 0 3.3 0a1.6 1.6 0 1 0 -3.3 0M183.9 575.0a0.9 0.9 0 1 0 1.9 0a0.9 0.9 0 1 0 -1.9 0M200.8 586.6a1.0 1.0 0 1 0 2.1 0a1.0 1.0 0 1 0 -2.1 0M233.0 603.5a1.7 1.7 0 1 0 3.4 0a1.7 1.7 0 1 0 -3.4 0M209.3 620.3a1.3 1.3 0 1 0 2.6 0a1.3 1.3 0 1 0 -2.6 0M191.2 588.5a1.7 1.7 0 1 0 3.3 0a1.7 1.7 0 1 0 -3.3 0M199.9 626.6a1.5 1.5 0 1 0 3.0 0a1.5 1.5 0 1 0 -3.0 0M216.4 596.7a0.7 0.7 0 1 0 1.3 0a0.7 0.7 0 1 0 -1.3 0M165.7 645.3a1.6 1.6 0 1 0 3.2 0a1.6 1.6 0 1 0 -3.2 0M224.4 627.7a1.2 1.2 0 1 0 2.5 0a1.2 1.2 0 1 0 -2.5 0M202.1 646.4a1.3 1.3 0 1 0 2.7 0a1.3 1.3 0 1 0 -2.7 0M159.1 637.6a1.2 1.2 0 1 0 2.5 0a1.2 1.2 0 1 0 -2.5 0M171.7 595.5a1.6 1.6 0 1 0 3.3 0a1.6 1.6 0 1 0 -3.3 0M158.0 629.6a1.5 1.5 0 1 0 3.1 0a1.5 1.5 0 1 0 -3.1 0M172.0 588.0a1.5 1.5 0 1 0 3.0 0a1.5 1.5 0 1 0 -3.0 0M208.5 603.0a1.3 1.3 0 1 0 2.5 0a1.3 1.3 0 1 0 -2.5 0M212.2 638.0a1.7 1.7 0 1 0 3.4 0a1.7 1.7 0 1 0 -3.4 0M226.4 627.0a1.2 1.2 0 1 0 2.4 0a1.2 1.2 0 1 0 -2.4 0M198.4 649.0a1.3 1.3 0 1 0 2.6 0a1.3 1.3 0 1 0 -2.6 0M186.4 609.6a1.6 1.6 0 1 0 3.1 0a1.6 1.6 0 1 0 -3.1 0M220.1 642.2a1.0 1.0 0 1 0 1.9 0a1.0 1.0 0 1 0 -1.9 0M195.4 575.3a0.9 0.9 0 1 0 1.9 0a0.9 0.9 0 1 0 -1.9 0M227.8 630.5a0.8 0.8 0 1 0 1.7 0a0.8 0.8 0 1 0 -1.7 0M223.9 591.4a1.5 1.5 0 1 0 3.0 0a1.5 1.5 0 1 0 -3.0 0M162.6 613.5a1.6 1.6 0 1 0 3.2 0a1.6 1.6 0 1 0 -3.2 0M235.6 596.5a1.4 1.4 0 1 0 2.9 0a1.4 1.4 0 1 0 -2.9 0M181.3 629.2a1.7 1.7 0 1 0 3.3 0a1.7 1.7 0 1 0 -3.3 0M192.0 587.5a1.0 1.0 0 1 0 2.0 0a1.0 1.0 0 1 0 -2.0 0M212.2 610.9a1.7 1.7 0 1 0 3.3 0a1.7 1.7 0 1 0 -3.3 0M237.7 612.5a1.6 1.6 0 1 0 3.1 0a1.6 1.6 0 1 0 -3.1 0M193.8 594.2a1.5 1.5 0 1 0 3.1 0a1.5 1.5 0 1 0 -3.1 0M165.6 613.3a1.5 1.5 0 1 0 3.0 0a1.5 1.5 0 1 0 -3.0 0M243.3 606.2a1.0 1.0 0 1 0 2.0 0a1.0 1.0 0 1 0 -2.0 0M160.8 596.5a0.6 0.6 0 1 0 1.3 0a0.6 0.6 0 1 0 -1.3 0M161.8 611.5a1.6 1.6 0 1 0 3.3 0a1.6 1.6 0 1 0 -3.3 0M157.6 586.0a1.2 1.2 0 1 0 2.3 0a1.2 1.2 0 1 0 -2.3 0M241.4 631.0a0.9 0.9 0 1 0 1.7 0a0.9 0.9 0 1 0 -1.7 0M163.1 647.7a1.0 1.0 0 1 0 2.1 0a1.0 1.0 0 1 0 -2.1 0M182.2 588.6a1.6 1.6 0 1 0 3.1 0a1.6 1.6 0 1 0 -3.1 0M209.8 641.8a1.7 1.7 0 1 0 3.4 0a1.7 1.7 0 1 0 -3.4 0M205.9 594.6a1.4 1.4 0 1 0 2.7 0a1.4 1.4 0 1 0 -2.7 0M175.1 631.0a1.5 1.5 0 1 0 3.0 0a1.5 1.5 0 1 0 -3.0 0M164.5 647.8a1.6 1.6 0 1 0 3.2 0a1.6 1.6 0 1 0 -3.2 0M195.1 583.7a1.6 1.6 0 1 0 3.2 0a1.6 1.6 0 1 0 -3.2 0M231.6 644.2a1.2 1.2 0 1 0 2.4 0a1.2 1.2 0 1 0 -2.4 0M206.0 649.0a1.4 1.4 0 1 0 2.8 0a1.4 1.4 0 1 0 -2.8 0M249.0 592.8a0.8 0.8 0 1 0 1.6 0a0.8 0.8 0 1 0 -1.6 0M154.0 636.2a0.6 0.6 0 1 0 1.2 0a0.6 0.6 0 1 0 -1.2 0M203.6 588.9a0.9 0.9 0 1 0 1.7 0a0.9 0.9 0 1 0 -1.7 0M196.6 588.2a1.2 1.2 0 1 0 2.4 0a1.2 1.2 0 1 0 -2.4 0M152.7 627.9a1.4 1.4 0 1 0 2.9 0a1.4 1.4 0 1 0 -2.9 0M223.5 586.8a1.1 1.1 0 1 0 2.1 0a1.1 1.1 0 1 0 -2.1 0M166.0 600.6a0.8 0.8 0 1 0 1.6 0a0.8 0.8 0 1 0 -1.6 0M194.0 628.9a1.3 1.3 0 1 0 2.5 0a1.3 1.3 0 1 0 -2.5 0M218.9 642.3a1.6 1.6 0 1 0 3.2 0a1.6 1.6 0 1 0 -3.2 0M225.0 575.8a1.5 1.5 0 1 0 2.9 0a1.5 1.5 0 1 0 -2.9 0M228.0 600.0a0.9 0.9 0 1 0 1.8 0a0.9 0.9 0 1 0 -1.8 0M183.8 620.6a0.9 0.9 0 1 0 1.8 0a0.9 0.9 0 1 0 -1.8 0M216.6 649.0a1.5 1.5 0 1 0 3.1 0a1.5 1.5 0 1 0 -3.1 0M219.9 636.9a1.0 1.0 0 1 0 2.0 0a1.0 1.0 0 1 0 -2.0 0M168.8 615.3a1.6 1.6 0 1 0 3.2 0a1.6 1.6 0 1 0 -3.2 0M162.2 578.3a1.3 1.3 0 1 0 2.6 0a1.3 1.3 0 1 0 -2.6 0M242.2 595.4a1.6 1.6 0 1 0 3.3 0a1.6 1.6 0 1 0 -3.3 0M176.3 581.9a1.5 1.5 0 1 0 3.0 0a1.5 1.5 0 1 0 -3.0 0M176.4 591.3a1.3 1.3 0 1 0 2.6 0a1.3 1.3 0 1 0 -2.6 0M239.1 612.3a1.6 1.6 0 1 0 3.2 0a1.6 1.6 0 1 0 -3.2 0M209.5 617.1a1.3 1.3 0 1 0 2.6 0a1.3 1.3 0 1 0 -2.6 0M223.9 623.4a1.1 1.1 0 1 0 2.1 0a1.1 1.1 0 1 0 -2.1 0M178.6 588.4a1.5 1.5 0 1 0 3.0 0a1.5 1.5 0 1 0 -3.0 0M247.4 615.4a0.9 0.9 0 1 0 1.8 0a0.9 0.9 0 1 0 -1.8 0M231.5 584.4a1.0 1.0 0 1 0 2.1 0a1.0 1.0 0 1 0 -2.1 0M234.5 574.8a1.6 1.6 0 1 0 3.2 0a1.6 1.6 0 1 0 -3.2 0M156.9 615.7a1.2 1.2 0 1 0 2.4 0a1.2 1.2 0 1 0 -2.4 0M167.1 614.1a1.0 1.0 0 1 0 2.0 0a1.0 1.0 0 1 0 -2.0 0M249.1 613.6a0.9 0.9 0 1 0 1.9 0a0.9 0.9 0 1 0 -1.9 0M226.6 645.6a1.4 1.4 0 1 0 2.8 0a1.4 1.4 0 1 0 -2.8 0M206.9 583.5a0.9 0.9 0 1 0 1.8 0a0.9 0.9 0 1 0 -1.8 0M202.6 598.0a1.1 1.1 0 1 0 2.2 0a1.1 1.1 0 1 0 -2.2 0M155.5 624.2a1.3 1.3 0 1 0 2.7 0a1.3 1.3 0 1 0 -2.7 0M191.8 649.8a1.2 1.2 0 1 0 2.5 0a1.2 1.2 0 1 0 -2.5 0M155.5 615.2a1.7 1.7 0 1 0 3.4 0a1.7 1.7 0 1 0 -3.4 0M211.1 649.7a1.4 1.4 0 1 0 2.9 0a1.4 1.4 0 1 0 -2.9 0M177.2 627.9a1.0 1.0 0 1 0 2.1 0a1.0 1.0 0 1 0 -2.1 0M170.4 605.9a1.6 1.6 0 1 0 3.2 0a1.6 1.6 0 1 0 -3.2 0M231.9 616.7a1.5 1.5 0 1 0 3.0 0a1.5 1.5 0 1 0 -3.0 0M245.9 644.2a0.8 0.8 0 1 0 1.6 0a0.8 0.8 0 1 0 -1.6 0M151.5 592.4a1.2 1.2 0 1 0 2.4 0a1.2 1.2 0 1 0 -2.4 0M162.3 604.0a1.7 1.7 0 1 0 3.4 0a1.7 1.7 0 1 0 -3.4 0M206.7 643.3a1.4 1.4 0 1 0 2.8 0a1.4 1.4 0 1 0 -2.8 0M240.9 611.1a0.9 0.9 0 1 0 1.7 0a0.9 0.9 0 1 0 -1.7 0M238.2 601.0a1.5 1.5 0 1 0 3.1 0a1.5 1.5 0 1 0 -3.1 0M169.8 623.4a0.9 0.9 0 1 0 1.9 0a0.9 0.9 0 1 0 -1.9 0M152.7 643.1a1.2 1.2 0 1 0 2.5 0a1.2 1.2 0 1 0 -2.5 0" fill="#c9c7ce" opacity="0.95"/>
<path d="M189.8 650.0a1.1 1.1 0 1 0 2.3 0a1.1 1.1 0 1 0 -2.3 0M234.5 624.7a0.8 0.8 0 1 0 1.7 0a0.8 0.8 0 1 0 -1.7 0M207.8 613.0a0.7 0.7 0 1 0 1.4 0a0.7 0.7 0 1 0 -1.4 0M203.3 602.5a1.0 1.0 0 1 0 1.9 0a1.0 1.0 0 1 0 -1.9 0M215.9 592.0a1.2 1.2 0 1 0 2.4 0a1.2 1.2 0 1 0 -2.4 0M200.5 601.4a1.4 1.4 0 1 0 2.7 0a1.4 1.4 0 1 0 -2.7 0M179.3 646.1a1.2 1.2 0 1 0 2.3 0a1.2 1.2 0 1 0 -2.3 0M228.1 606.2a1.2 1.2 0 1 0 2.5 0a1.2 1.2 0 1 0 -2.5 0M242.3 635.0a1.6 1.6 0 1 0 3.2 0a1.6 1.6 0 1 0 -3.2 0M223.3 588.9a0.9 0.9 0 1 0 1.8 0a0.9 0.9 0 1 0 -1.8 0M214.1 584.0a1.2 1.2 0 1 0 2.4 0a1.2 1.2 0 1 0 -2.4 0M182.3 588.2a1.3 1.3 0 1 0 2.7 0a1.3 1.3 0 1 0 -2.7 0M188.1 576.9a1.1 1.1 0 1 0 2.3 0a1.1 1.1 0 1 0 -2.3 0M200.2 578.9a1.3 1.3 0 1 0 2.5 0a1.3 1.3 0 1 0 -2.5 0M248.4 602.3a1.5 1.5 0 1 0 3.1 0a1.5 1.5 0 1 0 -3.1 0M192.1 627.5a1.5 1.5 0 1 0 2.9 0a1.5 1.5 0 1 0 -2.9 0M186.8 630.0a1.0 1.0 0 1 0 1.9 0a1.0 1.0 0 1 0 -1.9 0M242.2 622.5a0.8 0.8 0 1 0 1.6 0a0.8 0.8 0 1 0 -1.6 0M166.6 594.2a0.6 0.6 0 1 0 1.3 0a0.6 0.6 0 1 0 -1.3 0M193.1 621.4a0.9 0.9 0 1 0 1.8 0a0.9 0.9 0 1 0 -1.8 0M196.4 614.5a1.3 1.3 0 1 0 2.6 0a1.3 1.3 0 1 0 -2.6 0M202.3 622.7a1.1 1.1 0 1 0 2.2 0a1.1 1.1 0 1 0 -2.2 0M220.9 647.0a1.4 1.4 0 1 0 2.7 0a1.4 1.4 0 1 0 -2.7 0M219.2 575.5a0.9 0.9 0 1 0 1.7 0a0.9 0.9 0 1 0 -1.7 0M185.1 603.5a1.5 1.5 0 1 0 3.1 0a1.5 1.5 0 1 0 -3.1 0M177.1 606.3a0.7 0.7 0 1 0 1.4 0a0.7 0.7 0 1 0 -1.4 0M247.2 619.9a0.7 0.7 0 1 0 1.4 0a0.7 0.7 0 1 0 -1.4 0M238.3 585.3a1.0 1.0 0 1 0 1.9 0a1.0 1.0 0 1 0 -1.9 0M215.7 622.8a1.2 1.2 0 1 0 2.5 0a1.2 1.2 0 1 0 -2.5 0M226.8 598.1a0.7 0.7 0 1 0 1.5 0a0.7 0.7 0 1 0 -1.5 0M163.5 637.6a1.0 1.0 0 1 0 2.0 0a1.0 1.0 0 1 0 -2.0 0M231.3 594.3a1.2 1.2 0 1 0 2.4 0a1.2 1.2 0 1 0 -2.4 0M236.3 581.0a1.2 1.2 0 1 0 2.4 0a1.2 1.2 0 1 0 -2.4 0M207.6 638.4a1.6 1.6 0 1 0 3.2 0a1.6 1.6 0 1 0 -3.2 0M251.6 591.2a1.0 1.0 0 1 0 2.1 0a1.0 1.0 0 1 0 -2.1 0M235.8 576.1a0.8 0.8 0 1 0 1.5 0a0.8 0.8 0 1 0 -1.5 0M226.9 596.2a1.4 1.4 0 1 0 2.9 0a1.4 1.4 0 1 0 -2.9 0M187.4 581.7a1.1 1.1 0 1 0 2.3 0a1.1 1.1 0 1 0 -2.3 0M213.8 637.1a1.3 1.3 0 1 0 2.7 0a1.3 1.3 0 1 0 -2.7 0M241.9 645.2a1.2 1.2 0 1 0 2.3 0a1.2 1.2 0 1 0 -2.3 0M196.0 634.9a0.7 0.7 0 1 0 1.4 0a0.7 0.7 0 1 0 -1.4 0M173.9 599.3a1.6 1.6 0 1 0 3.3 0a1.6 1.6 0 1 0 -3.3 0M167.1 607.8a1.1 1.1 0 1 0 2.3 0a1.1 1.1 0 1 0 -2.3 0M160.8 641.9a0.8 0.8 0 1 0 1.5 0a0.8 0.8 0 1 0 -1.5 0M167.7 649.5a1.5 1.5 0 1 0 3.1 0a1.5 1.5 0 1 0 -3.1 0M193.2 580.6a1.0 1.0 0 1 0 1.9 0a1.0 1.0 0 1 0 -1.9 0M236.7 644.4a1.2 1.2 0 1 0 2.4 0a1.2 1.2 0 1 0 -2.4 0M194.8 588.7a0.8 0.8 0 1 0 1.5 0a0.8 0.8 0 1 0 -1.5 0M247.6 587.1a1.1 1.1 0 1 0 2.1 0a1.1 1.1 0 1 0 -2.1 0M239.0 599.4a0.7 0.7 0 1 0 1.5 0a0.7 0.7 0 1 0 -1.5 0M167.9 617.0a1.6 1.6 0 1 0 3.1 0a1.6 1.6 0 1 0 -3.1 0M239.2 649.3a1.4 1.4 0 1 0 2.7 0a1.4 1.4 0 1 0 -2.7 0M167.2 643.5a1.6 1.6 0 1 0 3.2 0a1.6 1.6 0 1 0 -3.2 0M194.4 607.7a1.6 1.6 0 1 0 3.3 0a1.6 1.6 0 1 0 -3.3 0M176.2 644.5a0.8 0.8 0 1 0 1.7 0a0.8 0.8 0 1 0 -1.7 0M229.3 585.7a1.5 1.5 0 1 0 2.9 0a1.5 1.5 0 1 0 -2.9 0M188.5 612.8a1.3 1.3 0 1 0 2.5 0a1.3 1.3 0 1 0 -2.5 0M179.8 590.1a1.4 1.4 0 1 0 2.7 0a1.4 1.4 0 1 0 -2.7 0M213.9 636.3a0.7 0.7 0 1 0 1.4 0a0.7 0.7 0 1 0 -1.4 0M174.3 577.9a1.3 1.3 0 1 0 2.6 0a1.3 1.3 0 1 0 -2.6 0M161.5 631.7a0.8 0.8 0 1 0 1.6 0a0.8 0.8 0 1 0 -1.6 0M229.2 644.0a0.8 0.8 0 1 0 1.7 0a0.8 0.8 0 1 0 -1.7 0M180.8 584.9a1.5 1.5 0 1 0 3.0 0a1.5 1.5 0 1 0 -3.0 0M183.4 606.1a1.6 1.6 0 1 0 3.2 0a1.6 1.6 0 1 0 -3.2 0M198.0 650.2a0.8 0.8 0 1 0 1.6 0a0.8 0.8 0 1 0 -1.6 0M181.6 636.6a1.5 1.5 0 1 0 3.0 0a1.5 1.5 0 1 0 -3.0 0M247.6 636.5a1.6 1.6 0 1 0 3.1 0a1.6 1.6 0 1 0 -3.1 0M236.4 603.2a0.9 0.9 0 1 0 1.8 0a0.9 0.9 0 1 0 -1.8 0M207.5 586.7a1.5 1.5 0 1 0 3.1 0a1.5 1.5 0 1 0 -3.1 0M199.5 577.0a1.2 1.2 0 1 0 2.3 0a1.2 1.2 0 1 0 -2.3 0M237.1 644.7a1.4 1.4 0 1 0 2.8 0a1.4 1.4 0 1 0 -2.8 0M181.1 644.8a1.6 1.6 0 1 0 3.1 0a1.6 1.6 0 1 0 -3.1 0M247.9 631.7a1.4 1.4 0 1 0 2.7 0a1.4 1.4 0 1 0 -2.7 0M243.3 624.9a0.7 0.7 0 1 0 1.4 0a0.7 0.7 0 1 0 -1.4 0M247.9 633.6a1.1 1.1 0 1 0 2.1 0a1.1 1.1 0 1 0 -2.1 0M165.1 649.1a0.6 0.6 0 1 0 1.2 0a0.6 0.6 0 1 0 -1.2 0M217.4 582.2a0.7 0.7 0 1 0 1.4 0a0.7 0.7 0 1 0 -1.4 0M162.6 628.0a0.6 0.6 0 1 0 1.2 0a0.6 0.6 0 1 0 -1.2 0M236.2 634.7a0.7 0.7 0 1 0 1.3 0a0.7 0.7 0 1 0 -1.3 0M155.3 639.8a0.7 0.7 0 1 0 1.5 0a0.7 0.7 0 1 0 -1.5 0M250.6 610.8a1.2 1.2 0 1 0 2.4 0a1.2 1.2 0 1 0 -2.4 0M233.9 585.0a1.2 1.2 0 1 0 2.5 0a1.2 1.2 0 1 0 -2.5 0M246.8 618.4a1.6 1.6 0 1 0 3.1 0a1.6 1.6 0 1 0 -3.1 0M171.8 633.4a1.0 1.0 0 1 0 2.1 0a1.0 1.0 0 1 0 -2.1 0M206.9 613.5a0.7 0.7 0 1 0 1.5 0a0.7 0.7 0 1 0 -1.5 0M166.6 625.5a0.7 0.7 0 1 0 1.3 0a0.7 0.7 0 1 0 -1.3 0M211.3 583.9a1.7 1.7 0 1 0 3.4 0a1.7 1.7 0 1 0 -3.4 0M176.2 584.2a0.7 0.7 0 1 0 1.3 0a0.7 0.7 0 1 0 -1.3 0M183.7 631.5a1.4 1.4 0 1 0 2.8 0a1.4 1.4 0 1 0 -2.8 0M204.3 630.5a1.1 1.1 0 1 0 2.2 0a1.1 1.1 0 1 0 -2.2 0M168.8 618.6a1.2 1.2 0 1 0 2.4 0a1.2 1.2 0 1 0 -2.4 0M195.9 628.0a0.8 0.8 0 1 0 1.7 0a0.8 0.8 0 1 0 -1.7 0M209.5 578.4a1.0 1.0 0 1 0 2.0 0a1.0 1.0 0 1 0 -2.0 0M222.6 582.8a1.2 1.2 0 1 0 2.3 0a1.2 1.2 0 1 0 -2.3 0M163.9 605.1a1.4 1.4 0 1 0 2.7 0a1.4 1.4 0 1 0 -2.7 0M187.0 589.7a1.1 1.1 0 1 0 2.2 0a1.1 1.1 0 1 0 -2.2 0M227.1 583.2a0.8 0.8 0 1 0 1.5 0a0.8 0.8 0 1 0 -1.5 0M221.2 579.4a1.4 1.4 0 1 0 2.8 0a1.4 1.4 0 1 0 -2.8 0M195.6 623.9a1.4 1.4 0 1 0 2.8 0a1.4 1.4 0 1 0 -2.8 0M152.7 621.0a1.4 1.4 0 1 0 2.8 0a1.4 1.4 0 1 0 -2.8 0M183.9 579.8a1.5 1.5 0 1 0 3.0 0a1.5 1.5 0 1 0 -3.0 0M202.0 592.7a1.3 1.3 0 1 0 2.6 0a1.3 1.3 0 1 0 -2.6 0M190.7 616.2a1.7 1.7 0 1 0 3.3 0a1.7 1.7 0 1 0 -3.3 0M251.2 611.0a0.8 0.8 0 1 0 1.6 0a0.8 0.8 0 1 0 -1.6 0M238.2 579.9a0.9 0.9 0 1 0 1.9 0a0.9 0.9 0 1 0 -1.9 0M186.8 576.2a1.7 1.7 0 1 0 3.3 0a1.7 1.7 0 1 0 -3.3 0M163.2 593.4a1.6 1.6 0 1 0 3.2 0a1.6 1.6 0 1 0 -3.2 0M207.1 611.4a0.9 0.9 0 1 0 1.9 0a0.9 0.9 0 1 0 -1.9 0M244.9 638.7a1.3 1.3 0 1 0 2.5 0a1.3 1.3 0 1 0 -2.5 0M236.2 585.8a0.9 0.9 0 1 0 1.8 0a0.9 0.9 0 1 0 -1.8 0M237.3 623.9a1.4 1.4 0 1 0 2.8 0a1.4 1.4 0 1 0 -2.8 0M243.3 625.3a1.1 1.1 0 1 0 2.3 0a1.1 1.1 0 1 0 -2.3 0M155.1 581.6a1.7 1.7 0 1 0 3.4 0a1.7 1.7 0 1 0 -3.4 0M194.3 594.6a0.8 0.8 0 1 0 1.6 0a0.8 0.8 0 1 0 -1.6 0M157.5 618.4a1.2 1.2 0 1 0 2.4 0a1.2 1.2 0 1 0 -2.4 0M229.8 578.9a0.7 0.7 0 1 0 1.5 0a0.7 0.7 0 1 0 -1.5 0M228.6 637.0a1.6 1.6 0 1 0 3.2 0a1.6 1.6 0 1 0 -3.2 0M251.0 617.6a0.9 0.9 0 1 0 1.8 0a0.9 0.9 0 1 0 -1.8 0M176.8 613.8a0.8 0.8 0 1 0 1.7 0a0.8 0.8 0 1 0 -1.7 0M158.5 594.7a1.6 1.6 0 1 0 3.3 0a1.6 1.6 0 1 0 -3.3 0M172.2 604.0a0.7 0.7 0 1 0 1.4 0a0.7 0.7 0 1 0 -1.4 0M203.4 600.5a1.3 1.3 0 1 0 2.6 0a1.3 1.3 0 1 0 -2.6 0M166.2 604.9a0.8 0.8 0 1 0 1.5 0a0.8 0.8 0 1 0 -1.5 0M227.8 608.6a1.4 1.4 0 1 0 2.8 0a1.4 1.4 0 1 0 -2.8 0M176.4 622.8a0.9 0.9 0 1 0 1.8 0a0.9 0.9 0 1 0 -1.8 0M247.1 646.9a1.3 1.3 0 1 0 2.6 0a1.3 1.3 0 1 0 -2.6 0M209.5 630.6a1.5 1.5 0 1 0 2.9 0a1.5 1.5 0 1 0 -2.9 0M176.2 649.5a1.0 1.0 0 1 0 2.0 0a1.0 1.0 0 1 0 -2.0 0M208.6 634.6a1.0 1.0 0 1 0 2.0 0a1.0 1.0 0 1 0 -2.0 0M245.9 630.0a0.9 0.9 0 1 0 1.8 0a0.9 0.9 0 1 0 -1.8 0M184.5 635.6a0.9 0.9 0 1 0 1.7 0a0.9 0.9 0 1 0 -1.7 0M192.2 605.5a1.5 1.5 0 1 0 3.0 0a1.5 1.5 0 1 0 -3.0 0M226.9 605.5a0.9 0.9 0 1 0 1.7 0a0.9 0.9 0 1 0 -1.7 0M176.6 605.5a1.4 1.4 0 1 0 2.8 0a1.4 1.4 0 1 0 -2.8 0M197.4 578.8a1.2 1.2 0 1 0 2.3 0a1.2 1.2 0 1 0 -2.3 0M236.7 606.6a0.8 0.8 0 1 0 1.6 0a0.8 0.8 0 1 0 -1.6 0M242.5 642.1a1.2 1.2 0 1 0 2.4 0a1.2 1.2 0 1 0 -2.4 0M179.2 614.7a1.5 1.5 0 1 0 3.0 0a1.5 1.5 0 1 0 -3.0 0M247.8 637.5a0.8 0.8 0 1 0 1.6 0a0.8 0.8 0 1 0 -1.6 0M204.4 618.2a1.0 1.0 0 1 0 2.0 0a1.0 1.0 0 1 0 -2.0 0M162.6 615.6a1.0 1.0 0 1 0 2.0 0a1.0 1.0 0 1 0 -2.0 0M249.2 643.2a0.9 0.9 0 1 0 1.7 0a0.9 0.9 0 1 0 -1.7 0M220.2 617.5a1.0 1.0 0 1 0 2.0 0a1.0 1.0 0 1 0 -2.0 0M195.9 633.0a1.4 1.4 0 1 0 2.8 0a1.4 1.4 0 1 0 -2.8 0M183.1 579.5a0.7 0.7 0 1 0 1.3 0a0.7 0.7 0 1 0 -1.3 0M218.7 617.1a0.6 0.6 0 1 0 1.3 0a0.6 0.6 0 1 0 -1.3 0M203.6 610.6a1.6 1.6 0 1 0 3.1 0a1.6 1.6 0 1 0 -3.1 0M213.3 610.5a0.9 0.9 0 1 0 1.9 0a0.9 0.9 0 1 0 -1.9 0M230.4 629.9a0.9 0.9 0 1 0 1.8 0a0.9 0.9 0 1 0 -1.8 0M231.9 581.6a1.5 1.5 0 1 0 3.0 0a1.5 1.5 0 1 0 -3.0 0M200.7 630.3a1.5 1.5 0 1 0 3.0 0a1.5 1.5 0 1 0 -3.0 0M185.9 575.6a0.7 0.7 0 1 0 1.4 0a0.7 0.7 0 1 0 -1.4 0M241.0 630.5a1.1 1.1 0 1 0 2.3 0a1.1 1.1 0 1 0 -2.3 0M244.5 604.0a1.6 1.6 0 1 0 3.3 0a1.6 1.6 0 1 0 -3.3 0M184.5 648.5a0.9 0.9 0 1 0 1.9 0a0.9 0.9 0 1 0 -1.9 0M211.9 621.3a0.6 0.6 0 1 0 1.3 0a0.6 0.6 0 1 0 -1.3 0M152.0 600.5a1.4 1.4 0 1 0 2.9 0a1.4 1.4 0 1 0 -2.9 0M239.2 642.7a0.8 0.8 0 1 0 1.6 0a0.8 0.8 0 1 0 -1.6 0M193.5 636.9a1.5 1.5 0 1 0 3.0 0a1.5 1.5 0 1 0 -3.0 0M168.3 628.8a1.6 1.6 0 1 0 3.2 0a1.6 1.6 0 1 0 -3.2 0M237.4 576.9a0.8 0.8 0 1 0 1.7 0a0.8 0.8 0 1 0 -1.7 0M243.6 606.6a1.0 1.0 0 1 0 2.1 0a1.0 1.0 0 1 0 -2.1 0M157.8 621.7a0.7 0.7 0 1 0 1.3 0a0.7 0.7 0 1 0 -1.3 0M206.8 627.7a1.3 1.3 0 1 0 2.7 0a1.3 1.3 0 1 0 -2.7 0M174.7 620.9a1.5 1.5 0 1 0 3.0 0a1.5 1.5 0 1 0 -3.0 0M197.9 603.4a1.6 1.6 0 1 0 3.3 0a1.6 1.6 0 1 0 -3.3 0M173.4 617.9a1.7 1.7 0 1 0 3.3 0a1.7 1.7 0 1 0 -3.3 0M248.2 643.5a0.8 0.8 0 1 0 1.6 0a0.8 0.8 0 1 0 -1.6 0M221.5 650.2a0.9 0.9 0 1 0 1.7 0a0.9 0.9 0 1 0 -1.7 0M211.8 633.3a1.5 1.5 0 1 0 2.9 0a1.5 1.5 0 1 0 -2.9 0M232.0 595.9a1.4 1.4 0 1 0 2.8 0a1.4 1.4 0 1 0 -2.8 0M169.7 575.5a1.1 1.1 0 1 0 2.2 0a1.1 1.1 0 1 0 -2.2 0M226.7 578.1a1.4 1.4 0 1 0 2.9 0a1.4 1.4 0 1 0 -2.9 0M193.4 588.6a1.1 1.1 0 1 0 2.2 0a1.1 1.1 0 1 0 -2.2 0M242.6 594.0a1.5 1.5 0 1 0 2.9 0a1.5 1.5 0 1 0 -2.9 0M238.6 634.8a1.3 1.3 0 1 0 2.7 0a1.3 1.3 0 1 0 -2.7 0M164.9 590.8a1.4 1.4 0 1 0 2.7 0a1.4 1.4 0 1 0 -2.7 0M214.8 639.7a1.1 1.1 0 1 0 2.3 0a1.1 1.1 0 1 0 -2.3 0M195.3 592.0a1.2 1.2 0 1 0 2.4 0a1.2 1.2 0 1 0 -2.4 0M235.7 631.4a0.9 0.9 0 1 0 1.8 0a0.9 0.9 0 1 0 -1.8 0M232.6 641.7a1.0 1.0 0 1 0 2.0 0a1.0 1.0 0 1 0 -2.0 0M152.9 622.8a1.3 1.3 0 1 0 2.6 0a1.3 1.3 0 1 0 -2.6 0M209.1 578.5a1.1 1.1 0 1 0 2.3 0a1.1 1.1 0 1 0 -2.3 0M220.7 577.4a0.9 0.9 0 1 0 1.8 0a0.9 0.9 0 1 0 -1.8 0M246.3 630.2a0.9 0.9 0 1 0 1.8 0a0.9 0.9 0 1 0 -1.8 0M247.8 605.9a1.1 1.1 0 1 0 2.2 0a1.1 1.1 0 1 0 -2.2 0M181.3 626.5a0.7 0.7 0 1 0 1.5 0a0.7 0.7 0 1 0 -1.5 0M179.4 628.8a1.0 1.0 0 1 0 2.1 0a1.0 1.0 0 1 0 -2.1 0M250.6 633.5a1.5 1.5 0 1 0 3.0 0a1.5 1.5 0 1 0 -3.0 0M222.5 626.5a0.8 0.8 0 1 0 1.7 0a0.8 0.8 0 1 0 -1.7 0M202.8 575.1a0.7 0.7 0 1 0 1.4 0a0.7 0.7 0 1 0 -1.4 0M179.2 576.6a1.1 1.1 0 1 0 2.3 0a1.1 1.1 0 1 0 -2.3 0M186.1 604.3a0.7 0.7 0 1 0 1.5 0a0.7 0.7 0 1 0 -1.5 0M207.0 643.3a1.3 1.3 0 1 0 2.6 0a1.3 1.3 0 1 0 -2.6 0M221.1 645.6a0.9 0.9 0 1 0 1.9 0a0.9 0.9 0 1 0 -1.9 0M236.6 625.2a0.9 0.9 0 1 0 1.8 0a0.9 0.9 0 1 0 -1.8 0M228.2 593.1a0.6 0.6 0 1 0 1.2 0a0.6 0.6 0 1 0 -1.2 0M172.3 611.7a0.6 0.6 0 1 0 1.3 0a0.6 0.6 0 1 0 -1.3 0M211.3 610.2a1.0 1.0 0 1 0 1.9 0a1.0 1.0 0 1 0 -1.9 0M202.8 606.1a1.0 1.0 0 1 0 2.0 0a1.0 1.0 0 1 0 -2.0 0M246.3 649.5a1.6 1.6 0 1 0 3.1 0a1.6 1.6 0 1 0 -3.1 0M211.1 643.5a1.5 1.5 0 1 0 2.9 0a1.5 1.5 0 1 0 -2.9 0M174.4 603.7a1.0 1.0 0 1 0 2.0 0a1.0 1.0 0 1 0 -2.0 0M196.6 641.3a1.3 1.3 0 1 0 2.6 0a1.3 1.3 0 1 0 -2.6 0M207.0 579.8a1.3 1.3 0 1 0 2.7 0a1.3 1.3 0 1 0 -2.7 0M173.1 643.7a0.6 0.6 0 1 0 1.3 0a0.6 0.6 0 1 0 -1.3 0M241.7 639.0a0.8 0.8 0 1 0 1.6 0a0.8 0.8 0 1 0 -1.6 0M153.9 601.4a0.6 0.6 0 1 0 1.2 0a0.6 0.6 0 1 0 -1.2 0M173.1 643.8a1.1 1.1 0 1 0 2.1 0a1.1 1.1 0 1 0 -2.1 0M224.7 596.7a0.8 0.8 0 1 0 1.7 0a0.8 0.8 0 1 0 -1.7 0M233.4 578.8a1.6 1.6 0 1 0 3.1 0a1.6 1.6 0 1 0 -3.1 0M169.7 630.2a1.5 1.5 0 1 0 3.1 0a1.5 1.5 0 1 0 -3.1 0M178.6 641.6a1.5 1.5 0 1 0 2.9 0a1.5 1.5 0 1 0 -2.9 0M173.3 634.9a1.5 1.5 0 1 0 3.0 0a1.5 1.5 0 1 0 -3.0 0M208.2 635.6a0.8 0.8 0 1 0 1.7 0a0.8 0.8 0 1 0 -1.7 0M199.1 623.8a1.6 1.6 0 1 0 3.1 0a1.6 1.6 0 1 0 -3.1 0M209.4 611.3a0.8 0.8 0 1 0 1.7 0a0.8 0.8 0 1 0 -1.7 0M228.0 607.6a1.4 1.4 0 1 0 2.7 0a1.4 1.4 0 1 0 -2.7 0M204.0 580.4a0.9 0.9 0 1 0 1.8 0a0.9 0.9 0 1 0 -1.8 0M205.8 609.8a1.7 1.7 0 1 0 3.4 0a1.7 1.7 0 1 0 -3.4 0M228.7 598.3a1.1 1.1 0 1 0 2.2 0a1.1 1.1 0 1 0 -2.2 0M234.9 597.2a0.8 0.8 0 1 0 1.6 0a0.8 0.8 0 1 0 -1.6 0M232.5 642.2a1.1 1.1 0 1 0 2.2 0a1.1 1.1 0 1 0 -2.2 0" fill="#e6cccc" opacity="0.95"/>
<path d="M199.5 577.0a1.1 1.1 0 1 0 2.2 0a1.1 1.1 0 1 0 -2.2 0M224.2 644.4a1.0 1.0 0 1 0 2.1 0a1.0 1.0 0 1 0 -2.1 0M227.0 586.5a0.8 0.8 0 1 0 1.7 0a0.8 0.8 0 1 0 -1.7 0M219.7 610.5a0.5 0.5 0 1 0 0.9 0a0.5 0.5 0 1 0 -0.9 0M169.8 580.1a1.0 1.0 0 1 0 1.9 0a1.0 1.0 0 1 0 -1.9 0M238.5 637.0a0.9 0.9 0 1 0 1.8 0a0.9 0.9 0 1 0 -1.8 0M248.4 635.7a0.8 0.8 0 1 0 1.6 0a0.8 0.8 0 1 0 -1.6 0M199.4 645.7a0.4 0.4 0 1 0 0.7 0a0.4 0.4 0 1 0 -0.7 0M177.8 587.0a0.4 0.4 0 1 0 0.8 0a0.4 0.4 0 1 0 -0.8 0M173.9 580.9a1.1 1.1 0 1 0 2.1 0a1.1 1.1 0 1 0 -2.1 0M188.9 597.6a0.9 0.9 0 1 0 1.7 0a0.9 0.9 0 1 0 -1.7 0M178.8 598.3a1.1 1.1 0 1 0 2.2 0a1.1 1.1 0 1 0 -2.2 0M170.7 587.5a1.1 1.1 0 1 0 2.2 0a1.1 1.1 0 1 0 -2.2 0M209.0 587.3a0.8 0.8 0 1 0 1.6 0a0.8 0.8 0 1 0 -1.6 0M185.7 621.5a1.0 1.0 0 1 0 1.9 0a1.0 1.0 0 1 0 -1.9 0M183.4 575.3a0.4 0.4 0 1 0 0.7 0a0.4 0.4 0 1 0 -0.7 0M161.1 633.9a0.9 0.9 0 1 0 1.7 0a0.9 0.9 0 1 0 -1.7 0M157.1 638.2a1.2 1.2 0 1 0 2.3 0a1.2 1.2 0 1 0 -2.3 0M207.4 649.4a0.6 0.6 0 1 0 1.1 0a0.6 0.6 0 1 0 -1.1 0M160.3 577.2a0.8 0.8 0 1 0 1.6 0a0.8 0.8 0 1 0 -1.6 0M233.5 578.0a0.9 0.9 0 1 0 1.9 0a0.9 0.9 0 1 0 -1.9 0M201.3 590.2a1.0 1.0 0 1 0 2.0 0a1.0 1.0 0 1 0 -2.0 0M201.0 585.1a1.2 1.2 0 1 0 2.3 0a1.2 1.2 0 1 0 -2.3 0M222.5 587.1a0.8 0.8 0 1 0 1.6 0a0.8 0.8 0 1 0 -1.6 0M198.4 613.7a0.8 0.8 0 1 0 1.6 0a0.8 0.8 0 1 0 -1.6 0M213.1 594.3a1.1 1.1 0 1 0 2.3 0a1.1 1.1 0 1 0 -2.3 0M221.1 606.0a0.4 0.4 0 1 0 0.8 0a0.4 0.4 0 1 0 -0.8 0M171.2 636.2a0.8 0.8 0 1 0 1.6 0a0.8 0.8 0 1 0 -1.6 0M210.0 598.7a0.8 0.8 0 1 0 1.7 0a0.8 0.8 0 1 0 -1.7 0M189.3 634.3a0.6 0.6 0 1 0 1.3 0a0.6 0.6 0 1 0 -1.3 0M175.1 597.9a1.1 1.1 0 1 0 2.2 0a1.1 1.1 0 1 0 -2.2 0M167.5 589.2a0.5 0.5 0 1 0 1.0 0a0.5 0.5 0 1 0 -1.0 0M153.8 600.1a0.4 0.4 0 1 0 0.7 0a0.4 0.4 0 1 0 -0.7 0M193.9 586.0a1.0 1.0 0 1 0 1.9 0a1.0 1.0 0 1 0 -1.9 0M199.2 640.0a1.0 1.0 0 1 0 2.0 0a1.0 1.0 0 1 0 -2.0 0M246.2 593.3a0.8 0.8 0 1 0 1.7 0a0.8 0.8 0 1 0 -1.7 0M245.5 591.6a1.1 1.1 0 1 0 2.1 0a1.1 1.1 0 1 0 -2.1 0M193.0 629.9a0.5 0.5 0 1 0 1.0 0a0.5 0.5 0 1 0 -1.0 0M188.1 602.3a0.9 0.9 0 1 0 1.8 0a0.9 0.9 0 1 0 -1.8 0M190.3 574.7a0.8 0.8 0 1 0 1.5 0a0.8 0.8 0 1 0 -1.5 0M230.7 624.3a0.7 0.7 0 1 0 1.4 0a0.7 0.7 0 1 0 -1.4 0M203.4 594.1a0.8 0.8 0 1 0 1.6 0a0.8 0.8 0 1 0 -1.6 0M229.5 629.9a1.0 1.0 0 1 0 2.0 0a1.0 1.0 0 1 0 -2.0 0M224.8 626.8a0.9 0.9 0 1 0 1.7 0a0.9 0.9 0 1 0 -1.7 0M177.7 616.1a0.5 0.5 0 1 0 1.0 0a0.5 0.5 0 1 0 -1.0 0M174.5 624.8a0.7 0.7 0 1 0 1.3 0a0.7 0.7 0 1 0 -1.3 0M193.4 617.0a0.9 0.9 0 1 0 1.8 0a0.9 0.9 0 1 0 -1.8 0M208.1 646.8a0.7 0.7 0 1 0 1.4 0a0.7 0.7 0 1 0 -1.4 0M233.7 638.5a1.1 1.1 0 1 0 2.3 0a1.1 1.1 0 1 0 -2.3 0M200.6 609.6a0.8 0.8 0 1 0 1.5 0a0.8 0.8 0 1 0 -1.5 0M194.2 579.0a0.7 0.7 0 1 0 1.3 0a0.7 0.7 0 1 0 -1.3 0M236.6 643.0a1.1 1.1 0 1 0 2.2 0a1.1 1.1 0 1 0 -2.2 0M163.0 597.1a1.1 1.1 0 1 0 2.2 0a1.1 1.1 0 1 0 -2.2 0M163.1 628.7a1.2 1.2 0 1 0 2.3 0a1.2 1.2 0 1 0 -2.3 0M178.0 602.0a1.2 1.2 0 1 0 2.4 0a1.2 1.2 0 1 0 -2.4 0M171.9 622.0a1.1 1.1 0 1 0 2.1 0a1.1 1.1 0 1 0 -2.1 0M220.8 582.7a0.5 0.5 0 1 0 1.1 0a0.5 0.5 0 1 0 -1.1 0M200.2 604.7a0.7 0.7 0 1 0 1.4 0a0.7 0.7 0 1 0 -1.4 0M189.1 609.8a0.7 0.7 0 1 0 1.4 0a0.7 0.7 0 1 0 -1.4 0M163.1 643.0a0.4 0.4 0 1 0 0.7 0a0.4 0.4 0 1 0 -0.7 0M157.9 641.6a1.1 1.1 0 1 0 2.2 0a1.1 1.1 0 1 0 -2.2 0M197.0 632.4a0.9 0.9 0 1 0 1.8 0a0.9 0.9 0 1 0 -1.8 0M152.2 617.9a0.8 0.8 0 1 0 1.6 0a0.8 0.8 0 1 0 -1.6 0M197.4 615.0a0.9 0.9 0 1 0 1.8 0a0.9 0.9 0 1 0 -1.8 0M245.2 598.6a0.5 0.5 0 1 0 1.0 0a0.5 0.5 0 1 0 -1.0 0M222.8 576.2a0.5 0.5 0 1 0 1.1 0a0.5 0.5 0 1 0 -1.1 0M200.2 589.5a1.1 1.1 0 1 0 2.3 0a1.1 1.1 0 1 0 -2.3 0M187.9 592.3a0.4 0.4 0 1 0 0.8 0a0.4 0.4 0 1 0 -0.8 0M159.3 601.4a0.8 0.8 0 1 0 1.6 0a0.8 0.8 0 1 0 -1.6 0M241.1 617.6a0.6 0.6 0 1 0 1.2 0a0.6 0.6 0 1 0 -1.2 0M246.4 638.6a0.8 0.8 0 1 0 1.7 0a0.8 0.8 0 1 0 -1.7 0M170.1 598.7a0.6 0.6 0 1 0 1.2 0a0.6 0.6 0 1 0 -1.2 0M199.3 588.2a0.4 0.4 0 1 0 0.8 0a0.4 0.4 0 1 0 -0.8 0M232.2 612.4a0.4 0.4 0 1 0 0.8 0a0.4 0.4 0 1 0 -0.8 0M218.9 639.5a1.0 1.0 0 1 0 2.0 0a1.0 1.0 0 1 0 -2.0 0M203.3 637.1a0.7 0.7 0 1 0 1.4 0a0.7 0.7 0 1 0 -1.4 0M238.1 622.5a0.6 0.6 0 1 0 1.2 0a0.6 0.6 0 1 0 -1.2 0M241.1 605.9a0.7 0.7 0 1 0 1.5 0a0.7 0.7 0 1 0 -1.5 0M234.8 634.8a1.0 1.0 0 1 0 1.9 0a1.0 1.0 0 1 0 -1.9 0M155.8 632.4a0.5 0.5 0 1 0 1.0 0a0.5 0.5 0 1 0 -1.0 0M242.5 601.4a1.0 1.0 0 1 0 2.0 0a1.0 1.0 0 1 0 -2.0 0M224.0 577.4a1.1 1.1 0 1 0 2.2 0a1.1 1.1 0 1 0 -2.2 0M222.2 590.7a1.2 1.2 0 1 0 2.3 0a1.2 1.2 0 1 0 -2.3 0M219.0 578.0a0.5 0.5 0 1 0 1.0 0a0.5 0.5 0 1 0 -1.0 0M211.2 640.9a0.7 0.7 0 1 0 1.4 0a0.7 0.7 0 1 0 -1.4 0M225.0 647.3a1.1 1.1 0 1 0 2.1 0a1.1 1.1 0 1 0 -2.1 0M213.7 586.8a0.8 0.8 0 1 0 1.6 0a0.8 0.8 0 1 0 -1.6 0M206.1 645.5a1.0 1.0 0 1 0 1.9 0a1.0 1.0 0 1 0 -1.9 0M223.5 603.3a0.6 0.6 0 1 0 1.1 0a0.6 0.6 0 1 0 -1.1 0M214.7 582.4a0.5 0.5 0 1 0 1.0 0a0.5 0.5 0 1 0 -1.0 0M240.0 631.0a0.7 0.7 0 1 0 1.4 0a0.7 0.7 0 1 0 -1.4 0M244.4 589.0a0.5 0.5 0 1 0 1.0 0a0.5 0.5 0 1 0 -1.0 0M199.7 616.5a1.1 1.1 0 1 0 2.3 0a1.1 1.1 0 1 0 -2.3 0M185.4 640.6a1.2 1.2 0 1 0 2.4 0a1.2 1.2 0 1 0 -2.4 0M226.5 611.0a1.0 1.0 0 1 0 1.9 0a1.0 1.0 0 1 0 -1.9 0M167.0 597.5a1.1 1.1 0 1 0 2.2 0a1.1 1.1 0 1 0 -2.2 0M180.2 578.5a0.5 0.5 0 1 0 1.1 0a0.5 0.5 0 1 0 -1.1 0M221.7 583.7a0.8 0.8 0 1 0 1.7 0a0.8 0.8 0 1 0 -1.7 0M228.6 593.6a0.8 0.8 0 1 0 1.6 0a0.8 0.8 0 1 0 -1.6 0M240.0 621.1a0.5 0.5 0 1 0 1.0 0a0.5 0.5 0 1 0 -1.0 0M241.7 591.3a0.4 0.4 0 1 0 0.9 0a0.4 0.4 0 1 0 -0.9 0M252.0 600.9a0.7 0.7 0 1 0 1.5 0a0.7 0.7 0 1 0 -1.5 0M200.6 601.2a1.0 1.0 0 1 0 2.0 0a1.0 1.0 0 1 0 -2.0 0M199.5 607.6a0.6 0.6 0 1 0 1.3 0a0.6 0.6 0 1 0 -1.3 0M190.9 634.1a1.0 1.0 0 1 0 2.1 0a1.0 1.0 0 1 0 -2.1 0M198.1 618.0a0.7 0.7 0 1 0 1.5 0a0.7 0.7 0 1 0 -1.5 0M223.8 626.3a0.8 0.8 0 1 0 1.6 0a0.8 0.8 0 1 0 -1.6 0M224.1 626.0a0.5 0.5 0 1 0 0.9 0a0.5 0.5 0 1 0 -0.9 0M229.4 581.6a0.8 0.8 0 1 0 1.7 0a0.8 0.8 0 1 0 -1.7 0M196.0 598.7a1.0 1.0 0 1 0 2.0 0a1.0 1.0 0 1 0 -2.0 0M152.8 614.3a0.6 0.6 0 1 0 1.1 0a0.6 0.6 0 1 0 -1.1 0M217.6 587.2a0.8 0.8 0 1 0 1.6 0a0.8 0.8 0 1 0 -1.6 0M231.9 623.6a1.0 1.0 0 1 0 1.9 0a1.0 1.0 0 1 0 -1.9 0M160.6 631.9a0.9 0.9 0 1 0 1.8 0a0.9 0.9 0 1 0 -1.8 0M228.0 591.7a0.5 0.5 0 1 0 1.0 0a0.5 0.5 0 1 0 -1.0 0M230.5 623.7a0.4 0.4 0 1 0 0.8 0a0.4 0.4 0 1 0 -0.8 0M237.0 640.6a1.1 1.1 0 1 0 2.2 0a1.1 1.1 0 1 0 -2.2 0M217.3 628.0a1.2 1.2 0 1 0 2.4 0a1.2 1.2 0 1 0 -2.4 0M209.5 636.6a0.4 0.4 0 1 0 0.8 0a0.4 0.4 0 1 0 -0.8 0M194.8 614.6a0.9 0.9 0 1 0 1.9 0a0.9 0.9 0 1 0 -1.9 0M205.1 617.3a1.0 1.0 0 1 0 1.9 0a1.0 1.0 0 1 0 -1.9 0M189.3 626.3a0.4 0.4 0 1 0 0.8 0a0.4 0.4 0 1 0 -0.8 0M225.5 619.5a0.5 0.5 0 1 0 1.0 0a0.5 0.5 0 1 0 -1.0 0M183.2 624.9a0.6 0.6 0 1 0 1.2 0a0.6 0.6 0 1 0 -1.2 0M173.9 580.4a0.6 0.6 0 1 0 1.2 0a0.6 0.6 0 1 0 -1.2 0M184.8 588.9a0.6 0.6 0 1 0 1.3 0a0.6 0.6 0 1 0 -1.3 0M211.0 621.1a0.7 0.7 0 1 0 1.3 0a0.7 0.7 0 1 0 -1.3 0M200.5 580.7a0.9 0.9 0 1 0 1.8 0a0.9 0.9 0 1 0 -1.8 0M184.2 590.5a0.4 0.4 0 1 0 0.8 0a0.4 0.4 0 1 0 -0.8 0M200.2 580.7a0.4 0.4 0 1 0 0.8 0a0.4 0.4 0 1 0 -0.8 0M204.8 615.2a0.8 0.8 0 1 0 1.7 0a0.8 0.8 0 1 0 -1.7 0M154.0 624.7a0.6 0.6 0 1 0 1.3 0a0.6 0.6 0 1 0 -1.3 0M245.3 584.1a0.9 0.9 0 1 0 1.8 0a0.9 0.9 0 1 0 -1.8 0M185.6 646.7a1.0 1.0 0 1 0 1.9 0a1.0 1.0 0 1 0 -1.9 0M226.0 642.3a0.5 0.5 0 1 0 1.1 0a0.5 0.5 0 1 0 -1.1 0M233.1 585.2a0.9 0.9 0 1 0 1.9 0a0.9 0.9 0 1 0 -1.9 0M175.9 616.7a0.8 0.8 0 1 0 1.7 0a0.8 0.8 0 1 0 -1.7 0M224.3 604.2a0.5 0.5 0 1 0 1.0 0a0.5 0.5 0 1 0 -1.0 0M213.7 623.6a0.5 0.5 0 1 0 1.0 0a0.5 0.5 0 1 0 -1.0 0M209.6 630.6a0.4 0.4 0 1 0 0.9 0a0.4 0.4 0 1 0 -0.9 0M234.0 604.9a0.9 0.9 0 1 0 1.8 0a0.9 0.9 0 1 0 -1.8 0M226.7 628.1a1.0 1.0 0 1 0 1.9 0a1.0 1.0 0 1 0 -1.9 0M181.2 618.0a0.4 0.4 0 1 0 0.7 0a0.4 0.4 0 1 0 -0.7 0M244.7 623.6a1.1 1.1 0 1 0 2.1 0a1.1 1.1 0 1 0 -2.1 0M172.1 583.2a0.4 0.4 0 1 0 0.9 0a0.4 0.4 0 1 0 -0.9 0M175.2 631.2a1.1 1.1 0 1 0 2.2 0a1.1 1.1 0 1 0 -2.2 0M210.5 583.5a0.7 0.7 0 1 0 1.5 0a0.7 0.7 0 1 0 -1.5 0M221.0 620.6a0.4 0.4 0 1 0 0.9 0a0.4 0.4 0 1 0 -0.9 0M242.9 624.9a0.8 0.8 0 1 0 1.6 0a0.8 0.8 0 1 0 -1.6 0M175.9 622.1a1.1 1.1 0 1 0 2.2 0a1.1 1.1 0 1 0 -2.2 0M170.3 575.1a0.7 0.7 0 1 0 1.3 0a0.7 0.7 0 1 0 -1.3 0M203.1 641.9a0.8 0.8 0 1 0 1.7 0a0.8 0.8 0 1 0 -1.7 0M166.8 607.4a0.4 0.4 0 1 0 0.7 0a0.4 0.4 0 1 0 -0.7 0M242.8 646.8a1.0 1.0 0 1 0 1.9 0a1.0 1.0 0 1 0 -1.9 0M170.2 639.1a0.7 0.7 0 1 0 1.3 0a0.7 0.7 0 1 0 -1.3 0M231.9 638.6a0.4 0.4 0 1 0 0.9 0a0.4 0.4 0 1 0 -0.9 0M156.5 643.7a1.1 1.1 0 1 0 2.3 0a1.1 1.1 0 1 0 -2.3 0M183.0 645.3a1.2 1.2 0 1 0 2.4 0a1.2 1.2 0 1 0 -2.4 0M247.2 597.8a0.5 0.5 0 1 0 1.0 0a0.5 0.5 0 1 0 -1.0 0M162.6 642.2a0.8 0.8 0 1 0 1.7 0a0.8 0.8 0 1 0 -1.7 0M221.2 578.0a0.6 0.6 0 1 0 1.2 0a0.6 0.6 0 1 0 -1.2 0M159.1 633.3a0.9 0.9 0 1 0 1.8 0a0.9 0.9 0 1 0 -1.8 0M204.5 639.2a0.7 0.7 0 1 0 1.4 0a0.7 0.7 0 1 0 -1.4 0M157.2 624.4a1.0 1.0 0 1 0 2.0 0a1.0 1.0 0 1 0 -2.0 0M240.5 614.4a1.0 1.0 0 1 0 2.0 0a1.0 1.0 0 1 0 -2.0 0M221.9 607.2a0.8 0.8 0 1 0 1.6 0a0.8 0.8 0 1 0 -1.6 0M173.7 628.7a0.8 0.8 0 1 0 1.7 0a0.8 0.8 0 1 0 -1.7 0M200.9 580.3a1.0 1.0 0 1 0 2.1 0a1.0 1.0 0 1 0 -2.1 0M167.8 633.1a0.9 0.9 0 1 0 1.7 0a0.9 0.9 0 1 0 -1.7 0M220.2 638.5a1.1 1.1 0 1 0 2.1 0a1.1 1.1 0 1 0 -2.1 0M208.6 592.6a0.6 0.6 0 1 0 1.1 0a0.6 0.6 0 1 0 -1.1 0M218.2 584.3a0.6 0.6 0 1 0 1.2 0a0.6 0.6 0 1 0 -1.2 0M166.7 576.1a0.8 0.8 0 1 0 1.7 0a0.8 0.8 0 1 0 -1.7 0M161.7 610.5a0.4 0.4 0 1 0 0.8 0a0.4 0.4 0 1 0 -0.8 0M187.6 622.7a1.2 1.2 0 1 0 2.4 0a1.2 1.2 0 1 0 -2.4 0M166.6 647.5a0.4 0.4 0 1 0 0.8 0a0.4 0.4 0 1 0 -0.8 0M198.4 599.9a0.9 0.9 0 1 0 1.8 0a0.9 0.9 0 1 0 -1.8 0M170.3 577.0a0.9 0.9 0 1 0 1.8 0a0.9 0.9 0 1 0 -1.8 0M224.1 626.3a1.1 1.1 0 1 0 2.2 0a1.1 1.1 0 1 0 -2.2 0M174.5 647.6a0.6 0.6 0 1 0 1.2 0a0.6 0.6 0 1 0 -1.2 0M191.7 641.4a1.0 1.0 0 1 0 1.9 0a1.0 1.0 0 1 0 -1.9 0M151.9 607.9a1.1 1.1 0 1 0 2.2 0a1.1 1.1 0 1 0 -2.2 0M247.7 601.9a1.1 1.1 0 1 0 2.2 0a1.1 1.1 0 1 0 -2.2 0M172.4 590.6a0.4 0.4 0 1 0 0.9 0a0.4 0.4 0 1 0 -0.9 0M215.6 583.8a0.8 0.8 0 1 0 1.5 0a0.8 0.8 0 1 0 -1.5 0M193.7 582.3a0.8 0.8 0 1 0 1.7 0a0.8 0.8 0 1 0 -1.7 0M232.6 601.7a0.9 0.9 0 1 0 1.9 0a0.9 0.9 0 1 0 -1.9 0M237.7 633.2a0.9 0.9 0 1 0 1.8 0a0.9 0.9 0 1 0 -1.8 0M228.9 646.0a1.1 1.1 0 1 0 2.2 0a1.1 1.1 0 1 0 -2.2 0M151.9 609.8a0.6 0.6 0 1 0 1.2 0a0.6 0.6 0 1 0 -1.2 0" fill="#dc3a34" opacity="0.8"/>
<path d="M173.3 580.1a1.0 1.0 0 1 0 1.9 0a1.0 1.0 0 1 0 -1.9 0M211.0 607.8a1.1 1.1 0 1 0 2.3 0a1.1 1.1 0 1 0 -2.3 0M202.2 632.4a0.7 0.7 0 1 0 1.3 0a0.7 0.7 0 1 0 -1.3 0M235.0 599.9a0.9 0.9 0 1 0 1.7 0a0.9 0.9 0 1 0 -1.7 0M154.6 601.2a0.6 0.6 0 1 0 1.1 0a0.6 0.6 0 1 0 -1.1 0M195.9 586.9a0.6 0.6 0 1 0 1.3 0a0.6 0.6 0 1 0 -1.3 0M168.7 614.7a0.8 0.8 0 1 0 1.5 0a0.8 0.8 0 1 0 -1.5 0M182.0 597.8a0.7 0.7 0 1 0 1.5 0a0.7 0.7 0 1 0 -1.5 0M235.6 625.2a0.8 0.8 0 1 0 1.6 0a0.8 0.8 0 1 0 -1.6 0M162.7 591.6a1.2 1.2 0 1 0 2.4 0a1.2 1.2 0 1 0 -2.4 0M227.9 603.8a0.6 0.6 0 1 0 1.2 0a0.6 0.6 0 1 0 -1.2 0M218.8 614.1a0.4 0.4 0 1 0 0.7 0a0.4 0.4 0 1 0 -0.7 0M183.1 599.6a1.0 1.0 0 1 0 2.0 0a1.0 1.0 0 1 0 -2.0 0M166.0 582.4a0.9 0.9 0 1 0 1.8 0a0.9 0.9 0 1 0 -1.8 0M219.3 621.5a0.8 0.8 0 1 0 1.6 0a0.8 0.8 0 1 0 -1.6 0M204.1 590.3a0.8 0.8 0 1 0 1.6 0a0.8 0.8 0 1 0 -1.6 0M178.1 605.4a0.6 0.6 0 1 0 1.2 0a0.6 0.6 0 1 0 -1.2 0M214.9 645.0a1.2 1.2 0 1 0 2.4 0a1.2 1.2 0 1 0 -2.4 0M236.9 602.0a0.5 0.5 0 1 0 1.0 0a0.5 0.5 0 1 0 -1.0 0M181.6 575.0a1.2 1.2 0 1 0 2.4 0a1.2 1.2 0 1 0 -2.4 0M172.2 583.1a0.8 0.8 0 1 0 1.6 0a0.8 0.8 0 1 0 -1.6 0M204.4 647.4a0.6 0.6 0 1 0 1.3 0a0.6 0.6 0 1 0 -1.3 0M227.9 585.0a1.0 1.0 0 1 0 1.9 0a1.0 1.0 0 1 0 -1.9 0M236.2 598.7a0.5 0.5 0 1 0 1.0 0a0.5 0.5 0 1 0 -1.0 0M158.3 591.6a0.5 0.5 0 1 0 1.0 0a0.5 0.5 0 1 0 -1.0 0M192.8 649.0a0.6 0.6 0 1 0 1.3 0a0.6 0.6 0 1 0 -1.3 0M206.8 584.3a1.1 1.1 0 1 0 2.2 0a1.1 1.1 0 1 0 -2.2 0M226.2 614.7a1.2 1.2 0 1 0 2.4 0a1.2 1.2 0 1 0 -2.4 0M174.2 590.5a0.6 0.6 0 1 0 1.2 0a0.6 0.6 0 1 0 -1.2 0M162.9 585.2a0.6 0.6 0 1 0 1.1 0a0.6 0.6 0 1 0 -1.1 0M216.2 589.2a0.4 0.4 0 1 0 0.7 0a0.4 0.4 0 1 0 -0.7 0M163.6 605.2a0.5 0.5 0 1 0 1.0 0a0.5 0.5 0 1 0 -1.0 0M181.1 593.2a0.5 0.5 0 1 0 1.1 0a0.5 0.5 0 1 0 -1.1 0M210.0 619.2a0.6 0.6 0 1 0 1.3 0a0.6 0.6 0 1 0 -1.3 0M200.9 623.4a1.0 1.0 0 1 0 1.9 0a1.0 1.0 0 1 0 -1.9 0M200.6 621.5a0.8 0.8 0 1 0 1.7 0a0.8 0.8 0 1 0 -1.7 0M220.8 623.1a1.0 1.0 0 1 0 2.1 0a1.0 1.0 0 1 0 -2.1 0M233.2 580.8a0.7 0.7 0 1 0 1.4 0a0.7 0.7 0 1 0 -1.4 0M221.6 633.4a0.6 0.6 0 1 0 1.2 0a0.6 0.6 0 1 0 -1.2 0M179.5 575.5a0.9 0.9 0 1 0 1.8 0a0.9 0.9 0 1 0 -1.8 0M165.9 615.6a1.0 1.0 0 1 0 1.9 0a1.0 1.0 0 1 0 -1.9 0M195.9 631.3a1.0 1.0 0 1 0 2.1 0a1.0 1.0 0 1 0 -2.1 0M219.1 633.9a0.8 0.8 0 1 0 1.5 0a0.8 0.8 0 1 0 -1.5 0M190.3 600.2a1.0 1.0 0 1 0 1.9 0a1.0 1.0 0 1 0 -1.9 0M240.3 628.3a0.5 0.5 0 1 0 1.0 0a0.5 0.5 0 1 0 -1.0 0M199.2 578.3a0.6 0.6 0 1 0 1.3 0a0.6 0.6 0 1 0 -1.3 0M235.4 579.7a0.9 0.9 0 1 0 1.8 0a0.9 0.9 0 1 0 -1.8 0M163.5 621.0a0.5 0.5 0 1 0 1.0 0a0.5 0.5 0 1 0 -1.0 0M243.5 646.1a0.7 0.7 0 1 0 1.5 0a0.7 0.7 0 1 0 -1.5 0M171.3 595.2a0.4 0.4 0 1 0 0.8 0a0.4 0.4 0 1 0 -0.8 0M237.8 590.1a1.0 1.0 0 1 0 2.0 0a1.0 1.0 0 1 0 -2.0 0M232.9 588.4a0.8 0.8 0 1 0 1.7 0a0.8 0.8 0 1 0 -1.7 0M239.8 631.8a0.5 0.5 0 1 0 1.1 0a0.5 0.5 0 1 0 -1.1 0M208.8 629.3a1.0 1.0 0 1 0 2.1 0a1.0 1.0 0 1 0 -2.1 0M241.7 602.1a1.0 1.0 0 1 0 1.9 0a1.0 1.0 0 1 0 -1.9 0M201.3 589.1a0.9 0.9 0 1 0 1.7 0a0.9 0.9 0 1 0 -1.7 0M222.1 645.8a1.0 1.0 0 1 0 1.9 0a1.0 1.0 0 1 0 -1.9 0M200.0 595.6a1.0 1.0 0 1 0 2.1 0a1.0 1.0 0 1 0 -2.1 0M160.2 648.7a0.6 0.6 0 1 0 1.3 0a0.6 0.6 0 1 0 -1.3 0M230.6 604.2a1.1 1.1 0 1 0 2.3 0a1.1 1.1 0 1 0 -2.3 0M230.1 613.2a0.6 0.6 0 1 0 1.1 0a0.6 0.6 0 1 0 -1.1 0M203.7 625.5a0.6 0.6 0 1 0 1.2 0a0.6 0.6 0 1 0 -1.2 0M170.8 585.5a0.5 0.5 0 1 0 1.0 0a0.5 0.5 0 1 0 -1.0 0M224.5 649.6a0.8 0.8 0 1 0 1.5 0a0.8 0.8 0 1 0 -1.5 0M230.8 580.4a0.9 0.9 0 1 0 1.8 0a0.9 0.9 0 1 0 -1.8 0M174.4 619.9a1.2 1.2 0 1 0 2.4 0a1.2 1.2 0 1 0 -2.4 0M217.2 612.5a0.4 0.4 0 1 0 0.8 0a0.4 0.4 0 1 0 -0.8 0M225.9 621.3a0.9 0.9 0 1 0 1.7 0a0.9 0.9 0 1 0 -1.7 0M207.4 594.9a0.4 0.4 0 1 0 0.7 0a0.4 0.4 0 1 0 -0.7 0M240.8 588.5a0.6 0.6 0 1 0 1.3 0a0.6 0.6 0 1 0 -1.3 0M190.6 623.2a0.8 0.8 0 1 0 1.5 0a0.8 0.8 0 1 0 -1.5 0M242.7 602.3a0.5 0.5 0 1 0 1.1 0a0.5 0.5 0 1 0 -1.1 0M245.6 620.8a0.9 0.9 0 1 0 1.7 0a0.9 0.9 0 1 0 -1.7 0M235.1 624.0a1.2 1.2 0 1 0 2.3 0a1.2 1.2 0 1 0 -2.3 0M251.0 632.8a1.1 1.1 0 1 0 2.3 0a1.1 1.1 0 1 0 -2.3 0M152.6 649.6a0.7 0.7 0 1 0 1.5 0a0.7 0.7 0 1 0 -1.5 0M185.5 620.2a0.8 0.8 0 1 0 1.6 0a0.8 0.8 0 1 0 -1.6 0M152.5 627.6a0.4 0.4 0 1 0 0.7 0a0.4 0.4 0 1 0 -0.7 0M172.2 647.6a0.4 0.4 0 1 0 0.7 0a0.4 0.4 0 1 0 -0.7 0M192.0 587.1a0.7 0.7 0 1 0 1.4 0a0.7 0.7 0 1 0 -1.4 0M211.3 585.6a0.8 0.8 0 1 0 1.6 0a0.8 0.8 0 1 0 -1.6 0M165.0 630.3a0.5 0.5 0 1 0 1.1 0a0.5 0.5 0 1 0 -1.1 0M200.8 621.1a1.1 1.1 0 1 0 2.2 0a1.1 1.1 0 1 0 -2.2 0M171.3 603.0a0.8 0.8 0 1 0 1.7 0a0.8 0.8 0 1 0 -1.7 0M228.8 621.3a0.5 0.5 0 1 0 1.0 0a0.5 0.5 0 1 0 -1.0 0M213.2 591.4a1.0 1.0 0 1 0 2.0 0a1.0 1.0 0 1 0 -2.0 0M169.0 649.8a0.6 0.6 0 1 0 1.2 0a0.6 0.6 0 1 0 -1.2 0M196.7 603.9a0.8 0.8 0 1 0 1.7 0a0.8 0.8 0 1 0 -1.7 0M196.7 616.7a0.4 0.4 0 1 0 0.8 0a0.4 0.4 0 1 0 -0.8 0M191.0 595.1a0.6 0.6 0 1 0 1.2 0a0.6 0.6 0 1 0 -1.2 0M234.2 614.2a0.7 0.7 0 1 0 1.3 0a0.7 0.7 0 1 0 -1.3 0M171.3 617.6a1.1 1.1 0 1 0 2.2 0a1.1 1.1 0 1 0 -2.2 0M242.1 604.1a0.8 0.8 0 1 0 1.6 0a0.8 0.8 0 1 0 -1.6 0M201.8 650.2a0.8 0.8 0 1 0 1.7 0a0.8 0.8 0 1 0 -1.7 0M230.3 596.2a0.9 0.9 0 1 0 1.9 0a0.9 0.9 0 1 0 -1.9 0M178.3 593.5a1.1 1.1 0 1 0 2.2 0a1.1 1.1 0 1 0 -2.2 0M224.1 647.9a0.4 0.4 0 1 0 0.8 0a0.4 0.4 0 1 0 -0.8 0M213.1 597.2a0.4 0.4 0 1 0 0.8 0a0.4 0.4 0 1 0 -0.8 0M176.0 592.9a0.9 0.9 0 1 0 1.8 0a0.9 0.9 0 1 0 -1.8 0M174.7 619.8a0.6 0.6 0 1 0 1.3 0a0.6 0.6 0 1 0 -1.3 0M194.9 580.9a0.8 0.8 0 1 0 1.6 0a0.8 0.8 0 1 0 -1.6 0M164.8 626.3a0.7 0.7 0 1 0 1.4 0a0.7 0.7 0 1 0 -1.4 0M175.7 581.0a0.7 0.7 0 1 0 1.4 0a0.7 0.7 0 1 0 -1.4 0M229.4 620.8a0.5 0.5 0 1 0 1.0 0a0.5 0.5 0 1 0 -1.0 0M236.7 602.2a0.7 0.7 0 1 0 1.4 0a0.7 0.7 0 1 0 -1.4 0M168.6 579.3a0.6 0.6 0 1 0 1.2 0a0.6 0.6 0 1 0 -1.2 0M252.2 647.2a1.1 1.1 0 1 0 2.1 0a1.1 1.1 0 1 0 -2.1 0M181.3 583.7a1.1 1.1 0 1 0 2.2 0a1.1 1.1 0 1 0 -2.2 0M225.4 621.3a0.7 0.7 0 1 0 1.5 0a0.7 0.7 0 1 0 -1.5 0M214.4 635.6a0.6 0.6 0 1 0 1.2 0a0.6 0.6 0 1 0 -1.2 0M228.1 616.8a0.8 0.8 0 1 0 1.7 0a0.8 0.8 0 1 0 -1.7 0M223.1 616.0a1.0 1.0 0 1 0 2.0 0a1.0 1.0 0 1 0 -2.0 0M180.3 623.5a1.1 1.1 0 1 0 2.1 0a1.1 1.1 0 1 0 -2.1 0M156.6 646.7a0.5 0.5 0 1 0 1.0 0a0.5 0.5 0 1 0 -1.0 0M163.8 624.9a0.4 0.4 0 1 0 0.8 0a0.4 0.4 0 1 0 -0.8 0M238.0 587.7a1.2 1.2 0 1 0 2.4 0a1.2 1.2 0 1 0 -2.4 0M181.2 585.9a0.6 0.6 0 1 0 1.1 0a0.6 0.6 0 1 0 -1.1 0M247.9 583.7a0.9 0.9 0 1 0 1.8 0a0.9 0.9 0 1 0 -1.8 0M207.8 645.7a0.8 0.8 0 1 0 1.5 0a0.8 0.8 0 1 0 -1.5 0M226.5 616.1a0.6 0.6 0 1 0 1.3 0a0.6 0.6 0 1 0 -1.3 0M160.5 576.9a0.5 0.5 0 1 0 0.9 0a0.5 0.5 0 1 0 -0.9 0M246.4 643.0a1.0 1.0 0 1 0 2.0 0a1.0 1.0 0 1 0 -2.0 0M215.0 608.8a0.6 0.6 0 1 0 1.1 0a0.6 0.6 0 1 0 -1.1 0M193.0 602.8a0.7 0.7 0 1 0 1.5 0a0.7 0.7 0 1 0 -1.5 0M191.2 581.6a0.6 0.6 0 1 0 1.2 0a0.6 0.6 0 1 0 -1.2 0M229.8 614.7a0.9 0.9 0 1 0 1.8 0a0.9 0.9 0 1 0 -1.8 0M206.4 594.6a0.4 0.4 0 1 0 0.8 0a0.4 0.4 0 1 0 -0.8 0M184.1 611.4a1.0 1.0 0 1 0 1.9 0a1.0 1.0 0 1 0 -1.9 0M245.9 614.5a1.1 1.1 0 1 0 2.3 0a1.1 1.1 0 1 0 -2.3 0M221.2 607.9a1.1 1.1 0 1 0 2.2 0a1.1 1.1 0 1 0 -2.2 0M207.2 622.4a1.1 1.1 0 1 0 2.1 0a1.1 1.1 0 1 0 -2.1 0M198.0 640.4a0.4 0.4 0 1 0 0.9 0a0.4 0.4 0 1 0 -0.9 0M157.2 616.4a0.6 0.6 0 1 0 1.1 0a0.6 0.6 0 1 0 -1.1 0M227.6 596.8a0.8 0.8 0 1 0 1.6 0a0.8 0.8 0 1 0 -1.6 0M177.4 604.9a1.1 1.1 0 1 0 2.2 0a1.1 1.1 0 1 0 -2.2 0M236.5 614.9a0.5 0.5 0 1 0 1.0 0a0.5 0.5 0 1 0 -1.0 0M198.2 609.6a1.1 1.1 0 1 0 2.2 0a1.1 1.1 0 1 0 -2.2 0M247.0 598.0a1.1 1.1 0 1 0 2.2 0a1.1 1.1 0 1 0 -2.2 0M181.5 628.2a0.9 0.9 0 1 0 1.7 0a0.9 0.9 0 1 0 -1.7 0M245.4 612.6a0.4 0.4 0 1 0 0.8 0a0.4 0.4 0 1 0 -0.8 0M250.5 621.0a1.1 1.1 0 1 0 2.3 0a1.1 1.1 0 1 0 -2.3 0M219.5 600.5a0.4 0.4 0 1 0 0.8 0a0.4 0.4 0 1 0 -0.8 0M226.2 593.1a0.5 0.5 0 1 0 0.9 0a0.5 0.5 0 1 0 -0.9 0M180.3 649.7a0.9 0.9 0 1 0 1.7 0a0.9 0.9 0 1 0 -1.7 0M236.4 647.6a1.0 1.0 0 1 0 2.0 0a1.0 1.0 0 1 0 -2.0 0M188.7 596.0a0.6 0.6 0 1 0 1.1 0a0.6 0.6 0 1 0 -1.1 0M252.3 636.6a0.7 0.7 0 1 0 1.4 0a0.7 0.7 0 1 0 -1.4 0M250.1 591.7a0.7 0.7 0 1 0 1.3 0a0.7 0.7 0 1 0 -1.3 0M190.8 630.1a0.6 0.6 0 1 0 1.3 0a0.6 0.6 0 1 0 -1.3 0M249.4 619.2a1.1 1.1 0 1 0 2.1 0a1.1 1.1 0 1 0 -2.1 0M202.1 627.3a1.1 1.1 0 1 0 2.1 0a1.1 1.1 0 1 0 -2.1 0M250.0 638.8a0.8 0.8 0 1 0 1.7 0a0.8 0.8 0 1 0 -1.7 0M198.4 640.7a0.4 0.4 0 1 0 0.8 0a0.4 0.4 0 1 0 -0.8 0M192.8 583.0a1.0 1.0 0 1 0 2.0 0a1.0 1.0 0 1 0 -2.0 0M249.3 622.2a0.7 0.7 0 1 0 1.4 0a0.7 0.7 0 1 0 -1.4 0M242.4 588.3a0.6 0.6 0 1 0 1.2 0a0.6 0.6 0 1 0 -1.2 0M212.8 637.1a0.5 0.5 0 1 0 0.9 0a0.5 0.5 0 1 0 -0.9 0M180.2 619.4a1.1 1.1 0 1 0 2.2 0a1.1 1.1 0 1 0 -2.2 0M167.2 602.0a1.0 1.0 0 1 0 2.1 0a1.0 1.0 0 1 0 -2.1 0M231.7 577.5a0.9 0.9 0 1 0 1.8 0a0.9 0.9 0 1 0 -1.8 0M219.8 614.8a1.2 1.2 0 1 0 2.3 0a1.2 1.2 0 1 0 -2.3 0M192.0 577.0a1.0 1.0 0 1 0 2.0 0a1.0 1.0 0 1 0 -2.0 0M237.9 590.7a0.9 0.9 0 1 0 1.8 0a0.9 0.9 0 1 0 -1.8 0M184.9 613.9a0.9 0.9 0 1 0 1.7 0a0.9 0.9 0 1 0 -1.7 0M206.7 641.2a0.7 0.7 0 1 0 1.5 0a0.7 0.7 0 1 0 -1.5 0M218.5 586.0a0.4 0.4 0 1 0 0.8 0a0.4 0.4 0 1 0 -0.8 0M164.6 644.4a0.8 0.8 0 1 0 1.5 0a0.8 0.8 0 1 0 -1.5 0M192.1 602.8a0.5 0.5 0 1 0 1.1 0a0.5 0.5 0 1 0 -1.1 0M225.5 590.8a0.6 0.6 0 1 0 1.2 0a0.6 0.6 0 1 0 -1.2 0M178.5 644.6a1.0 1.0 0 1 0 2.0 0a1.0 1.0 0 1 0 -2.0 0M201.8 600.8a0.9 0.9 0 1 0 1.8 0a0.9 0.9 0 1 0 -1.8 0M202.1 635.7a0.8 0.8 0 1 0 1.7 0a0.8 0.8 0 1 0 -1.7 0M206.0 624.5a1.0 1.0 0 1 0 2.0 0a1.0 1.0 0 1 0 -2.0 0M234.3 590.4a0.8 0.8 0 1 0 1.5 0a0.8 0.8 0 1 0 -1.5 0M151.8 618.6a1.1 1.1 0 1 0 2.2 0a1.1 1.1 0 1 0 -2.2 0M212.6 574.7a0.6 0.6 0 1 0 1.1 0a0.6 0.6 0 1 0 -1.1 0M160.5 635.9a0.9 0.9 0 1 0 1.8 0a0.9 0.9 0 1 0 -1.8 0M199.9 623.5a0.4 0.4 0 1 0 0.7 0a0.4 0.4 0 1 0 -0.7 0M197.9 639.8a0.7 0.7 0 1 0 1.4 0a0.7 0.7 0 1 0 -1.4 0M166.4 581.3a0.6 0.6 0 1 0 1.3 0a0.6 0.6 0 1 0 -1.3 0M159.0 624.3a1.1 1.1 0 1 0 2.1 0a1.1 1.1 0 1 0 -2.1 0M231.2 618.6a1.0 1.0 0 1 0 2.0 0a1.0 1.0 0 1 0 -2.0 0M252.0 583.7a0.4 0.4 0 1 0 0.9 0a0.4 0.4 0 1 0 -0.9 0M218.8 607.1a0.9 0.9 0 1 0 1.8 0a0.9 0.9 0 1 0 -1.8 0" fill="#e25448" opacity="0.8"/>
<path d="M248.7 632.0a1.1 1.1 0 1 0 2.2 0a1.1 1.1 0 1 0 -2.2 0M184.8 615.0a0.7 0.7 0 1 0 1.4 0a0.7 0.7 0 1 0 -1.4 0M153.3 635.4a0.6 0.6 0 1 0 1.3 0a0.6 0.6 0 1 0 -1.3 0M172.4 629.5a0.6 0.6 0 1 0 1.2 0a0.6 0.6 0 1 0 -1.2 0M220.3 646.8a0.6 0.6 0 1 0 1.1 0a0.6 0.6 0 1 0 -1.1 0M234.9 590.3a0.7 0.7 0 1 0 1.4 0a0.7 0.7 0 1 0 -1.4 0M239.9 631.0a0.8 0.8 0 1 0 1.6 0a0.8 0.8 0 1 0 -1.6 0M249.0 621.2a0.7 0.7 0 1 0 1.5 0a0.7 0.7 0 1 0 -1.5 0M242.3 613.9a0.8 0.8 0 1 0 1.6 0a0.8 0.8 0 1 0 -1.6 0M191.9 642.5a1.1 1.1 0 1 0 2.2 0a1.1 1.1 0 1 0 -2.2 0M241.3 616.0a0.5 0.5 0 1 0 1.0 0a0.5 0.5 0 1 0 -1.0 0M210.7 575.5a0.7 0.7 0 1 0 1.4 0a0.7 0.7 0 1 0 -1.4 0M153.5 614.6a0.7 0.7 0 1 0 1.5 0a0.7 0.7 0 1 0 -1.5 0M157.9 634.0a0.5 0.5 0 1 0 1.1 0a0.5 0.5 0 1 0 -1.1 0M243.7 598.1a1.0 1.0 0 1 0 2.1 0a1.0 1.0 0 1 0 -2.1 0M247.3 581.1a0.6 0.6 0 1 0 1.2 0a0.6 0.6 0 1 0 -1.2 0M236.8 605.8a0.7 0.7 0 1 0 1.5 0a0.7 0.7 0 1 0 -1.5 0M158.2 607.9a1.2 1.2 0 1 0 2.4 0a1.2 1.2 0 1 0 -2.4 0M194.2 614.3a0.9 0.9 0 1 0 1.7 0a0.9 0.9 0 1 0 -1.7 0M212.0 604.1a0.9 0.9 0 1 0 1.9 0a0.9 0.9 0 1 0 -1.9 0M211.2 585.6a1.2 1.2 0 1 0 2.4 0a1.2 1.2 0 1 0 -2.4 0M237.2 576.1a1.0 1.0 0 1 0 2.0 0a1.0 1.0 0 1 0 -2.0 0M214.4 638.7a0.5 0.5 0 1 0 1.0 0a0.5 0.5 0 1 0 -1.0 0M229.1 605.5a0.5 0.5 0 1 0 1.1 0a0.5 0.5 0 1 0 -1.1 0M203.1 622.3a0.7 0.7 0 1 0 1.3 0a0.7 0.7 0 1 0 -1.3 0M246.9 632.0a0.7 0.7 0 1 0 1.4 0a0.7 0.7 0 1 0 -1.4 0M161.5 579.4a0.4 0.4 0 1 0 0.8 0a0.4 0.4 0 1 0 -0.8 0M216.2 628.3a1.1 1.1 0 1 0 2.2 0a1.1 1.1 0 1 0 -2.2 0M236.8 629.1a0.8 0.8 0 1 0 1.6 0a0.8 0.8 0 1 0 -1.6 0M249.9 582.8a0.8 0.8 0 1 0 1.6 0a0.8 0.8 0 1 0 -1.6 0M162.4 579.7a0.5 0.5 0 1 0 1.0 0a0.5 0.5 0 1 0 -1.0 0M252.8 577.8a0.5 0.5 0 1 0 0.9 0a0.5 0.5 0 1 0 -0.9 0M160.9 596.1a1.0 1.0 0 1 0 1.9 0a1.0 1.0 0 1 0 -1.9 0M227.1 618.3a0.5 0.5 0 1 0 0.9 0a0.5 0.5 0 1 0 -0.9 0M238.8 648.3a1.0 1.0 0 1 0 2.0 0a1.0 1.0 0 1 0 -2.0 0M221.1 615.3a1.0 1.0 0 1 0 2.1 0a1.0 1.0 0 1 0 -2.1 0M180.4 579.8a0.7 0.7 0 1 0 1.4 0a0.7 0.7 0 1 0 -1.4 0M162.3 579.2a0.4 0.4 0 1 0 0.9 0a0.4 0.4 0 1 0 -0.9 0M226.1 639.7a0.5 0.5 0 1 0 1.0 0a0.5 0.5 0 1 0 -1.0 0M202.7 650.1a1.1 1.1 0 1 0 2.3 0a1.1 1.1 0 1 0 -2.3 0M210.1 578.1a0.7 0.7 0 1 0 1.3 0a0.7 0.7 0 1 0 -1.3 0M184.5 596.0a0.8 0.8 0 1 0 1.6 0a0.8 0.8 0 1 0 -1.6 0M189.6 614.5a1.0 1.0 0 1 0 2.0 0a1.0 1.0 0 1 0 -2.0 0M157.9 599.4a0.9 0.9 0 1 0 1.8 0a0.9 0.9 0 1 0 -1.8 0M175.1 606.4a0.6 0.6 0 1 0 1.2 0a0.6 0.6 0 1 0 -1.2 0M237.3 636.0a1.2 1.2 0 1 0 2.3 0a1.2 1.2 0 1 0 -2.3 0M155.3 617.8a0.4 0.4 0 1 0 0.8 0a0.4 0.4 0 1 0 -0.8 0M227.9 591.8a0.4 0.4 0 1 0 0.8 0a0.4 0.4 0 1 0 -0.8 0M227.0 611.0a0.5 0.5 0 1 0 1.1 0a0.5 0.5 0 1 0 -1.1 0M181.9 601.9a0.6 0.6 0 1 0 1.3 0a0.6 0.6 0 1 0 -1.3 0M186.7 634.4a1.2 1.2 0 1 0 2.3 0a1.2 1.2 0 1 0 -2.3 0M190.3 578.4a0.8 0.8 0 1 0 1.6 0a0.8 0.8 0 1 0 -1.6 0M207.3 644.3a1.0 1.0 0 1 0 2.0 0a1.0 1.0 0 1 0 -2.0 0M195.3 638.8a0.8 0.8 0 1 0 1.5 0a0.8 0.8 0 1 0 -1.5 0M205.6 594.3a0.7 0.7 0 1 0 1.3 0a0.7 0.7 0 1 0 -1.3 0M192.0 648.5a0.8 0.8 0 1 0 1.7 0a0.8 0.8 0 1 0 -1.7 0M209.5 626.5a0.5 0.5 0 1 0 0.9 0a0.5 0.5 0 1 0 -0.9 0M244.4 576.3a0.4 0.4 0 1 0 0.8 0a0.4 0.4 0 1 0 -0.8 0M192.6 637.3a0.6 0.6 0 1 0 1.2 0a0.6 0.6 0 1 0 -1.2 0M155.6 625.4a0.8 0.8 0 1 0 1.6 0a0.8 0.8 0 1 0 -1.6 0M153.1 637.4a1.0 1.0 0 1 0 2.0 0a1.0 1.0 0 1 0 -2.0 0M198.1 612.8a1.0 1.0 0 1 0 1.9 0a1.0 1.0 0 1 0 -1.9 0M166.4 626.2a0.9 0.9 0 1 0 1.8 0a0.9 0.9 0 1 0 -1.8 0M221.5 583.5a0.6 0.6 0 1 0 1.2 0a0.6 0.6 0 1 0 -1.2 0M252.5 587.7a0.5 0.5 0 1 0 1.0 0a0.5 0.5 0 1 0 -1.0 0M247.8 621.3a0.4 0.4 0 1 0 0.8 0a0.4 0.4 0 1 0 -0.8 0M201.1 596.1a1.0 1.0 0 1 0 2.0 0a1.0 1.0 0 1 0 -2.0 0M229.6 639.2a0.6 0.6 0 1 0 1.1 0a0.6 0.6 0 1 0 -1.1 0M169.0 639.0a0.9 0.9 0 1 0 1.8 0a0.9 0.9 0 1 0 -1.8 0M174.8 601.2a1.1 1.1 0 1 0 2.2 0a1.1 1.1 0 1 0 -2.2 0M160.5 598.5a0.4 0.4 0 1 0 0.8 0a0.4 0.4 0 1 0 -0.8 0M250.8 633.5a0.9 0.9 0 1 0 1.8 0a0.9 0.9 0 1 0 -1.8 0M249.3 631.4a0.4 0.4 0 1 0 0.7 0a0.4 0.4 0 1 0 -0.7 0M237.7 616.2a0.8 0.8 0 1 0 1.5 0a0.8 0.8 0 1 0 -1.5 0M211.0 603.9a0.8 0.8 0 1 0 1.5 0a0.8 0.8 0 1 0 -1.5 0M158.5 635.3a1.2 1.2 0 1 0 2.4 0a1.2 1.2 0 1 0 -2.4 0M228.4 647.3a1.1 1.1 0 1 0 2.1 0a1.1 1.1 0 1 0 -2.1 0M179.4 645.3a1.1 1.1 0 1 0 2.1 0a1.1 1.1 0 1 0 -2.1 0M190.8 596.2a0.7 0.7 0 1 0 1.4 0a0.7 0.7 0 1 0 -1.4 0M198.5 637.9a0.7 0.7 0 1 0 1.5 0a0.7 0.7 0 1 0 -1.5 0M162.8 611.4a1.0 1.0 0 1 0 2.0 0a1.0 1.0 0 1 0 -2.0 0M158.8 581.3a0.9 0.9 0 1 0 1.8 0a0.9 0.9 0 1 0 -1.8 0M180.0 611.7a0.9 0.9 0 1 0 1.9 0a0.9 0.9 0 1 0 -1.9 0M251.0 633.3a1.1 1.1 0 1 0 2.1 0a1.1 1.1 0 1 0 -2.1 0M191.2 622.6a0.4 0.4 0 1 0 0.9 0a0.4 0.4 0 1 0 -0.9 0M248.0 626.6a0.8 0.8 0 1 0 1.6 0a0.8 0.8 0 1 0 -1.6 0M182.2 602.4a1.0 1.0 0 1 0 2.0 0a1.0 1.0 0 1 0 -2.0 0M193.8 578.4a0.4 0.4 0 1 0 0.8 0a0.4 0.4 0 1 0 -0.8 0M241.5 618.3a0.6 0.6 0 1 0 1.2 0a0.6 0.6 0 1 0 -1.2 0M186.8 617.7a0.5 0.5 0 1 0 0.9 0a0.5 0.5 0 1 0 -0.9 0M211.3 610.4a0.7 0.7 0 1 0 1.3 0a0.7 0.7 0 1 0 -1.3 0M172.0 649.5a0.4 0.4 0 1 0 0.7 0a0.4 0.4 0 1 0 -0.7 0M219.7 637.0a0.6 0.6 0 1 0 1.3 0a0.6 0.6 0 1 0 -1.3 0M204.3 632.4a0.5 0.5 0 1 0 1.1 0a0.5 0.5 0 1 0 -1.1 0M190.1 613.8a0.6 0.6 0 1 0 1.3 0a0.6 0.6 0 1 0 -1.3 0M159.7 596.2a0.5 0.5 0 1 0 1.0 0a0.5 0.5 0 1 0 -1.0 0M221.7 593.4a1.0 1.0 0 1 0 2.0 0a1.0 1.0 0 1 0 -2.0 0M172.3 645.8a0.4 0.4 0 1 0 0.9 0a0.4 0.4 0 1 0 -0.9 0M170.3 596.4a0.6 0.6 0 1 0 1.2 0a0.6 0.6 0 1 0 -1.2 0M158.2 582.3a1.1 1.1 0 1 0 2.2 0a1.1 1.1 0 1 0 -2.2 0M232.2 629.6a1.1 1.1 0 1 0 2.2 0a1.1 1.1 0 1 0 -2.2 0M193.0 595.5a0.6 0.6 0 1 0 1.1 0a0.6 0.6 0 1 0 -1.1 0M199.6 624.7a1.1 1.1 0 1 0 2.2 0a1.1 1.1 0 1 0 -2.2 0M214.1 637.5a0.6 0.6 0 1 0 1.3 0a0.6 0.6 0 1 0 -1.3 0M158.1 629.9a1.0 1.0 0 1 0 2.1 0a1.0 1.0 0 1 0 -2.1 0M218.5 604.2a0.9 0.9 0 1 0 1.9 0a0.9 0.9 0 1 0 -1.9 0M233.7 643.0a0.4 0.4 0 1 0 0.7 0a0.4 0.4 0 1 0 -0.7 0M234.7 613.2a0.4 0.4 0 1 0 0.9 0a0.4 0.4 0 1 0 -0.9 0M221.4 618.7a0.5 0.5 0 1 0 0.9 0a0.5 0.5 0 1 0 -0.9 0M228.1 599.7a1.0 1.0 0 1 0 2.1 0a1.0 1.0 0 1 0 -2.1 0M248.1 591.0a0.4 0.4 0 1 0 0.8 0a0.4 0.4 0 1 0 -0.8 0M218.3 618.4a0.4 0.4 0 1 0 0.7 0a0.4 0.4 0 1 0 -0.7 0M202.9 619.0a1.2 1.2 0 1 0 2.3 0a1.2 1.2 0 1 0 -2.3 0M167.1 629.3a0.6 0.6 0 1 0 1.3 0a0.6 0.6 0 1 0 -1.3 0M172.0 601.1a0.8 0.8 0 1 0 1.5 0a0.8 0.8 0 1 0 -1.5 0M164.7 640.6a0.8 0.8 0 1 0 1.6 0a0.8 0.8 0 1 0 -1.6 0M209.2 592.4a1.1 1.1 0 1 0 2.2 0a1.1 1.1 0 1 0 -2.2 0M248.0 636.0a0.7 0.7 0 1 0 1.3 0a0.7 0.7 0 1 0 -1.3 0M196.2 625.5a0.9 0.9 0 1 0 1.8 0a0.9 0.9 0 1 0 -1.8 0M175.5 579.6a1.1 1.1 0 1 0 2.2 0a1.1 1.1 0 1 0 -2.2 0M169.9 602.9a1.0 1.0 0 1 0 2.0 0a1.0 1.0 0 1 0 -2.0 0M168.0 592.9a0.9 0.9 0 1 0 1.8 0a0.9 0.9 0 1 0 -1.8 0M181.8 594.5a0.4 0.4 0 1 0 0.9 0a0.4 0.4 0 1 0 -0.9 0M191.4 616.8a0.7 0.7 0 1 0 1.4 0a0.7 0.7 0 1 0 -1.4 0M218.7 614.8a0.5 0.5 0 1 0 1.0 0a0.5 0.5 0 1 0 -1.0 0M239.9 623.1a0.9 0.9 0 1 0 1.8 0a0.9 0.9 0 1 0 -1.8 0M214.5 645.9a1.2 1.2 0 1 0 2.3 0a1.2 1.2 0 1 0 -2.3 0M247.6 601.2a0.4 0.4 0 1 0 0.8 0a0.4 0.4 0 1 0 -0.8 0M187.6 619.1a0.8 0.8 0 1 0 1.7 0a0.8 0.8 0 1 0 -1.7 0M209.3 586.7a0.5 0.5 0 1 0 1.0 0a0.5 0.5 0 1 0 -1.0 0M166.5 611.1a1.0 1.0 0 1 0 1.9 0a1.0 1.0 0 1 0 -1.9 0M161.7 619.8a1.1 1.1 0 1 0 2.2 0a1.1 1.1 0 1 0 -2.2 0M237.9 590.2a0.8 0.8 0 1 0 1.6 0a0.8 0.8 0 1 0 -1.6 0M250.7 576.1a0.4 0.4 0 1 0 0.8 0a0.4 0.4 0 1 0 -0.8 0M184.5 625.6a0.5 0.5 0 1 0 1.0 0a0.5 0.5 0 1 0 -1.0 0M169.7 585.4a0.7 0.7 0 1 0 1.5 0a0.7 0.7 0 1 0 -1.5 0M200.6 579.8a0.8 0.8 0 1 0 1.7 0a0.8 0.8 0 1 0 -1.7 0M191.2 626.1a0.5 0.5 0 1 0 1.0 0a0.5 0.5 0 1 0 -1.0 0M158.2 584.0a1.0 1.0 0 1 0 2.0 0a1.0 1.0 0 1 0 -2.0 0M208.9 584.2a1.2 1.2 0 1 0 2.3 0a1.2 1.2 0 1 0 -2.3 0M205.5 632.6a1.0 1.0 0 1 0 2.0 0a1.0 1.0 0 1 0 -2.0 0M161.4 574.9a0.6 0.6 0 1 0 1.1 0a0.6 0.6 0 1 0 -1.1 0M201.6 593.6a0.4 0.4 0 1 0 0.8 0a0.4 0.4 0 1 0 -0.8 0M216.6 596.4a0.6 0.6 0 1 0 1.1 0a0.6 0.6 0 1 0 -1.1 0M244.0 593.2a1.1 1.1 0 1 0 2.2 0a1.1 1.1 0 1 0 -2.2 0M187.7 601.0a1.1 1.1 0 1 0 2.2 0a1.1 1.1 0 1 0 -2.2 0M181.2 618.5a0.6 0.6 0 1 0 1.2 0a0.6 0.6 0 1 0 -1.2 0M176.4 588.1a0.6 0.6 0 1 0 1.2 0a0.6 0.6 0 1 0 -1.2 0M195.6 616.5a0.8 0.8 0 1 0 1.5 0a0.8 0.8 0 1 0 -1.5 0M238.0 621.0a0.6 0.6 0 1 0 1.2 0a0.6 0.6 0 1 0 -1.2 0M233.6 575.4a0.4 0.4 0 1 0 0.7 0a0.4 0.4 0 1 0 -0.7 0M239.9 586.8a0.7 0.7 0 1 0 1.4 0a0.7 0.7 0 1 0 -1.4 0M220.2 629.4a0.4 0.4 0 1 0 0.8 0a0.4 0.4 0 1 0 -0.8 0M229.4 635.2a0.8 0.8 0 1 0 1.5 0a0.8 0.8 0 1 0 -1.5 0M171.0 625.0a1.1 1.1 0 1 0 2.2 0a1.1 1.1 0 1 0 -2.2 0M200.7 593.9a1.1 1.1 0 1 0 2.1 0a1.1 1.1 0 1 0 -2.1 0M238.8 649.5a0.4 0.4 0 1 0 0.9 0a0.4 0.4 0 1 0 -0.9 0M231.3 619.0a0.7 0.7 0 1 0 1.5 0a0.7 0.7 0 1 0 -1.5 0M240.1 583.1a0.6 0.6 0 1 0 1.1 0a0.6 0.6 0 1 0 -1.1 0M169.1 610.7a0.5 0.5 0 1 0 1.1 0a0.5 0.5 0 1 0 -1.1 0M226.9 637.7a0.9 0.9 0 1 0 1.7 0a0.9 0.9 0 1 0 -1.7 0M222.4 608.2a1.2 1.2 0 1 0 2.3 0a1.2 1.2 0 1 0 -2.3 0M227.8 615.2a1.2 1.2 0 1 0 2.3 0a1.2 1.2 0 1 0 -2.3 0M193.4 613.0a0.8 0.8 0 1 0 1.7 0a0.8 0.8 0 1 0 -1.7 0M214.8 575.5a0.4 0.4 0 1 0 0.7 0a0.4 0.4 0 1 0 -0.7 0M154.7 592.2a0.8 0.8 0 1 0 1.6 0a0.8 0.8 0 1 0 -1.6 0M167.3 620.6a1.1 1.1 0 1 0 2.2 0a1.1 1.1 0 1 0 -2.2 0M219.6 588.3a1.1 1.1 0 1 0 2.2 0a1.1 1.1 0 1 0 -2.2 0M246.1 616.9a0.8 0.8 0 1 0 1.6 0a0.8 0.8 0 1 0 -1.6 0M182.9 646.5a1.2 1.2 0 1 0 2.4 0a1.2 1.2 0 1 0 -2.4 0M238.3 635.0a0.9 0.9 0 1 0 1.8 0a0.9 0.9 0 1 0 -1.8 0M163.4 599.3a0.8 0.8 0 1 0 1.5 0a0.8 0.8 0 1 0 -1.5 0M190.4 640.8a0.6 0.6 0 1 0 1.2 0a0.6 0.6 0 1 0 -1.2 0M192.6 635.2a0.4 0.4 0 1 0 0.8 0a0.4 0.4 0 1 0 -0.8 0M227.6 638.5a0.4 0.4 0 1 0 0.9 0a0.4 0.4 0 1 0 -0.9 0M249.4 607.3a0.7 0.7 0 1 0 1.5 0a0.7 0.7 0 1 0 -1.5 0M167.0 640.7a0.6 0.6 0 1 0 1.2 0a0.6 0.6 0 1 0 -1.2 0M233.1 601.0a0.7 0.7 0 1 0 1.4 0a0.7 0.7 0 1 0 -1.4 0M249.0 628.1a0.4 0.4 0 1 0 0.9 0a0.4 0.4 0 1 0 -0.9 0M181.7 617.2a0.9 0.9 0 1 0 1.8 0a0.9 0.9 0 1 0 -1.8 0M219.3 635.9a0.6 0.6 0 1 0 1.1 0a0.6 0.6 0 1 0 -1.1 0M229.4 608.9a0.4 0.4 0 1 0 0.8 0a0.4 0.4 0 1 0 -0.8 0M183.1 636.1a0.7 0.7 0 1 0 1.4 0a0.7 0.7 0 1 0 -1.4 0M166.6 593.0a1.0 1.0 0 1 0 2.0 0a1.0 1.0 0 1 0 -2.0 0M185.6 590.1a0.8 0.8 0 1 0 1.6 0a0.8 0.8 0 1 0 -1.6 0M166.6 649.4a0.8 0.8 0 1 0 1.6 0a0.8 0.8 0 1 0 -1.6 0M173.3 595.9a0.8 0.8 0 1 0 1.5 0a0.8 0.8 0 1 0 -1.5 0M194.8 643.1a0.7 0.7 0 1 0 1.4 0a0.7 0.7 0 1 0 -1.4 0M211.7 644.1a0.7 0.7 0 1 0 1.3 0a0.7 0.7 0 1 0 -1.3 0M173.8 638.4a0.6 0.6 0 1 0 1.2 0a0.6 0.6 0 1 0 -1.2 0M206.6 612.4a1.2 1.2 0 1 0 2.4 0a1.2 1.2 0 1 0 -2.4 0M203.2 604.6a0.9 0.9 0 1 0 1.9 0a0.9 0.9 0 1 0 -1.9 0" fill="#cc2e2e" opacity="0.8"/>
<path d="M249.4 581.4a0.6 0.6 0 1 0 1.2 0a0.6 0.6 0 1 0 -1.2 0M231.5 632.7a1.1 1.1 0 1 0 2.2 0a1.1 1.1 0 1 0 -2.2 0M236.1 613.5a0.6 0.6 0 1 0 1.3 0a0.6 0.6 0 1 0 -1.3 0M183.4 576.1a0.8 0.8 0 1 0 1.5 0a0.8 0.8 0 1 0 -1.5 0M238.0 616.1a0.4 0.4 0 1 0 0.8 0a0.4 0.4 0 1 0 -0.8 0M241.9 637.9a0.8 0.8 0 1 0 1.6 0a0.8 0.8 0 1 0 -1.6 0M246.2 644.5a0.7 0.7 0 1 0 1.4 0a0.7 0.7 0 1 0 -1.4 0M212.4 643.9a0.8 0.8 0 1 0 1.6 0a0.8 0.8 0 1 0 -1.6 0M171.3 577.0a1.1 1.1 0 1 0 2.3 0a1.1 1.1 0 1 0 -2.3 0M222.6 592.7a0.6 0.6 0 1 0 1.2 0a0.6 0.6 0 1 0 -1.2 0M245.2 581.7a0.6 0.6 0 1 0 1.1 0a0.6 0.6 0 1 0 -1.1 0M171.7 640.5a0.4 0.4 0 1 0 0.8 0a0.4 0.4 0 1 0 -0.8 0M235.1 587.4a0.9 0.9 0 1 0 1.9 0a0.9 0.9 0 1 0 -1.9 0M215.9 626.0a0.8 0.8 0 1 0 1.6 0a0.8 0.8 0 1 0 -1.6 0M250.3 601.5a0.7 0.7 0 1 0 1.3 0a0.7 0.7 0 1 0 -1.3 0M203.2 643.1a0.5 0.5 0 1 0 1.0 0a0.5 0.5 0 1 0 -1.0 0M200.8 589.0a0.9 0.9 0 1 0 1.9 0a0.9 0.9 0 1 0 -1.9 0M178.2 616.3a1.1 1.1 0 1 0 2.2 0a1.1 1.1 0 1 0 -2.2 0M184.6 605.0a1.2 1.2 0 1 0 2.4 0a1.2 1.2 0 1 0 -2.4 0M176.3 601.3a0.5 0.5 0 1 0 1.1 0a0.5 0.5 0 1 0 -1.1 0M216.2 628.4a0.9 0.9 0 1 0 1.8 0a0.9 0.9 0 1 0 -1.8 0M217.6 584.5a0.6 0.6 0 1 0 1.2 0a0.6 0.6 0 1 0 -1.2 0M155.5 597.8a1.0 1.0 0 1 0 2.0 0a1.0 1.0 0 1 0 -2.0 0M208.1 606.1a0.8 0.8 0 1 0 1.7 0a0.8 0.8 0 1 0 -1.7 0M214.9 579.5a0.9 0.9 0 1 0 1.7 0a0.9 0.9 0 1 0 -1.7 0M247.9 635.2a1.0 1.0 0 1 0 2.0 0a1.0 1.0 0 1 0 -2.0 0M203.2 585.0a1.0 1.0 0 1 0 2.0 0a1.0 1.0 0 1 0 -2.0 0M175.0 631.3a1.1 1.1 0 1 0 2.3 0a1.1 1.1 0 1 0 -2.3 0M232.8 631.1a0.9 0.9 0 1 0 1.7 0a0.9 0.9 0 1 0 -1.7 0M241.3 600.8a1.2 1.2 0 1 0 2.3 0a1.2 1.2 0 1 0 -2.3 0M218.9 588.4a0.7 0.7 0 1 0 1.3 0a0.7 0.7 0 1 0 -1.3 0M251.5 617.0a0.4 0.4 0 1 0 0.8 0a0.4 0.4 0 1 0 -0.8 0M173.7 589.0a0.9 0.9 0 1 0 1.9 0a0.9 0.9 0 1 0 -1.9 0M228.5 589.6a0.4 0.4 0 1 0 0.9 0a0.4 0.4 0 1 0 -0.9 0M157.7 601.7a0.7 0.7 0 1 0 1.4 0a0.7 0.7 0 1 0 -1.4 0M213.4 578.8a1.1 1.1 0 1 0 2.2 0a1.1 1.1 0 1 0 -2.2 0M181.0 598.5a0.5 0.5 0 1 0 0.9 0a0.5 0.5 0 1 0 -0.9 0M227.8 648.0a0.8 0.8 0 1 0 1.5 0a0.8 0.8 0 1 0 -1.5 0M233.4 598.0a0.5 0.5 0 1 0 1.1 0a0.5 0.5 0 1 0 -1.1 0M178.4 645.8a1.1 1.1 0 1 0 2.2 0a1.1 1.1 0 1 0 -2.2 0M232.5 602.9a1.2 1.2 0 1 0 2.3 0a1.2 1.2 0 1 0 -2.3 0M226.3 603.8a0.4 0.4 0 1 0 0.8 0a0.4 0.4 0 1 0 -0.8 0M183.1 603.1a0.9 0.9 0 1 0 1.9 0a0.9 0.9 0 1 0 -1.9 0M172.4 577.0a1.0 1.0 0 1 0 2.0 0a1.0 1.0 0 1 0 -2.0 0M231.1 604.6a0.7 0.7 0 1 0 1.4 0a0.7 0.7 0 1 0 -1.4 0M214.0 613.2a0.5 0.5 0 1 0 1.0 0a0.5 0.5 0 1 0 -1.0 0M249.1 605.8a1.2 1.2 0 1 0 2.4 0a1.2 1.2 0 1 0 -2.4 0M165.7 625.3a0.8 0.8 0 1 0 1.6 0a0.8 0.8 0 1 0 -1.6 0M179.0 628.6a0.9 0.9 0 1 0 1.8 0a0.9 0.9 0 1 0 -1.8 0M232.4 633.6a0.7 0.7 0 1 0 1.4 0a0.7 0.7 0 1 0 -1.4 0M187.8 578.3a0.9 0.9 0 1 0 1.9 0a0.9 0.9 0 1 0 -1.9 0M247.1 609.8a0.8 0.8 0 1 0 1.7 0a0.8 0.8 0 1 0 -1.7 0M212.0 643.0a0.7 0.7 0 1 0 1.4 0a0.7 0.7 0 1 0 -1.4 0M173.2 645.8a0.6 0.6 0 1 0 1.2 0a0.6 0.6 0 1 0 -1.2 0M180.4 628.5a0.5 0.5 0 1 0 1.0 0a0.5 0.5 0 1 0 -1.0 0M220.0 606.6a1.0 1.0 0 1 0 2.1 0a1.0 1.0 0 1 0 -2.1 0M231.5 635.9a1.1 1.1 0 1 0 2.3 0a1.1 1.1 0 1 0 -2.3 0M151.8 648.8a1.0 1.0 0 1 0 2.0 0a1.0 1.0 0 1 0 -2.0 0M236.1 623.7a0.8 0.8 0 1 0 1.7 0a0.8 0.8 0 1 0 -1.7 0M151.6 624.2a1.1 1.1 0 1 0 2.2 0a1.1 1.1 0 1 0 -2.2 0M210.1 609.5a0.4 0.4 0 1 0 0.8 0a0.4 0.4 0 1 0 -0.8 0M224.3 648.3a0.5 0.5 0 1 0 1.0 0a0.5 0.5 0 1 0 -1.0 0M215.7 622.8a0.9 0.9 0 1 0 1.7 0a0.9 0.9 0 1 0 -1.7 0M220.6 579.1a0.4 0.4 0 1 0 0.9 0a0.4 0.4 0 1 0 -0.9 0M183.5 610.0a0.4 0.4 0 1 0 0.7 0a0.4 0.4 0 1 0 -0.7 0M211.6 604.3a1.1 1.1 0 1 0 2.2 0a1.1 1.1 0 1 0 -2.2 0M212.1 595.3a0.5 0.5 0 1 0 1.0 0a0.5 0.5 0 1 0 -1.0 0M210.8 637.1a1.1 1.1 0 1 0 2.2 0a1.1 1.1 0 1 0 -2.2 0M189.9 631.7a0.6 0.6 0 1 0 1.2 0a0.6 0.6 0 1 0 -1.2 0M223.1 625.4a0.9 0.9 0 1 0 1.8 0a0.9 0.9 0 1 0 -1.8 0M187.3 577.8a1.2 1.2 0 1 0 2.4 0a1.2 1.2 0 1 0 -2.4 0M232.8 616.4a0.5 0.5 0 1 0 1.0 0a0.5 0.5 0 1 0 -1.0 0M209.1 594.9a0.4 0.4 0 1 0 0.8 0a0.4 0.4 0 1 0 -0.8 0M168.9 622.1a0.6 0.6 0 1 0 1.2 0a0.6 0.6 0 1 0 -1.2 0M189.2 621.3a0.9 0.9 0 1 0 1.8 0a0.9 0.9 0 1 0 -1.8 0M200.9 636.7a0.6 0.6 0 1 0 1.2 0a0.6 0.6 0 1 0 -1.2 0M203.7 612.9a0.9 0.9 0 1 0 1.7 0a0.9 0.9 0 1 0 -1.7 0M213.3 575.5a0.8 0.8 0 1 0 1.5 0a0.8 0.8 0 1 0 -1.5 0M211.3 623.7a0.4 0.4 0 1 0 0.8 0a0.4 0.4 0 1 0 -0.8 0M235.3 639.8a0.8 0.8 0 1 0 1.5 0a0.8 0.8 0 1 0 -1.5 0M244.0 639.4a0.8 0.8 0 1 0 1.7 0a0.8 0.8 0 1 0 -1.7 0M176.0 601.2a0.5 0.5 0 1 0 1.0 0a0.5 0.5 0 1 0 -1.0 0M207.6 617.0a1.1 1.1 0 1 0 2.3 0a1.1 1.1 0 1 0 -2.3 0M238.8 645.5a1.1 1.1 0 1 0 2.1 0a1.1 1.1 0 1 0 -2.1 0M163.3 640.3a1.0 1.0 0 1 0 2.0 0a1.0 1.0 0 1 0 -2.0 0M227.7 610.1a0.6 0.6 0 1 0 1.1 0a0.6 0.6 0 1 0 -1.1 0M173.7 627.0a0.8 0.8 0 1 0 1.6 0a0.8 0.8 0 1 0 -1.6 0M223.6 578.8a0.4 0.4 0 1 0 0.9 0a0.4 0.4 0 1 0 -0.9 0M155.4 599.3a0.7 0.7 0 1 0 1.4 0a0.7 0.7 0 1 0 -1.4 0M181.8 640.5a0.7 0.7 0 1 0 1.4 0a0.7 0.7 0 1 0 -1.4 0M239.7 586.3a1.1 1.1 0 1 0 2.2 0a1.1 1.1 0 1 0 -2.2 0M190.3 615.4a0.9 0.9 0 1 0 1.7 0a0.9 0.9 0 1 0 -1.7 0M233.5 637.7a0.6 0.6 0 1 0 1.1 0a0.6 0.6 0 1 0 -1.1 0M203.6 594.1a0.8 0.8 0 1 0 1.7 0a0.8 0.8 0 1 0 -1.7 0M163.1 621.5a0.6 0.6 0 1 0 1.3 0a0.6 0.6 0 1 0 -1.3 0M242.2 619.6a1.0 1.0 0 1 0 2.0 0a1.0 1.0 0 1 0 -2.0 0M199.6 613.0a0.5 0.5 0 1 0 1.1 0a0.5 0.5 0 1 0 -1.1 0M222.8 587.5a0.8 0.8 0 1 0 1.6 0a0.8 0.8 0 1 0 -1.6 0M168.5 643.1a0.6 0.6 0 1 0 1.2 0a0.6 0.6 0 1 0 -1.2 0M243.9 620.3a0.9 0.9 0 1 0 1.8 0a0.9 0.9 0 1 0 -1.8 0M208.9 585.9a0.8 0.8 0 1 0 1.7 0a0.8 0.8 0 1 0 -1.7 0M241.5 643.8a0.4 0.4 0 1 0 0.9 0a0.4 0.4 0 1 0 -0.9 0M243.6 626.1a0.9 0.9 0 1 0 1.7 0a0.9 0.9 0 1 0 -1.7 0M250.9 626.4a0.6 0.6 0 1 0 1.2 0a0.6 0.6 0 1 0 -1.2 0M243.3 615.6a0.9 0.9 0 1 0 1.8 0a0.9 0.9 0 1 0 -1.8 0M204.8 602.4a0.8 0.8 0 1 0 1.6 0a0.8 0.8 0 1 0 -1.6 0M231.9 620.1a1.2 1.2 0 1 0 2.3 0a1.2 1.2 0 1 0 -2.3 0M228.9 628.3a1.0 1.0 0 1 0 2.0 0a1.0 1.0 0 1 0 -2.0 0M184.6 600.5a0.4 0.4 0 1 0 0.9 0a0.4 0.4 0 1 0 -0.9 0M236.9 622.8a1.1 1.1 0 1 0 2.3 0a1.1 1.1 0 1 0 -2.3 0M218.7 622.0a1.1 1.1 0 1 0 2.1 0a1.1 1.1 0 1 0 -2.1 0M157.6 642.3a0.9 0.9 0 1 0 1.8 0a0.9 0.9 0 1 0 -1.8 0M211.6 621.8a0.5 0.5 0 1 0 0.9 0a0.5 0.5 0 1 0 -0.9 0M202.4 615.4a0.4 0.4 0 1 0 0.8 0a0.4 0.4 0 1 0 -0.8 0M234.4 628.9a0.9 0.9 0 1 0 1.9 0a0.9 0.9 0 1 0 -1.9 0M170.5 631.1a0.5 0.5 0 1 0 1.0 0a0.5 0.5 0 1 0 -1.0 0M209.4 586.0a1.1 1.1 0 1 0 2.2 0a1.1 1.1 0 1 0 -2.2 0M179.8 589.1a0.4 0.4 0 1 0 0.8 0a0.4 0.4 0 1 0 -0.8 0M180.6 592.9a0.4 0.4 0 1 0 0.7 0a0.4 0.4 0 1 0 -0.7 0M228.0 631.1a0.8 0.8 0 1 0 1.6 0a0.8 0.8 0 1 0 -1.6 0M219.4 646.1a0.6 0.6 0 1 0 1.3 0a0.6 0.6 0 1 0 -1.3 0M166.2 624.5a0.5 0.5 0 1 0 1.0 0a0.5 0.5 0 1 0 -1.0 0M168.9 592.3a0.5 0.5 0 1 0 1.0 0a0.5 0.5 0 1 0 -1.0 0M162.3 591.7a1.1 1.1 0 1 0 2.1 0a1.1 1.1 0 1 0 -2.1 0M228.6 614.6a1.0 1.0 0 1 0 2.0 0a1.0 1.0 0 1 0 -2.0 0M162.1 646.4a0.5 0.5 0 1 0 1.0 0a0.5 0.5 0 1 0 -1.0 0M202.8 633.8a0.7 0.7 0 1 0 1.5 0a0.7 0.7 0 1 0 -1.5 0M222.1 597.6a0.8 0.8 0 1 0 1.6 0a0.8 0.8 0 1 0 -1.6 0M252.8 603.7a0.6 0.6 0 1 0 1.2 0a0.6 0.6 0 1 0 -1.2 0M227.0 607.7a0.8 0.8 0 1 0 1.6 0a0.8 0.8 0 1 0 -1.6 0M242.1 626.9a0.8 0.8 0 1 0 1.6 0a0.8 0.8 0 1 0 -1.6 0M190.9 595.2a0.5 0.5 0 1 0 1.0 0a0.5 0.5 0 1 0 -1.0 0M195.9 592.5a1.0 1.0 0 1 0 2.0 0a1.0 1.0 0 1 0 -2.0 0M158.6 589.2a0.4 0.4 0 1 0 0.9 0a0.4 0.4 0 1 0 -0.9 0M242.4 636.8a1.0 1.0 0 1 0 1.9 0a1.0 1.0 0 1 0 -1.9 0M165.0 614.0a0.5 0.5 0 1 0 1.0 0a0.5 0.5 0 1 0 -1.0 0M189.3 592.9a1.0 1.0 0 1 0 2.0 0a1.0 1.0 0 1 0 -2.0 0M210.5 579.6a0.8 0.8 0 1 0 1.6 0a0.8 0.8 0 1 0 -1.6 0M161.9 602.2a0.5 0.5 0 1 0 0.9 0a0.5 0.5 0 1 0 -0.9 0M205.8 588.4a1.2 1.2 0 1 0 2.4 0a1.2 1.2 0 1 0 -2.4 0M171.2 639.2a1.1 1.1 0 1 0 2.3 0a1.1 1.1 0 1 0 -2.3 0M246.0 619.7a0.4 0.4 0 1 0 0.7 0a0.4 0.4 0 1 0 -0.7 0M240.9 607.7a1.1 1.1 0 1 0 2.2 0a1.1 1.1 0 1 0 -2.2 0M169.7 597.6a0.7 0.7 0 1 0 1.4 0a0.7 0.7 0 1 0 -1.4 0M177.7 579.8a0.4 0.4 0 1 0 0.8 0a0.4 0.4 0 1 0 -0.8 0M160.8 592.9a0.7 0.7 0 1 0 1.4 0a0.7 0.7 0 1 0 -1.4 0M197.5 602.7a0.8 0.8 0 1 0 1.5 0a0.8 0.8 0 1 0 -1.5 0M221.5 579.5a1.1 1.1 0 1 0 2.2 0a1.1 1.1 0 1 0 -2.2 0M161.7 577.2a0.9 0.9 0 1 0 1.7 0a0.9 0.9 0 1 0 -1.7 0M234.9 631.7a0.9 0.9 0 1 0 1.9 0a0.9 0.9 0 1 0 -1.9 0M209.7 581.0a0.6 0.6 0 1 0 1.2 0a0.6 0.6 0 1 0 -1.2 0M188.1 601.4a1.1 1.1 0 1 0 2.2 0a1.1 1.1 0 1 0 -2.2 0M197.6 601.0a0.7 0.7 0 1 0 1.4 0a0.7 0.7 0 1 0 -1.4 0M199.2 586.5a0.7 0.7 0 1 0 1.5 0a0.7 0.7 0 1 0 -1.5 0M221.9 578.9a0.6 0.6 0 1 0 1.1 0a0.6 0.6 0 1 0 -1.1 0M250.1 642.8a1.2 1.2 0 1 0 2.3 0a1.2 1.2 0 1 0 -2.3 0M204.1 606.3a0.9 0.9 0 1 0 1.7 0a0.9 0.9 0 1 0 -1.7 0M213.6 612.7a0.5 0.5 0 1 0 1.0 0a0.5 0.5 0 1 0 -1.0 0M153.2 582.8a0.8 0.8 0 1 0 1.6 0a0.8 0.8 0 1 0 -1.6 0M181.3 624.8a1.0 1.0 0 1 0 2.0 0a1.0 1.0 0 1 0 -2.0 0M184.0 576.6a1.1 1.1 0 1 0 2.3 0a1.1 1.1 0 1 0 -2.3 0M161.2 576.4a0.4 0.4 0 1 0 0.8 0a0.4 0.4 0 1 0 -0.8 0M237.6 612.6a0.6 0.6 0 1 0 1.2 0a0.6 0.6 0 1 0 -1.2 0M249.2 635.4a0.6 0.6 0 1 0 1.2 0a0.6 0.6 0 1 0 -1.2 0M158.5 598.0a1.0 1.0 0 1 0 1.9 0a1.0 1.0 0 1 0 -1.9 0M244.6 595.1a1.1 1.1 0 1 0 2.2 0a1.1 1.1 0 1 0 -2.2 0M180.7 631.8a1.0 1.0 0 1 0 2.0 0a1.0 1.0 0 1 0 -2.0 0M207.5 634.0a0.7 0.7 0 1 0 1.4 0a0.7 0.7 0 1 0 -1.4 0M224.4 642.2a0.4 0.4 0 1 0 0.8 0a0.4 0.4 0 1 0 -0.8 0M206.8 615.7a1.0 1.0 0 1 0 1.9 0a1.0 1.0 0 1 0 -1.9 0M224.8 612.9a0.7 0.7 0 1 0 1.4 0a0.7 0.7 0 1 0 -1.4 0M196.2 634.3a0.5 0.5 0 1 0 1.0 0a0.5 0.5 0 1 0 -1.0 0M205.0 613.7a0.6 0.6 0 1 0 1.2 0a0.6 0.6 0 1 0 -1.2 0M212.7 616.0a0.4 0.4 0 1 0 0.8 0a0.4 0.4 0 1 0 -0.8 0M158.9 581.8a1.0 1.0 0 1 0 2.1 0a1.0 1.0 0 1 0 -2.1 0M206.4 581.8a0.7 0.7 0 1 0 1.4 0a0.7 0.7 0 1 0 -1.4 0M166.3 643.9a0.5 0.5 0 1 0 1.0 0a0.5 0.5 0 1 0 -1.0 0M159.9 616.1a0.4 0.4 0 1 0 0.7 0a0.4 0.4 0 1 0 -0.7 0M229.8 645.2a0.7 0.7 0 1 0 1.3 0a0.7 0.7 0 1 0 -1.3 0M154.4 586.1a0.6 0.6 0 1 0 1.1 0a0.6 0.6 0 1 0 -1.1 0M248.7 591.3a0.4 0.4 0 1 0 0.9 0a0.4 0.4 0 1 0 -0.9 0M239.8 620.5a0.4 0.4 0 1 0 0.7 0a0.4 0.4 0 1 0 -0.7 0M154.2 608.8a1.1 1.1 0 1 0 2.1 0a1.1 1.1 0 1 0 -2.1 0M235.2 636.8a0.4 0.4 0 1 0 0.9 0a0.4 0.4 0 1 0 -0.9 0" fill="#e27c74" opacity="0.8"/>
<path d="M157.9 643.3a0.5 0.5 0 1 0 1.0 0a0.5 0.5 0 1 0 -1.0 0M221.2 629.4a0.7 0.7 0 1 0 1.4 0a0.7 0.7 0 1 0 -1.4 0M210.4 626.9a0.4 0.4 0 1 0 0.9 0a0.4 0.4 0 1 0 -0.9 0M196.2 577.2a0.7 0.7 0 1 0 1.3 0a0.7 0.7 0 1 0 -1.3 0M156.1 586.4a1.0 1.0 0 1 0 2.0 0a1.0 1.0 0 1 0 -2.0 0M212.1 580.7a1.1 1.1 0 1 0 2.3 0a1.1 1.1 0 1 0 -2.3 0M199.3 629.5a1.1 1.1 0 1 0 2.1 0a1.1 1.1 0 1 0 -2.1 0M230.2 615.4a0.6 0.6 0 1 0 1.3 0a0.6 0.6 0 1 0 -1.3 0M194.8 600.1a0.4 0.4 0 1 0 0.8 0a0.4 0.4 0 1 0 -0.8 0M189.2 579.7a0.6 0.6 0 1 0 1.2 0a0.6 0.6 0 1 0 -1.2 0M227.1 649.8a0.8 0.8 0 1 0 1.6 0a0.8 0.8 0 1 0 -1.6 0M190.9 620.0a0.8 0.8 0 1 0 1.6 0a0.8 0.8 0 1 0 -1.6 0M239.4 648.5a0.6 0.6 0 1 0 1.2 0a0.6 0.6 0 1 0 -1.2 0M161.9 616.1a1.0 1.0 0 1 0 2.0 0a1.0 1.0 0 1 0 -2.0 0M240.8 626.3a0.5 0.5 0 1 0 1.0 0a0.5 0.5 0 1 0 -1.0 0M245.8 608.7a0.6 0.6 0 1 0 1.2 0a0.6 0.6 0 1 0 -1.2 0M175.0 630.7a0.4 0.4 0 1 0 0.7 0a0.4 0.4 0 1 0 -0.7 0M169.5 600.3a1.0 1.0 0 1 0 1.9 0a1.0 1.0 0 1 0 -1.9 0M168.4 626.3a0.9 0.9 0 1 0 1.7 0a0.9 0.9 0 1 0 -1.7 0M250.2 626.2a1.2 1.2 0 1 0 2.3 0a1.2 1.2 0 1 0 -2.3 0M227.8 618.9a0.7 0.7 0 1 0 1.3 0a0.7 0.7 0 1 0 -1.3 0M197.1 598.1a0.5 0.5 0 1 0 0.9 0a0.5 0.5 0 1 0 -0.9 0M165.5 596.7a1.1 1.1 0 1 0 2.3 0a1.1 1.1 0 1 0 -2.3 0M186.6 645.6a0.8 0.8 0 1 0 1.5 0a0.8 0.8 0 1 0 -1.5 0M200.1 632.2a0.9 0.9 0 1 0 1.9 0a0.9 0.9 0 1 0 -1.9 0M250.3 614.8a0.5 0.5 0 1 0 0.9 0a0.5 0.5 0 1 0 -0.9 0M248.5 621.3a0.4 0.4 0 1 0 0.8 0a0.4 0.4 0 1 0 -0.8 0M241.7 633.0a0.6 0.6 0 1 0 1.2 0a0.6 0.6 0 1 0 -1.2 0M203.0 636.6a0.8 0.8 0 1 0 1.6 0a0.8 0.8 0 1 0 -1.6 0M196.0 631.3a1.2 1.2 0 1 0 2.3 0a1.2 1.2 0 1 0 -2.3 0M218.0 648.6a0.6 0.6 0 1 0 1.2 0a0.6 0.6 0 1 0 -1.2 0M230.3 625.6a0.9 0.9 0 1 0 1.8 0a0.9 0.9 0 1 0 -1.8 0M172.9 636.7a0.9 0.9 0 1 0 1.8 0a0.9 0.9 0 1 0 -1.8 0M242.4 631.6a0.7 0.7 0 1 0 1.4 0a0.7 0.7 0 1 0 -1.4 0M211.2 593.6a1.1 1.1 0 1 0 2.2 0a1.1 1.1 0 1 0 -2.2 0M218.4 626.8a1.2 1.2 0 1 0 2.4 0a1.2 1.2 0 1 0 -2.4 0M210.8 580.2a0.4 0.4 0 1 0 0.8 0a0.4 0.4 0 1 0 -0.8 0M213.0 579.4a1.2 1.2 0 1 0 2.3 0a1.2 1.2 0 1 0 -2.3 0M159.8 631.8a0.4 0.4 0 1 0 0.8 0a0.4 0.4 0 1 0 -0.8 0M208.2 608.0a0.4 0.4 0 1 0 0.8 0a0.4 0.4 0 1 0 -0.8 0M164.5 617.0a0.8 0.8 0 1 0 1.6 0a0.8 0.8 0 1 0 -1.6 0M242.9 599.6a1.0 1.0 0 1 0 1.9 0a1.0 1.0 0 1 0 -1.9 0M174.2 634.6a0.7 0.7 0 1 0 1.5 0a0.7 0.7 0 1 0 -1.5 0M183.1 637.9a0.8 0.8 0 1 0 1.6 0a0.8 0.8 0 1 0 -1.6 0M159.8 637.4a0.8 0.8 0 1 0 1.7 0a0.8 0.8 0 1 0 -1.7 0M171.7 575.5a1.2 1.2 0 1 0 2.4 0a1.2 1.2 0 1 0 -2.4 0M167.8 644.4a0.8 0.8 0 1 0 1.7 0a0.8 0.8 0 1 0 -1.7 0M241.6 641.4a0.6 0.6 0 1 0 1.2 0a0.6 0.6 0 1 0 -1.2 0M151.6 603.5a1.1 1.1 0 1 0 2.1 0a1.1 1.1 0 1 0 -2.1 0M247.8 616.2a0.5 0.5 0 1 0 1.0 0a0.5 0.5 0 1 0 -1.0 0M158.4 586.1a1.1 1.1 0 1 0 2.2 0a1.1 1.1 0 1 0 -2.2 0M243.2 637.3a1.2 1.2 0 1 0 2.4 0a1.2 1.2 0 1 0 -2.4 0M171.4 639.3a1.0 1.0 0 1 0 2.1 0a1.0 1.0 0 1 0 -2.1 0M152.3 638.0a0.7 0.7 0 1 0 1.5 0a0.7 0.7 0 1 0 -1.5 0M160.1 640.0a0.6 0.6 0 1 0 1.2 0a0.6 0.6 0 1 0 -1.2 0M223.4 582.5a1.0 1.0 0 1 0 1.9 0a1.0 1.0 0 1 0 -1.9 0M205.4 592.7a0.6 0.6 0 1 0 1.2 0a0.6 0.6 0 1 0 -1.2 0M213.2 584.3a0.4 0.4 0 1 0 0.8 0a0.4 0.4 0 1 0 -0.8 0M159.7 591.7a1.0 1.0 0 1 0 2.0 0a1.0 1.0 0 1 0 -2.0 0M165.2 626.7a1.0 1.0 0 1 0 2.0 0a1.0 1.0 0 1 0 -2.0 0M185.0 612.1a0.8 0.8 0 1 0 1.6 0a0.8 0.8 0 1 0 -1.6 0M154.9 642.9a0.5 0.5 0 1 0 1.0 0a0.5 0.5 0 1 0 -1.0 0M216.9 592.4a0.8 0.8 0 1 0 1.5 0a0.8 0.8 0 1 0 -1.5 0M208.9 649.9a1.0 1.0 0 1 0 2.0 0a1.0 1.0 0 1 0 -2.0 0M242.9 629.2a0.6 0.6 0 1 0 1.2 0a0.6 0.6 0 1 0 -1.2 0M163.9 627.3a0.4 0.4 0 1 0 0.8 0a0.4 0.4 0 1 0 -0.8 0M183.2 615.2a1.0 1.0 0 1 0 1.9 0a1.0 1.0 0 1 0 -1.9 0M208.2 584.3a0.4 0.4 0 1 0 0.9 0a0.4 0.4 0 1 0 -0.9 0M222.2 574.8a1.2 1.2 0 1 0 2.4 0a1.2 1.2 0 1 0 -2.4 0M208.3 608.2a0.9 0.9 0 1 0 1.8 0a0.9 0.9 0 1 0 -1.8 0M195.3 610.8a0.6 0.6 0 1 0 1.1 0a0.6 0.6 0 1 0 -1.1 0M210.4 618.1a0.4 0.4 0 1 0 0.8 0a0.4 0.4 0 1 0 -0.8 0M199.0 643.3a0.5 0.5 0 1 0 0.9 0a0.5 0.5 0 1 0 -0.9 0M199.0 602.0a0.7 0.7 0 1 0 1.4 0a0.7 0.7 0 1 0 -1.4 0M198.3 594.7a0.6 0.6 0 1 0 1.2 0a0.6 0.6 0 1 0 -1.2 0M187.5 609.4a0.7 0.7 0 1 0 1.4 0a0.7 0.7 0 1 0 -1.4 0M188.1 627.0a1.1 1.1 0 1 0 2.1 0a1.1 1.1 0 1 0 -2.1 0M162.2 650.1a0.5 0.5 0 1 0 1.0 0a0.5 0.5 0 1 0 -1.0 0M170.9 623.7a0.6 0.6 0 1 0 1.3 0a0.6 0.6 0 1 0 -1.3 0M225.0 628.6a1.1 1.1 0 1 0 2.2 0a1.1 1.1 0 1 0 -2.2 0M181.5 649.8a0.8 0.8 0 1 0 1.5 0a0.8 0.8 0 1 0 -1.5 0M215.2 619.1a1.0 1.0 0 1 0 1.9 0a1.0 1.0 0 1 0 -1.9 0M227.9 595.3a0.9 0.9 0 1 0 1.8 0a0.9 0.9 0 1 0 -1.8 0M241.8 579.8a0.7 0.7 0 1 0 1.5 0a0.7 0.7 0 1 0 -1.5 0M185.7 577.8a0.5 0.5 0 1 0 1.0 0a0.5 0.5 0 1 0 -1.0 0M175.8 590.9a0.6 0.6 0 1 0 1.2 0a0.6 0.6 0 1 0 -1.2 0M152.8 634.5a0.6 0.6 0 1 0 1.2 0a0.6 0.6 0 1 0 -1.2 0M163.4 607.0a1.0 1.0 0 1 0 2.1 0a1.0 1.0 0 1 0 -2.1 0M183.1 613.0a0.8 0.8 0 1 0 1.7 0a0.8 0.8 0 1 0 -1.7 0M155.4 623.2a0.4 0.4 0 1 0 0.7 0a0.4 0.4 0 1 0 -0.7 0M152.9 585.4a1.2 1.2 0 1 0 2.4 0a1.2 1.2 0 1 0 -2.4 0M178.2 641.8a0.4 0.4 0 1 0 0.7 0a0.4 0.4 0 1 0 -0.7 0M206.9 628.7a0.4 0.4 0 1 0 0.9 0a0.4 0.4 0 1 0 -0.9 0M197.8 635.9a0.5 0.5 0 1 0 1.0 0a0.5 0.5 0 1 0 -1.0 0M212.6 642.2a1.1 1.1 0 1 0 2.2 0a1.1 1.1 0 1 0 -2.2 0M164.4 638.3a0.9 0.9 0 1 0 1.9 0a0.9 0.9 0 1 0 -1.9 0M229.7 644.6a0.8 0.8 0 1 0 1.7 0a0.8 0.8 0 1 0 -1.7 0M162.5 601.7a1.2 1.2 0 1 0 2.4 0a1.2 1.2 0 1 0 -2.4 0M187.8 578.9a0.5 0.5 0 1 0 1.0 0a0.5 0.5 0 1 0 -1.0 0M218.4 614.9a0.9 0.9 0 1 0 1.7 0a0.9 0.9 0 1 0 -1.7 0M239.8 605.0a0.9 0.9 0 1 0 1.8 0a0.9 0.9 0 1 0 -1.8 0M181.7 624.6a0.8 0.8 0 1 0 1.6 0a0.8 0.8 0 1 0 -1.6 0M223.8 603.7a0.6 0.6 0 1 0 1.2 0a0.6 0.6 0 1 0 -1.2 0M225.1 594.9a0.7 0.7 0 1 0 1.3 0a0.7 0.7 0 1 0 -1.3 0M156.8 642.3a0.9 0.9 0 1 0 1.9 0a0.9 0.9 0 1 0 -1.9 0M242.5 601.1a0.4 0.4 0 1 0 0.7 0a0.4 0.4 0 1 0 -0.7 0M180.3 627.7a0.6 0.6 0 1 0 1.1 0a0.6 0.6 0 1 0 -1.1 0M187.6 609.0a0.7 0.7 0 1 0 1.3 0a0.7 0.7 0 1 0 -1.3 0M251.9 625.2a0.9 0.9 0 1 0 1.8 0a0.9 0.9 0 1 0 -1.8 0M241.6 583.3a0.6 0.6 0 1 0 1.3 0a0.6 0.6 0 1 0 -1.3 0M177.9 577.8a0.5 0.5 0 1 0 1.1 0a0.5 0.5 0 1 0 -1.1 0M221.6 588.0a1.0 1.0 0 1 0 2.1 0a1.0 1.0 0 1 0 -2.1 0M252.1 641.9a0.7 0.7 0 1 0 1.3 0a0.7 0.7 0 1 0 -1.3 0M177.7 626.5a0.5 0.5 0 1 0 0.9 0a0.5 0.5 0 1 0 -0.9 0M196.0 584.3a1.0 1.0 0 1 0 2.0 0a1.0 1.0 0 1 0 -2.0 0M152.8 611.1a1.2 1.2 0 1 0 2.4 0a1.2 1.2 0 1 0 -2.4 0M167.3 622.5a0.8 0.8 0 1 0 1.7 0a0.8 0.8 0 1 0 -1.7 0M244.5 649.1a1.1 1.1 0 1 0 2.2 0a1.1 1.1 0 1 0 -2.2 0M163.8 649.5a0.9 0.9 0 1 0 1.7 0a0.9 0.9 0 1 0 -1.7 0M241.8 577.6a0.6 0.6 0 1 0 1.1 0a0.6 0.6 0 1 0 -1.1 0M183.8 614.6a0.8 0.8 0 1 0 1.7 0a0.8 0.8 0 1 0 -1.7 0M159.5 580.4a0.7 0.7 0 1 0 1.5 0a0.7 0.7 0 1 0 -1.5 0M245.9 638.7a0.8 0.8 0 1 0 1.5 0a0.8 0.8 0 1 0 -1.5 0M177.4 621.0a1.1 1.1 0 1 0 2.2 0a1.1 1.1 0 1 0 -2.2 0M194.8 598.4a1.1 1.1 0 1 0 2.1 0a1.1 1.1 0 1 0 -2.1 0M213.7 603.5a0.4 0.4 0 1 0 0.7 0a0.4 0.4 0 1 0 -0.7 0M184.3 627.0a0.5 0.5 0 1 0 1.0 0a0.5 0.5 0 1 0 -1.0 0M165.6 646.7a0.6 0.6 0 1 0 1.3 0a0.6 0.6 0 1 0 -1.3 0M232.5 590.1a0.5 0.5 0 1 0 0.9 0a0.5 0.5 0 1 0 -0.9 0M220.4 607.4a0.7 0.7 0 1 0 1.4 0a0.7 0.7 0 1 0 -1.4 0M184.8 613.9a0.6 0.6 0 1 0 1.1 0a0.6 0.6 0 1 0 -1.1 0M248.3 580.8a0.4 0.4 0 1 0 0.8 0a0.4 0.4 0 1 0 -0.8 0M176.2 609.7a1.2 1.2 0 1 0 2.3 0a1.2 1.2 0 1 0 -2.3 0M173.0 589.4a1.0 1.0 0 1 0 2.0 0a1.0 1.0 0 1 0 -2.0 0M162.1 625.3a0.7 0.7 0 1 0 1.4 0a0.7 0.7 0 1 0 -1.4 0M249.8 617.2a0.7 0.7 0 1 0 1.4 0a0.7 0.7 0 1 0 -1.4 0M214.5 610.5a0.6 0.6 0 1 0 1.2 0a0.6 0.6 0 1 0 -1.2 0M224.5 619.7a1.1 1.1 0 1 0 2.2 0a1.1 1.1 0 1 0 -2.2 0M211.6 613.4a0.4 0.4 0 1 0 0.8 0a0.4 0.4 0 1 0 -0.8 0M214.0 583.8a1.1 1.1 0 1 0 2.3 0a1.1 1.1 0 1 0 -2.3 0M180.4 609.7a1.1 1.1 0 1 0 2.3 0a1.1 1.1 0 1 0 -2.3 0M216.5 602.6a0.4 0.4 0 1 0 0.9 0a0.4 0.4 0 1 0 -0.9 0M251.4 581.3a0.9 0.9 0 1 0 1.8 0a0.9 0.9 0 1 0 -1.8 0M178.6 640.3a0.8 0.8 0 1 0 1.6 0a0.8 0.8 0 1 0 -1.6 0M232.2 587.4a0.4 0.4 0 1 0 0.8 0a0.4 0.4 0 1 0 -0.8 0M239.2 636.1a1.0 1.0 0 1 0 2.1 0a1.0 1.0 0 1 0 -2.1 0M242.3 634.2a0.7 0.7 0 1 0 1.3 0a0.7 0.7 0 1 0 -1.3 0M177.5 580.6a0.4 0.4 0 1 0 0.8 0a0.4 0.4 0 1 0 -0.8 0M165.2 626.5a1.1 1.1 0 1 0 2.2 0a1.1 1.1 0 1 0 -2.2 0M210.4 593.3a1.1 1.1 0 1 0 2.2 0a1.1 1.1 0 1 0 -2.2 0M221.3 621.9a0.8 0.8 0 1 0 1.5 0a0.8 0.8 0 1 0 -1.5 0M232.8 608.0a0.8 0.8 0 1 0 1.7 0a0.8 0.8 0 1 0 -1.7 0M243.6 606.0a1.0 1.0 0 1 0 2.0 0a1.0 1.0 0 1 0 -2.0 0M192.5 618.8a0.7 0.7 0 1 0 1.3 0a0.7 0.7 0 1 0 -1.3 0M153.8 649.5a0.5 0.5 0 1 0 1.1 0a0.5 0.5 0 1 0 -1.1 0M167.1 589.3a1.0 1.0 0 1 0 2.0 0a1.0 1.0 0 1 0 -2.0 0M252.7 635.7a0.5 0.5 0 1 0 1.1 0a0.5 0.5 0 1 0 -1.1 0M168.6 593.9a0.6 0.6 0 1 0 1.3 0a0.6 0.6 0 1 0 -1.3 0M155.2 633.5a0.5 0.5 0 1 0 1.0 0a0.5 0.5 0 1 0 -1.0 0M229.8 610.2a0.9 0.9 0 1 0 1.7 0a0.9 0.9 0 1 0 -1.7 0M164.1 636.5a0.5 0.5 0 1 0 0.9 0a0.5 0.5 0 1 0 -0.9 0M192.3 579.9a0.7 0.7 0 1 0 1.4 0a0.7 0.7 0 1 0 -1.4 0M154.7 630.6a0.9 0.9 0 1 0 1.8 0a0.9 0.9 0 1 0 -1.8 0M202.2 623.4a0.8 0.8 0 1 0 1.6 0a0.8 0.8 0 1 0 -1.6 0M221.1 621.3a0.8 0.8 0 1 0 1.6 0a0.8 0.8 0 1 0 -1.6 0M237.9 649.5a1.0 1.0 0 1 0 2.0 0a1.0 1.0 0 1 0 -2.0 0M166.8 594.7a0.7 0.7 0 1 0 1.3 0a0.7 0.7 0 1 0 -1.3 0M199.5 591.6a0.5 0.5 0 1 0 1.1 0a0.5 0.5 0 1 0 -1.1 0M251.8 580.2a1.0 1.0 0 1 0 2.0 0a1.0 1.0 0 1 0 -2.0 0M244.5 593.6a0.6 0.6 0 1 0 1.1 0a0.6 0.6 0 1 0 -1.1 0M209.7 601.9a0.4 0.4 0 1 0 0.9 0a0.4 0.4 0 1 0 -0.9 0M240.6 649.1a0.8 0.8 0 1 0 1.7 0a0.8 0.8 0 1 0 -1.7 0M204.0 650.0a0.6 0.6 0 1 0 1.1 0a0.6 0.6 0 1 0 -1.1 0M155.4 647.2a0.8 0.8 0 1 0 1.6 0a0.8 0.8 0 1 0 -1.6 0M220.6 640.4a1.0 1.0 0 1 0 2.0 0a1.0 1.0 0 1 0 -2.0 0M235.2 639.3a0.5 0.5 0 1 0 1.1 0a0.5 0.5 0 1 0 -1.1 0M251.6 593.6a0.8 0.8 0 1 0 1.6 0a0.8 0.8 0 1 0 -1.6 0M234.0 639.7a1.0 1.0 0 1 0 2.0 0a1.0 1.0 0 1 0 -2.0 0M243.7 640.1a0.7 0.7 0 1 0 1.5 0a0.7 0.7 0 1 0 -1.5 0M205.4 646.9a1.2 1.2 0 1 0 2.3 0a1.2 1.2 0 1 0 -2.3 0M204.5 649.0a0.5 0.5 0 1 0 1.1 0a0.5 0.5 0 1 0 -1.1 0M175.9 646.9a0.7 0.7 0 1 0 1.3 0a0.7 0.7 0 1 0 -1.3 0M160.2 584.1a0.4 0.4 0 1 0 0.8 0a0.4 0.4 0 1 0 -0.8 0M244.3 622.7a0.5 0.5 0 1 0 0.9 0a0.5 0.5 0 1 0 -0.9 0M153.9 601.9a0.5 0.5 0 1 0 0.9 0a0.5 0.5 0 1 0 -0.9 0M168.3 577.5a0.6 0.6 0 1 0 1.1 0a0.6 0.6 0 1 0 -1.1 0M228.8 632.0a0.6 0.6 0 1 0 1.3 0a0.6 0.6 0 1 0 -1.3 0M248.4 594.4a1.0 1.0 0 1 0 1.9 0a1.0 1.0 0 1 0 -1.9 0M175.8 624.7a0.6 0.6 0 1 0 1.3 0a0.6 0.6 0 1 0 -1.3 0M249.4 586.1a1.1 1.1 0 1 0 2.2 0a1.1 1.1 0 1 0 -2.2 0M179.0 608.4a1.0 1.0 0 1 0 2.0 0a1.0 1.0 0 1 0 -2.0 0M171.5 581.7a0.7 0.7 0 1 0 1.3 0a0.7 0.7 0 1 0 -1.3 0M197.8 583.1a0.5 0.5 0 1 0 0.9 0a0.5 0.5 0 1 0 -0.9 0M243.9 606.3a1.2 1.2 0 1 0 2.4 0a1.2 1.2 0 1 0 -2.4 0M198.0 634.6a0.8 0.8 0 1 0 1.6 0a0.8 0.8 0 1 0 -1.6 0M212.5 605.1a0.7 0.7 0 1 0 1.4 0a0.7 0.7 0 1 0 -1.4 0M252.6 617.6a0.4 0.4 0 1 0 0.9 0a0.4 0.4 0 1 0 -0.9 0M156.8 591.2a0.9 0.9 0 1 0 1.8 0a0.9 0.9 0 1 0 -1.8 0M163.2 603.4a0.5 0.5 0 1 0 1.1 0a0.5 0.5 0 1 0 -1.1 0" fill="#e8a49e" opacity="0.8"/>
<path d="M227.5 612.2a0.8 0.8 0 1 0 1.5 0a0.8 0.8 0 1 0 -1.5 0M189.1 588.8a0.8 0.8 0 1 0 1.6 0a0.8 0.8 0 1 0 -1.6 0M203.5 581.3a1.2 1.2 0 1 0 2.3 0a1.2 1.2 0 1 0 -2.3 0M178.3 579.7a0.8 0.8 0 1 0 1.6 0a0.8 0.8 0 1 0 -1.6 0M171.4 631.7a1.2 1.2 0 1 0 2.3 0a1.2 1.2 0 1 0 -2.3 0M233.2 649.3a0.6 0.6 0 1 0 1.2 0a0.6 0.6 0 1 0 -1.2 0M197.4 595.7a1.0 1.0 0 1 0 2.0 0a1.0 1.0 0 1 0 -2.0 0M216.5 614.2a0.9 0.9 0 1 0 1.8 0a0.9 0.9 0 1 0 -1.8 0M243.7 584.5a0.4 0.4 0 1 0 0.7 0a0.4 0.4 0 1 0 -0.7 0M171.6 603.0a0.7 0.7 0 1 0 1.3 0a0.7 0.7 0 1 0 -1.3 0M228.7 588.7a0.8 0.8 0 1 0 1.6 0a0.8 0.8 0 1 0 -1.6 0M168.9 641.4a0.6 0.6 0 1 0 1.2 0a0.6 0.6 0 1 0 -1.2 0M160.2 610.3a0.7 0.7 0 1 0 1.3 0a0.7 0.7 0 1 0 -1.3 0M219.4 581.3a1.1 1.1 0 1 0 2.1 0a1.1 1.1 0 1 0 -2.1 0M246.6 614.0a0.9 0.9 0 1 0 1.8 0a0.9 0.9 0 1 0 -1.8 0M183.6 609.3a0.4 0.4 0 1 0 0.7 0a0.4 0.4 0 1 0 -0.7 0M230.1 577.3a0.6 0.6 0 1 0 1.3 0a0.6 0.6 0 1 0 -1.3 0M205.1 596.1a1.1 1.1 0 1 0 2.3 0a1.1 1.1 0 1 0 -2.3 0M154.2 627.7a0.4 0.4 0 1 0 0.9 0a0.4 0.4 0 1 0 -0.9 0M196.4 634.9a0.7 0.7 0 1 0 1.3 0a0.7 0.7 0 1 0 -1.3 0M206.9 608.6a1.1 1.1 0 1 0 2.2 0a1.1 1.1 0 1 0 -2.2 0M158.8 628.4a0.8 0.8 0 1 0 1.5 0a0.8 0.8 0 1 0 -1.5 0M154.7 613.1a0.7 0.7 0 1 0 1.3 0a0.7 0.7 0 1 0 -1.3 0M228.3 579.5a0.6 0.6 0 1 0 1.2 0a0.6 0.6 0 1 0 -1.2 0M222.1 595.0a1.2 1.2 0 1 0 2.3 0a1.2 1.2 0 1 0 -2.3 0M166.4 628.9a0.8 0.8 0 1 0 1.7 0a0.8 0.8 0 1 0 -1.7 0M202.1 648.8a1.1 1.1 0 1 0 2.3 0a1.1 1.1 0 1 0 -2.3 0M242.9 647.3a1.2 1.2 0 1 0 2.4 0a1.2 1.2 0 1 0 -2.4 0M183.4 626.8a0.7 0.7 0 1 0 1.5 0a0.7 0.7 0 1 0 -1.5 0M252.6 598.5a0.9 0.9 0 1 0 1.7 0a0.9 0.9 0 1 0 -1.7 0M202.2 639.0a1.1 1.1 0 1 0 2.1 0a1.1 1.1 0 1 0 -2.1 0M245.3 625.7a1.0 1.0 0 1 0 2.1 0a1.0 1.0 0 1 0 -2.1 0M235.3 607.7a0.9 0.9 0 1 0 1.7 0a0.9 0.9 0 1 0 -1.7 0M157.5 644.3a0.6 0.6 0 1 0 1.2 0a0.6 0.6 0 1 0 -1.2 0M208.6 594.9a0.7 0.7 0 1 0 1.4 0a0.7 0.7 0 1 0 -1.4 0M242.0 595.0a0.9 0.9 0 1 0 1.7 0a0.9 0.9 0 1 0 -1.7 0M183.8 632.6a0.7 0.7 0 1 0 1.4 0a0.7 0.7 0 1 0 -1.4 0M238.4 595.2a0.6 0.6 0 1 0 1.2 0a0.6 0.6 0 1 0 -1.2 0M249.8 647.8a0.6 0.6 0 1 0 1.2 0a0.6 0.6 0 1 0 -1.2 0M160.5 585.2a0.7 0.7 0 1 0 1.4 0a0.7 0.7 0 1 0 -1.4 0M234.4 622.2a0.8 0.8 0 1 0 1.7 0a0.8 0.8 0 1 0 -1.7 0M219.3 646.3a0.8 0.8 0 1 0 1.5 0a0.8 0.8 0 1 0 -1.5 0M189.9 630.2a0.4 0.4 0 1 0 0.8 0a0.4 0.4 0 1 0 -0.8 0M230.9 578.2a1.1 1.1 0 1 0 2.2 0a1.1 1.1 0 1 0 -2.2 0M247.2 591.3a0.9 0.9 0 1 0 1.7 0a0.9 0.9 0 1 0 -1.7 0M243.6 576.0a0.8 0.8 0 1 0 1.6 0a0.8 0.8 0 1 0 -1.6 0M217.4 640.0a1.0 1.0 0 1 0 2.1 0a1.0 1.0 0 1 0 -2.1 0M182.7 632.1a0.8 0.8 0 1 0 1.5 0a0.8 0.8 0 1 0 -1.5 0M176.7 586.8a0.8 0.8 0 1 0 1.7 0a0.8 0.8 0 1 0 -1.7 0M211.0 631.0a0.6 0.6 0 1 0 1.1 0a0.6 0.6 0 1 0 -1.1 0M170.0 619.8a1.0 1.0 0 1 0 2.0 0a1.0 1.0 0 1 0 -2.0 0M190.5 632.6a1.1 1.1 0 1 0 2.2 0a1.1 1.1 0 1 0 -2.2 0M195.4 601.7a1.0 1.0 0 1 0 2.1 0a1.0 1.0 0 1 0 -2.1 0M158.1 593.9a0.5 0.5 0 1 0 0.9 0a0.5 0.5 0 1 0 -0.9 0M169.2 608.8a0.4 0.4 0 1 0 0.8 0a0.4 0.4 0 1 0 -0.8 0M234.9 626.1a0.8 0.8 0 1 0 1.6 0a0.8 0.8 0 1 0 -1.6 0M151.4 630.6a1.0 1.0 0 1 0 2.1 0a1.0 1.0 0 1 0 -2.1 0M230.2 584.2a1.1 1.1 0 1 0 2.2 0a1.1 1.1 0 1 0 -2.2 0M176.6 600.9a0.4 0.4 0 1 0 0.7 0a0.4 0.4 0 1 0 -0.7 0M242.5 629.3a0.9 0.9 0 1 0 1.8 0a0.9 0.9 0 1 0 -1.8 0M219.9 596.3a0.6 0.6 0 1 0 1.1 0a0.6 0.6 0 1 0 -1.1 0M237.2 648.4a0.9 0.9 0 1 0 1.7 0a0.9 0.9 0 1 0 -1.7 0M238.3 579.0a0.6 0.6 0 1 0 1.1 0a0.6 0.6 0 1 0 -1.1 0M176.0 642.8a1.0 1.0 0 1 0 2.0 0a1.0 1.0 0 1 0 -2.0 0M218.6 609.5a1.0 1.0 0 1 0 2.0 0a1.0 1.0 0 1 0 -2.0 0M222.0 646.5a0.8 0.8 0 1 0 1.7 0a0.8 0.8 0 1 0 -1.7 0M201.7 647.6a0.9 0.9 0 1 0 1.8 0a0.9 0.9 0 1 0 -1.8 0M177.0 634.3a0.9 0.9 0 1 0 1.9 0a0.9 0.9 0 1 0 -1.9 0M162.4 620.2a0.5 0.5 0 1 0 1.1 0a0.5 0.5 0 1 0 -1.1 0M176.0 596.0a0.9 0.9 0 1 0 1.8 0a0.9 0.9 0 1 0 -1.8 0M225.8 639.2a1.0 1.0 0 1 0 2.0 0a1.0 1.0 0 1 0 -2.0 0M211.7 588.1a0.8 0.8 0 1 0 1.6 0a0.8 0.8 0 1 0 -1.6 0M226.0 598.9a0.6 0.6 0 1 0 1.1 0a0.6 0.6 0 1 0 -1.1 0M168.3 608.5a0.4 0.4 0 1 0 0.8 0a0.4 0.4 0 1 0 -0.8 0M244.9 593.8a0.8 0.8 0 1 0 1.6 0a0.8 0.8 0 1 0 -1.6 0M161.1 580.3a0.9 0.9 0 1 0 1.8 0a0.9 0.9 0 1 0 -1.8 0M228.6 611.6a0.5 0.5 0 1 0 1.1 0a0.5 0.5 0 1 0 -1.1 0M216.4 627.8a0.8 0.8 0 1 0 1.6 0a0.8 0.8 0 1 0 -1.6 0M243.6 580.2a0.6 0.6 0 1 0 1.2 0a0.6 0.6 0 1 0 -1.2 0M231.1 597.1a0.7 0.7 0 1 0 1.4 0a0.7 0.7 0 1 0 -1.4 0M229.8 583.7a0.7 0.7 0 1 0 1.3 0a0.7 0.7 0 1 0 -1.3 0M212.7 616.7a0.4 0.4 0 1 0 0.9 0a0.4 0.4 0 1 0 -0.9 0M195.6 633.2a1.2 1.2 0 1 0 2.3 0a1.2 1.2 0 1 0 -2.3 0M166.1 622.1a1.0 1.0 0 1 0 1.9 0a1.0 1.0 0 1 0 -1.9 0M231.2 590.2a0.4 0.4 0 1 0 0.8 0a0.4 0.4 0 1 0 -0.8 0M154.9 596.9a1.1 1.1 0 1 0 2.2 0a1.1 1.1 0 1 0 -2.2 0M190.1 592.5a0.6 0.6 0 1 0 1.2 0a0.6 0.6 0 1 0 -1.2 0M228.9 648.5a0.8 0.8 0 1 0 1.5 0a0.8 0.8 0 1 0 -1.5 0M162.6 644.0a1.0 1.0 0 1 0 2.0 0a1.0 1.0 0 1 0 -2.0 0M212.8 615.4a0.4 0.4 0 1 0 0.8 0a0.4 0.4 0 1 0 -0.8 0M186.2 606.0a0.7 0.7 0 1 0 1.5 0a0.7 0.7 0 1 0 -1.5 0M237.9 616.4a1.0 1.0 0 1 0 2.0 0a1.0 1.0 0 1 0 -2.0 0M192.3 600.0a0.7 0.7 0 1 0 1.4 0a0.7 0.7 0 1 0 -1.4 0M208.3 645.1a0.5 0.5 0 1 0 1.0 0a0.5 0.5 0 1 0 -1.0 0M183.9 632.3a0.7 0.7 0 1 0 1.3 0a0.7 0.7 0 1 0 -1.3 0M164.6 647.6a0.6 0.6 0 1 0 1.3 0a0.6 0.6 0 1 0 -1.3 0M224.1 603.3a0.5 0.5 0 1 0 1.1 0a0.5 0.5 0 1 0 -1.1 0M240.4 603.7a0.8 0.8 0 1 0 1.6 0a0.8 0.8 0 1 0 -1.6 0M216.6 580.9a0.8 0.8 0 1 0 1.6 0a0.8 0.8 0 1 0 -1.6 0M165.4 611.4a0.6 0.6 0 1 0 1.3 0a0.6 0.6 0 1 0 -1.3 0M167.5 634.4a0.4 0.4 0 1 0 0.8 0a0.4 0.4 0 1 0 -0.8 0M186.4 638.7a0.9 0.9 0 1 0 1.8 0a0.9 0.9 0 1 0 -1.8 0M185.3 614.9a1.2 1.2 0 1 0 2.3 0a1.2 1.2 0 1 0 -2.3 0M249.1 586.6a0.8 0.8 0 1 0 1.6 0a0.8 0.8 0 1 0 -1.6 0M229.4 606.9a0.8 0.8 0 1 0 1.7 0a0.8 0.8 0 1 0 -1.7 0M167.7 643.6a0.7 0.7 0 1 0 1.4 0a0.7 0.7 0 1 0 -1.4 0M215.4 632.9a0.4 0.4 0 1 0 0.7 0a0.4 0.4 0 1 0 -0.7 0M215.6 604.9a1.0 1.0 0 1 0 2.1 0a1.0 1.0 0 1 0 -2.1 0M234.2 617.8a0.9 0.9 0 1 0 1.9 0a0.9 0.9 0 1 0 -1.9 0M182.7 606.6a1.0 1.0 0 1 0 1.9 0a1.0 1.0 0 1 0 -1.9 0M159.2 633.0a1.0 1.0 0 1 0 2.0 0a1.0 1.0 0 1 0 -2.0 0M227.0 647.2a0.9 0.9 0 1 0 1.9 0a0.9 0.9 0 1 0 -1.9 0M187.4 583.1a0.8 0.8 0 1 0 1.7 0a0.8 0.8 0 1 0 -1.7 0M163.3 644.2a0.9 0.9 0 1 0 1.9 0a0.9 0.9 0 1 0 -1.9 0M223.5 645.3a0.8 0.8 0 1 0 1.6 0a0.8 0.8 0 1 0 -1.6 0M248.6 581.2a1.0 1.0 0 1 0 2.0 0a1.0 1.0 0 1 0 -2.0 0M246.2 644.6a0.4 0.4 0 1 0 0.8 0a0.4 0.4 0 1 0 -0.8 0M250.0 631.1a0.8 0.8 0 1 0 1.6 0a0.8 0.8 0 1 0 -1.6 0M245.8 576.1a0.8 0.8 0 1 0 1.6 0a0.8 0.8 0 1 0 -1.6 0M167.4 581.9a0.4 0.4 0 1 0 0.9 0a0.4 0.4 0 1 0 -0.9 0M160.0 577.4a0.7 0.7 0 1 0 1.3 0a0.7 0.7 0 1 0 -1.3 0M219.5 647.8a0.9 0.9 0 1 0 1.8 0a0.9 0.9 0 1 0 -1.8 0M159.8 636.6a1.1 1.1 0 1 0 2.3 0a1.1 1.1 0 1 0 -2.3 0M244.3 576.9a1.0 1.0 0 1 0 1.9 0a1.0 1.0 0 1 0 -1.9 0M171.6 604.1a0.9 0.9 0 1 0 1.7 0a0.9 0.9 0 1 0 -1.7 0M186.0 590.6a0.5 0.5 0 1 0 1.1 0a0.5 0.5 0 1 0 -1.1 0M246.9 575.3a1.0 1.0 0 1 0 1.9 0a1.0 1.0 0 1 0 -1.9 0M161.5 583.7a0.9 0.9 0 1 0 1.8 0a0.9 0.9 0 1 0 -1.8 0M241.2 634.8a0.9 0.9 0 1 0 1.8 0a0.9 0.9 0 1 0 -1.8 0M167.5 624.6a1.2 1.2 0 1 0 2.4 0a1.2 1.2 0 1 0 -2.4 0M232.4 640.9a0.6 0.6 0 1 0 1.2 0a0.6 0.6 0 1 0 -1.2 0M165.2 589.8a0.9 0.9 0 1 0 1.8 0a0.9 0.9 0 1 0 -1.8 0M180.2 633.3a0.6 0.6 0 1 0 1.2 0a0.6 0.6 0 1 0 -1.2 0M169.1 648.6a1.1 1.1 0 1 0 2.3 0a1.1 1.1 0 1 0 -2.3 0M175.5 644.1a1.2 1.2 0 1 0 2.3 0a1.2 1.2 0 1 0 -2.3 0M169.4 596.5a0.5 0.5 0 1 0 1.1 0a0.5 0.5 0 1 0 -1.1 0M187.5 605.0a0.6 0.6 0 1 0 1.2 0a0.6 0.6 0 1 0 -1.2 0M247.6 634.8a1.0 1.0 0 1 0 2.1 0a1.0 1.0 0 1 0 -2.1 0M226.9 621.2a0.8 0.8 0 1 0 1.6 0a0.8 0.8 0 1 0 -1.6 0M157.8 583.7a0.7 0.7 0 1 0 1.4 0a0.7 0.7 0 1 0 -1.4 0M196.5 637.1a0.6 0.6 0 1 0 1.2 0a0.6 0.6 0 1 0 -1.2 0M227.4 611.4a1.0 1.0 0 1 0 2.1 0a1.0 1.0 0 1 0 -2.1 0M250.5 626.0a0.9 0.9 0 1 0 1.7 0a0.9 0.9 0 1 0 -1.7 0M213.9 617.4a1.1 1.1 0 1 0 2.2 0a1.1 1.1 0 1 0 -2.2 0M155.6 590.3a0.4 0.4 0 1 0 0.8 0a0.4 0.4 0 1 0 -0.8 0M181.7 635.3a0.4 0.4 0 1 0 0.8 0a0.4 0.4 0 1 0 -0.8 0M209.1 617.4a0.6 0.6 0 1 0 1.1 0a0.6 0.6 0 1 0 -1.1 0M182.3 650.1a0.5 0.5 0 1 0 0.9 0a0.5 0.5 0 1 0 -0.9 0M158.3 579.0a0.4 0.4 0 1 0 0.9 0a0.4 0.4 0 1 0 -0.9 0M165.3 630.5a0.5 0.5 0 1 0 1.0 0a0.5 0.5 0 1 0 -1.0 0M176.0 583.8a0.5 0.5 0 1 0 1.0 0a0.5 0.5 0 1 0 -1.0 0M193.8 635.2a0.6 0.6 0 1 0 1.1 0a0.6 0.6 0 1 0 -1.1 0M242.9 636.1a0.6 0.6 0 1 0 1.2 0a0.6 0.6 0 1 0 -1.2 0M214.3 647.0a0.7 0.7 0 1 0 1.5 0a0.7 0.7 0 1 0 -1.5 0M212.1 636.1a0.4 0.4 0 1 0 0.9 0a0.4 0.4 0 1 0 -0.9 0M166.1 617.3a0.8 0.8 0 1 0 1.5 0a0.8 0.8 0 1 0 -1.5 0M242.1 580.9a0.9 0.9 0 1 0 1.8 0a0.9 0.9 0 1 0 -1.8 0M185.3 581.0a0.6 0.6 0 1 0 1.2 0a0.6 0.6 0 1 0 -1.2 0M160.2 576.8a0.9 0.9 0 1 0 1.7 0a0.9 0.9 0 1 0 -1.7 0M190.7 583.3a1.0 1.0 0 1 0 2.0 0a1.0 1.0 0 1 0 -2.0 0M184.0 645.3a0.9 0.9 0 1 0 1.8 0a0.9 0.9 0 1 0 -1.8 0" fill="#c23e3e" opacity="0.8"/>
<path d="M165.2 580.9a1.1 1.1 0 1 0 2.2 0a1.1 1.1 0 1 0 -2.2 0M190.2 635.6a1.0 1.0 0 1 0 1.9 0a1.0 1.0 0 1 0 -1.9 0M210.3 636.0a0.8 0.8 0 1 0 1.6 0a0.8 0.8 0 1 0 -1.6 0M188.9 584.4a0.6 0.6 0 1 0 1.2 0a0.6 0.6 0 1 0 -1.2 0M155.3 623.2a0.7 0.7 0 1 0 1.5 0a0.7 0.7 0 1 0 -1.5 0M195.5 590.7a1.0 1.0 0 1 0 1.9 0a1.0 1.0 0 1 0 -1.9 0M220.0 637.5a0.7 0.7 0 1 0 1.5 0a0.7 0.7 0 1 0 -1.5 0M169.2 584.8a1.0 1.0 0 1 0 2.0 0a1.0 1.0 0 1 0 -2.0 0M157.0 608.8a0.4 0.4 0 1 0 0.8 0a0.4 0.4 0 1 0 -0.8 0M198.5 606.8a0.7 0.7 0 1 0 1.5 0a0.7 0.7 0 1 0 -1.5 0M231.5 633.9a1.0 1.0 0 1 0 2.0 0a1.0 1.0 0 1 0 -2.0 0M178.0 578.2a0.7 0.7 0 1 0 1.3 0a0.7 0.7 0 1 0 -1.3 0M193.9 648.7a0.4 0.4 0 1 0 0.7 0a0.4 0.4 0 1 0 -0.7 0M229.5 618.2a0.8 0.8 0 1 0 1.6 0a0.8 0.8 0 1 0 -1.6 0M249.1 634.2a0.6 0.6 0 1 0 1.2 0a0.6 0.6 0 1 0 -1.2 0M250.1 638.7a0.8 0.8 0 1 0 1.6 0a0.8 0.8 0 1 0 -1.6 0M226.3 589.8a0.7 0.7 0 1 0 1.3 0a0.7 0.7 0 1 0 -1.3 0M231.1 631.8a0.6 0.6 0 1 0 1.1 0a0.6 0.6 0 1 0 -1.1 0M196.7 623.0a0.5 0.5 0 1 0 0.9 0a0.5 0.5 0 1 0 -0.9 0M252.5 593.6a0.9 0.9 0 1 0 1.8 0a0.9 0.9 0 1 0 -1.8 0M162.4 634.3a1.1 1.1 0 1 0 2.2 0a1.1 1.1 0 1 0 -2.2 0M225.7 583.3a0.8 0.8 0 1 0 1.6 0a0.8 0.8 0 1 0 -1.6 0M227.2 650.0a0.5 0.5 0 1 0 1.1 0a0.5 0.5 0 1 0 -1.1 0M224.2 575.0a1.1 1.1 0 1 0 2.2 0a1.1 1.1 0 1 0 -2.2 0M184.2 600.7a0.8 0.8 0 1 0 1.7 0a0.8 0.8 0 1 0 -1.7 0M221.0 609.1a0.5 0.5 0 1 0 0.9 0a0.5 0.5 0 1 0 -0.9 0M200.3 628.5a0.8 0.8 0 1 0 1.7 0a0.8 0.8 0 1 0 -1.7 0M154.7 614.9a1.1 1.1 0 1 0 2.3 0a1.1 1.1 0 1 0 -2.3 0M165.2 601.9a0.8 0.8 0 1 0 1.5 0a0.8 0.8 0 1 0 -1.5 0M198.8 637.6a0.6 0.6 0 1 0 1.1 0a0.6 0.6 0 1 0 -1.1 0M184.1 597.8a0.5 0.5 0 1 0 1.1 0a0.5 0.5 0 1 0 -1.1 0M249.1 605.5a0.8 0.8 0 1 0 1.6 0a0.8 0.8 0 1 0 -1.6 0M241.0 615.6a0.5 0.5 0 1 0 0.9 0a0.5 0.5 0 1 0 -0.9 0M155.6 592.6a0.6 0.6 0 1 0 1.3 0a0.6 0.6 0 1 0 -1.3 0M170.1 621.0a0.9 0.9 0 1 0 1.8 0a0.9 0.9 0 1 0 -1.8 0M228.6 596.8a0.8 0.8 0 1 0 1.5 0a0.8 0.8 0 1 0 -1.5 0M238.6 587.6a0.4 0.4 0 1 0 0.8 0a0.4 0.4 0 1 0 -0.8 0M185.3 604.2a0.6 0.6 0 1 0 1.2 0a0.6 0.6 0 1 0 -1.2 0M179.1 585.6a1.0 1.0 0 1 0 2.0 0a1.0 1.0 0 1 0 -2.0 0M217.1 636.6a0.4 0.4 0 1 0 0.9 0a0.4 0.4 0 1 0 -0.9 0M195.7 595.3a0.5 0.5 0 1 0 0.9 0a0.5 0.5 0 1 0 -0.9 0M247.2 607.3a1.2 1.2 0 1 0 2.3 0a1.2 1.2 0 1 0 -2.3 0M252.1 592.0a0.8 0.8 0 1 0 1.5 0a0.8 0.8 0 1 0 -1.5 0M177.7 646.3a0.6 0.6 0 1 0 1.1 0a0.6 0.6 0 1 0 -1.1 0M179.3 631.3a1.0 1.0 0 1 0 2.0 0a1.0 1.0 0 1 0 -2.0 0M172.2 630.5a0.5 0.5 0 1 0 1.0 0a0.5 0.5 0 1 0 -1.0 0M166.3 625.6a0.8 0.8 0 1 0 1.6 0a0.8 0.8 0 1 0 -1.6 0M176.1 637.6a0.6 0.6 0 1 0 1.3 0a0.6 0.6 0 1 0 -1.3 0M209.8 648.0a0.6 0.6 0 1 0 1.1 0a0.6 0.6 0 1 0 -1.1 0M244.5 634.3a0.6 0.6 0 1 0 1.2 0a0.6 0.6 0 1 0 -1.2 0M239.1 631.5a0.8 0.8 0 1 0 1.6 0a0.8 0.8 0 1 0 -1.6 0M216.2 584.8a0.7 0.7 0 1 0 1.4 0a0.7 0.7 0 1 0 -1.4 0M182.7 612.2a0.5 0.5 0 1 0 1.0 0a0.5 0.5 0 1 0 -1.0 0M193.4 598.7a0.5 0.5 0 1 0 0.9 0a0.5 0.5 0 1 0 -0.9 0M229.3 603.4a0.9 0.9 0 1 0 1.8 0a0.9 0.9 0 1 0 -1.8 0M195.3 637.2a0.9 0.9 0 1 0 1.7 0a0.9 0.9 0 1 0 -1.7 0M183.0 637.5a0.6 0.6 0 1 0 1.2 0a0.6 0.6 0 1 0 -1.2 0M204.6 590.9a1.1 1.1 0 1 0 2.2 0a1.1 1.1 0 1 0 -2.2 0M186.5 629.1a0.4 0.4 0 1 0 0.9 0a0.4 0.4 0 1 0 -0.9 0M202.1 600.2a1.0 1.0 0 1 0 2.0 0a1.0 1.0 0 1 0 -2.0 0M223.7 591.6a0.4 0.4 0 1 0 0.9 0a0.4 0.4 0 1 0 -0.9 0M204.6 574.9a0.6 0.6 0 1 0 1.1 0a0.6 0.6 0 1 0 -1.1 0M197.5 604.9a0.5 0.5 0 1 0 1.1 0a0.5 0.5 0 1 0 -1.1 0M169.3 594.9a0.5 0.5 0 1 0 0.9 0a0.5 0.5 0 1 0 -0.9 0M180.7 632.4a1.1 1.1 0 1 0 2.3 0a1.1 1.1 0 1 0 -2.3 0M188.6 643.2a0.9 0.9 0 1 0 1.8 0a0.9 0.9 0 1 0 -1.8 0M195.6 613.4a0.7 0.7 0 1 0 1.4 0a0.7 0.7 0 1 0 -1.4 0M196.8 616.2a0.6 0.6 0 1 0 1.2 0a0.6 0.6 0 1 0 -1.2 0M192.0 593.0a0.6 0.6 0 1 0 1.1 0a0.6 0.6 0 1 0 -1.1 0M169.7 615.1a0.6 0.6 0 1 0 1.2 0a0.6 0.6 0 1 0 -1.2 0M176.1 581.1a0.5 0.5 0 1 0 1.1 0a0.5 0.5 0 1 0 -1.1 0M158.8 639.8a1.1 1.1 0 1 0 2.2 0a1.1 1.1 0 1 0 -2.2 0M171.2 588.5a0.7 0.7 0 1 0 1.5 0a0.7 0.7 0 1 0 -1.5 0M204.4 608.6a0.6 0.6 0 1 0 1.2 0a0.6 0.6 0 1 0 -1.2 0M172.6 636.6a1.2 1.2 0 1 0 2.3 0a1.2 1.2 0 1 0 -2.3 0M213.4 617.5a0.9 0.9 0 1 0 1.9 0a0.9 0.9 0 1 0 -1.9 0M205.4 596.6a0.8 0.8 0 1 0 1.7 0a0.8 0.8 0 1 0 -1.7 0M185.4 622.6a1.2 1.2 0 1 0 2.3 0a1.2 1.2 0 1 0 -2.3 0M230.1 588.3a0.6 0.6 0 1 0 1.2 0a0.6 0.6 0 1 0 -1.2 0M236.2 611.9a0.9 0.9 0 1 0 1.8 0a0.9 0.9 0 1 0 -1.8 0M178.2 599.7a0.5 0.5 0 1 0 1.0 0a0.5 0.5 0 1 0 -1.0 0M158.4 597.5a0.4 0.4 0 1 0 0.7 0a0.4 0.4 0 1 0 -0.7 0M163.9 639.5a0.6 0.6 0 1 0 1.2 0a0.6 0.6 0 1 0 -1.2 0M191.4 633.1a1.1 1.1 0 1 0 2.3 0a1.1 1.1 0 1 0 -2.3 0M180.6 600.5a1.0 1.0 0 1 0 2.0 0a1.0 1.0 0 1 0 -2.0 0M164.2 628.8a1.0 1.0 0 1 0 2.0 0a1.0 1.0 0 1 0 -2.0 0M161.7 636.5a0.6 0.6 0 1 0 1.2 0a0.6 0.6 0 1 0 -1.2 0M197.3 616.5a0.6 0.6 0 1 0 1.2 0a0.6 0.6 0 1 0 -1.2 0M155.4 623.4a1.2 1.2 0 1 0 2.3 0a1.2 1.2 0 1 0 -2.3 0M206.7 620.8a1.0 1.0 0 1 0 2.1 0a1.0 1.0 0 1 0 -2.1 0M196.9 591.3a0.6 0.6 0 1 0 1.1 0a0.6 0.6 0 1 0 -1.1 0M157.7 648.4a1.0 1.0 0 1 0 2.0 0a1.0 1.0 0 1 0 -2.0 0M247.1 647.9a0.5 0.5 0 1 0 1.0 0a0.5 0.5 0 1 0 -1.0 0M167.7 609.0a0.8 0.8 0 1 0 1.5 0a0.8 0.8 0 1 0 -1.5 0M172.1 607.6a1.1 1.1 0 1 0 2.1 0a1.1 1.1 0 1 0 -2.1 0M196.7 648.3a0.4 0.4 0 1 0 0.7 0a0.4 0.4 0 1 0 -0.7 0M252.2 584.4a0.5 0.5 0 1 0 1.0 0a0.5 0.5 0 1 0 -1.0 0M207.6 645.8a0.4 0.4 0 1 0 0.8 0a0.4 0.4 0 1 0 -0.8 0M169.3 590.8a0.4 0.4 0 1 0 0.9 0a0.4 0.4 0 1 0 -0.9 0M182.4 603.9a1.2 1.2 0 1 0 2.4 0a1.2 1.2 0 1 0 -2.4 0M240.6 648.5a0.9 0.9 0 1 0 1.7 0a0.9 0.9 0 1 0 -1.7 0M192.4 642.6a0.7 0.7 0 1 0 1.5 0a0.7 0.7 0 1 0 -1.5 0M182.5 600.5a0.8 0.8 0 1 0 1.5 0a0.8 0.8 0 1 0 -1.5 0M205.2 623.0a0.6 0.6 0 1 0 1.2 0a0.6 0.6 0 1 0 -1.2 0M167.0 587.0a1.1 1.1 0 1 0 2.2 0a1.1 1.1 0 1 0 -2.2 0M153.8 576.1a0.7 0.7 0 1 0 1.3 0a0.7 0.7 0 1 0 -1.3 0M244.1 596.9a1.0 1.0 0 1 0 2.0 0a1.0 1.0 0 1 0 -2.0 0M198.6 642.6a1.1 1.1 0 1 0 2.1 0a1.1 1.1 0 1 0 -2.1 0M167.5 621.6a0.5 0.5 0 1 0 1.1 0a0.5 0.5 0 1 0 -1.1 0M250.5 593.5a0.8 0.8 0 1 0 1.5 0a0.8 0.8 0 1 0 -1.5 0M233.8 632.4a0.9 0.9 0 1 0 1.8 0a0.9 0.9 0 1 0 -1.8 0M200.3 639.4a1.2 1.2 0 1 0 2.4 0a1.2 1.2 0 1 0 -2.4 0M185.5 586.1a0.7 0.7 0 1 0 1.4 0a0.7 0.7 0 1 0 -1.4 0M222.0 597.4a1.2 1.2 0 1 0 2.4 0a1.2 1.2 0 1 0 -2.4 0M242.0 638.6a0.5 0.5 0 1 0 0.9 0a0.5 0.5 0 1 0 -0.9 0M225.1 578.3a0.5 0.5 0 1 0 1.0 0a0.5 0.5 0 1 0 -1.0 0M208.1 608.9a0.7 0.7 0 1 0 1.4 0a0.7 0.7 0 1 0 -1.4 0M193.3 584.2a0.6 0.6 0 1 0 1.2 0a0.6 0.6 0 1 0 -1.2 0M189.4 581.6a1.0 1.0 0 1 0 2.0 0a1.0 1.0 0 1 0 -2.0 0M252.2 586.4a0.9 0.9 0 1 0 1.8 0a0.9 0.9 0 1 0 -1.8 0M180.5 607.1a1.2 1.2 0 1 0 2.3 0a1.2 1.2 0 1 0 -2.3 0M252.0 600.6a0.9 0.9 0 1 0 1.7 0a0.9 0.9 0 1 0 -1.7 0M167.8 632.0a0.7 0.7 0 1 0 1.4 0a0.7 0.7 0 1 0 -1.4 0M190.3 602.4a1.1 1.1 0 1 0 2.2 0a1.1 1.1 0 1 0 -2.2 0M183.9 576.4a1.1 1.1 0 1 0 2.1 0a1.1 1.1 0 1 0 -2.1 0M187.7 587.7a0.8 0.8 0 1 0 1.6 0a0.8 0.8 0 1 0 -1.6 0M251.2 579.2a0.6 0.6 0 1 0 1.3 0a0.6 0.6 0 1 0 -1.3 0M191.8 578.6a0.9 0.9 0 1 0 1.8 0a0.9 0.9 0 1 0 -1.8 0M234.6 635.6a0.9 0.9 0 1 0 1.9 0a0.9 0.9 0 1 0 -1.9 0M239.4 632.1a1.2 1.2 0 1 0 2.4 0a1.2 1.2 0 1 0 -2.4 0M211.0 622.4a0.6 0.6 0 1 0 1.1 0a0.6 0.6 0 1 0 -1.1 0M209.9 644.0a0.7 0.7 0 1 0 1.4 0a0.7 0.7 0 1 0 -1.4 0M222.3 625.0a0.4 0.4 0 1 0 0.8 0a0.4 0.4 0 1 0 -0.8 0M158.9 647.3a1.0 1.0 0 1 0 1.9 0a1.0 1.0 0 1 0 -1.9 0M233.0 580.3a1.1 1.1 0 1 0 2.2 0a1.1 1.1 0 1 0 -2.2 0M185.3 614.2a0.9 0.9 0 1 0 1.9 0a0.9 0.9 0 1 0 -1.9 0M209.7 580.3a0.6 0.6 0 1 0 1.1 0a0.6 0.6 0 1 0 -1.1 0M204.4 642.6a1.1 1.1 0 1 0 2.2 0a1.1 1.1 0 1 0 -2.2 0M157.9 617.2a0.9 0.9 0 1 0 1.9 0a0.9 0.9 0 1 0 -1.9 0M242.4 603.5a0.9 0.9 0 1 0 1.8 0a0.9 0.9 0 1 0 -1.8 0M196.1 615.2a1.1 1.1 0 1 0 2.2 0a1.1 1.1 0 1 0 -2.2 0M153.4 626.6a1.2 1.2 0 1 0 2.3 0a1.2 1.2 0 1 0 -2.3 0M252.4 598.9a0.6 0.6 0 1 0 1.2 0a0.6 0.6 0 1 0 -1.2 0M160.9 616.2a0.6 0.6 0 1 0 1.1 0a0.6 0.6 0 1 0 -1.1 0M154.9 625.0a0.7 0.7 0 1 0 1.5 0a0.7 0.7 0 1 0 -1.5 0M184.9 630.8a1.1 1.1 0 1 0 2.2 0a1.1 1.1 0 1 0 -2.2 0M227.6 604.6a1.1 1.1 0 1 0 2.2 0a1.1 1.1 0 1 0 -2.2 0M221.8 614.8a0.9 0.9 0 1 0 1.8 0a0.9 0.9 0 1 0 -1.8 0M237.1 583.4a0.7 0.7 0 1 0 1.4 0a0.7 0.7 0 1 0 -1.4 0M230.5 618.3a0.8 0.8 0 1 0 1.5 0a0.8 0.8 0 1 0 -1.5 0M188.0 617.3a0.6 0.6 0 1 0 1.3 0a0.6 0.6 0 1 0 -1.3 0M155.6 641.2a0.8 0.8 0 1 0 1.6 0a0.8 0.8 0 1 0 -1.6 0M198.5 602.3a0.4 0.4 0 1 0 0.9 0a0.4 0.4 0 1 0 -0.9 0M200.3 632.3a1.1 1.1 0 1 0 2.1 0a1.1 1.1 0 1 0 -2.1 0M242.7 596.2a0.4 0.4 0 1 0 0.9 0a0.4 0.4 0 1 0 -0.9 0M176.4 603.0a0.5 0.5 0 1 0 1.0 0a0.5 0.5 0 1 0 -1.0 0M155.3 582.9a0.4 0.4 0 1 0 0.9 0a0.4 0.4 0 1 0 -0.9 0M205.8 620.7a0.4 0.4 0 1 0 0.7 0a0.4 0.4 0 1 0 -0.7 0M199.6 594.4a0.6 0.6 0 1 0 1.2 0a0.6 0.6 0 1 0 -1.2 0M153.2 589.8a1.1 1.1 0 1 0 2.2 0a1.1 1.1 0 1 0 -2.2 0M202.7 621.5a0.4 0.4 0 1 0 0.7 0a0.4 0.4 0 1 0 -0.7 0M163.7 576.2a0.9 0.9 0 1 0 1.9 0a0.9 0.9 0 1 0 -1.9 0M170.0 591.0a0.5 0.5 0 1 0 1.1 0a0.5 0.5 0 1 0 -1.1 0M166.0 641.1a0.9 0.9 0 1 0 1.7 0a0.9 0.9 0 1 0 -1.7 0M175.8 641.2a1.1 1.1 0 1 0 2.1 0a1.1 1.1 0 1 0 -2.1 0M182.8 598.0a0.8 0.8 0 1 0 1.6 0a0.8 0.8 0 1 0 -1.6 0M226.5 631.5a1.2 1.2 0 1 0 2.4 0a1.2 1.2 0 1 0 -2.4 0M151.4 640.1a1.1 1.1 0 1 0 2.2 0a1.1 1.1 0 1 0 -2.2 0M159.1 607.3a1.0 1.0 0 1 0 2.0 0a1.0 1.0 0 1 0 -2.0 0M159.3 606.6a0.5 0.5 0 1 0 1.0 0a0.5 0.5 0 1 0 -1.0 0M199.7 608.8a0.6 0.6 0 1 0 1.3 0a0.6 0.6 0 1 0 -1.3 0M193.4 620.6a0.4 0.4 0 1 0 0.8 0a0.4 0.4 0 1 0 -0.8 0M204.1 630.0a0.4 0.4 0 1 0 0.9 0a0.4 0.4 0 1 0 -0.9 0M187.3 635.5a1.1 1.1 0 1 0 2.1 0a1.1 1.1 0 1 0 -2.1 0M160.3 649.3a0.4 0.4 0 1 0 0.8 0a0.4 0.4 0 1 0 -0.8 0M193.0 576.1a1.1 1.1 0 1 0 2.1 0a1.1 1.1 0 1 0 -2.1 0M165.0 582.6a1.1 1.1 0 1 0 2.2 0a1.1 1.1 0 1 0 -2.2 0M212.3 641.9a0.9 0.9 0 1 0 1.8 0a0.9 0.9 0 1 0 -1.8 0M198.7 618.7a0.4 0.4 0 1 0 0.8 0a0.4 0.4 0 1 0 -0.8 0M162.9 610.4a0.6 0.6 0 1 0 1.2 0a0.6 0.6 0 1 0 -1.2 0M182.0 648.9a0.5 0.5 0 1 0 1.0 0a0.5 0.5 0 1 0 -1.0 0M215.0 596.0a1.1 1.1 0 1 0 2.2 0a1.1 1.1 0 1 0 -2.2 0M234.4 631.8a0.6 0.6 0 1 0 1.2 0a0.6 0.6 0 1 0 -1.2 0M201.0 619.9a0.4 0.4 0 1 0 0.9 0a0.4 0.4 0 1 0 -0.9 0M182.2 584.1a0.8 0.8 0 1 0 1.5 0a0.8 0.8 0 1 0 -1.5 0M167.7 594.0a0.9 0.9 0 1 0 1.8 0a0.9 0.9 0 1 0 -1.8 0M205.3 579.6a0.9 0.9 0 1 0 1.8 0a0.9 0.9 0 1 0 -1.8 0M175.6 645.5a0.4 0.4 0 1 0 0.8 0a0.4 0.4 0 1 0 -0.8 0M251.3 631.4a0.4 0.4 0 1 0 0.7 0a0.4 0.4 0 1 0 -0.7 0M247.1 628.2a0.7 0.7 0 1 0 1.4 0a0.7 0.7 0 1 0 -1.4 0" fill="#e0908a" opacity="0.8"/>
<path d="M162.5 645.3a2.3 2.3 0 1 0 4.5 0a2.3 2.3 0 1 0 -4.5 0M204.0 627.2a2.3 2.3 0 1 0 4.5 0a2.3 2.3 0 1 0 -4.5 0M197.8 649.1a1.8 1.8 0 1 0 3.5 0a1.8 1.8 0 1 0 -3.5 0M175.2 616.5a2.2 2.2 0 1 0 4.3 0a2.2 2.2 0 1 0 -4.3 0M217.8 586.2a2.2 2.2 0 1 0 4.4 0a2.2 2.2 0 1 0 -4.4 0M213.1 577.2a1.3 1.3 0 1 0 2.6 0a1.3 1.3 0 1 0 -2.6 0M168.9 620.6a1.2 1.2 0 1 0 2.4 0a1.2 1.2 0 1 0 -2.4 0M210.5 600.4a1.4 1.4 0 1 0 2.9 0a1.4 1.4 0 1 0 -2.9 0M159.6 593.1a1.7 1.7 0 1 0 3.4 0a1.7 1.7 0 1 0 -3.4 0M208.2 628.0a1.9 1.9 0 1 0 3.8 0a1.9 1.9 0 1 0 -3.8 0M248.5 601.8a1.9 1.9 0 1 0 3.8 0a1.9 1.9 0 1 0 -3.8 0M225.3 624.9a1.7 1.7 0 1 0 3.5 0a1.7 1.7 0 1 0 -3.5 0M209.5 645.3a2.0 2.0 0 1 0 4.1 0a2.0 2.0 0 1 0 -4.1 0M178.0 601.6a2.0 2.0 0 1 0 4.0 0a2.0 2.0 0 1 0 -4.0 0M189.4 603.7a1.4 1.4 0 1 0 2.8 0a1.4 1.4 0 1 0 -2.8 0M216.8 579.2a1.9 1.9 0 1 0 3.7 0a1.9 1.9 0 1 0 -3.7 0M194.0 597.0a1.6 1.6 0 1 0 3.2 0a1.6 1.6 0 1 0 -3.2 0M167.4 587.1a1.3 1.3 0 1 0 2.7 0a1.3 1.3 0 1 0 -2.7 0M209.0 621.4a1.4 1.4 0 1 0 2.8 0a1.4 1.4 0 1 0 -2.8 0M177.9 621.8a1.5 1.5 0 1 0 3.0 0a1.5 1.5 0 1 0 -3.0 0M189.5 611.5a1.8 1.8 0 1 0 3.7 0a1.8 1.8 0 1 0 -3.7 0M220.4 636.3a1.4 1.4 0 1 0 2.7 0a1.4 1.4 0 1 0 -2.7 0M248.1 581.3a1.3 1.3 0 1 0 2.7 0a1.3 1.3 0 1 0 -2.7 0M169.9 636.4a2.0 2.0 0 1 0 4.1 0a2.0 2.0 0 1 0 -4.1 0M222.3 638.0a1.6 1.6 0 1 0 3.2 0a1.6 1.6 0 1 0 -3.2 0M171.8 610.5a2.1 2.1 0 1 0 4.2 0a2.1 2.1 0 1 0 -4.2 0M169.0 587.1a1.5 1.5 0 1 0 3.1 0a1.5 1.5 0 1 0 -3.1 0M165.7 643.8a2.1 2.1 0 1 0 4.1 0a2.1 2.1 0 1 0 -4.1 0" fill="#dd3530" opacity="0.8"/>
<path d="M157.7 628.8a2.4 2.4 0 1 0 4.8 0a2.4 2.4 0 1 0 -4.8 0M166.8 587.5a2.0 2.0 0 1 0 4.0 0a2.0 2.0 0 1 0 -4.0 0M173.3 628.3a1.6 1.6 0 1 0 3.2 0a1.6 1.6 0 1 0 -3.2 0M202.4 646.0a1.9 1.9 0 1 0 3.8 0a1.9 1.9 0 1 0 -3.8 0M161.5 612.5a2.0 2.0 0 1 0 4.0 0a2.0 2.0 0 1 0 -4.0 0M162.0 626.0a1.5 1.5 0 1 0 3.0 0a1.5 1.5 0 1 0 -3.0 0M168.7 615.5a1.4 1.4 0 1 0 2.8 0a1.4 1.4 0 1 0 -2.8 0M190.1 618.3a1.3 1.3 0 1 0 2.5 0a1.3 1.3 0 1 0 -2.5 0M164.4 638.2a2.3 2.3 0 1 0 4.7 0a2.3 2.3 0 1 0 -4.7 0M162.1 647.4a2.1 2.1 0 1 0 4.2 0a2.1 2.1 0 1 0 -4.2 0M196.8 637.7a1.4 1.4 0 1 0 2.7 0a1.4 1.4 0 1 0 -2.7 0M192.5 635.4a2.0 2.0 0 1 0 4.0 0a2.0 2.0 0 1 0 -4.0 0M245.4 614.6a2.3 2.3 0 1 0 4.6 0a2.3 2.3 0 1 0 -4.6 0M220.8 623.2a1.6 1.6 0 1 0 3.2 0a1.6 1.6 0 1 0 -3.2 0M252.2 608.0a1.4 1.4 0 1 0 2.7 0a1.4 1.4 0 1 0 -2.7 0M226.5 592.6a2.2 2.2 0 1 0 4.4 0a2.2 2.2 0 1 0 -4.4 0M221.8 603.0a1.4 1.4 0 1 0 2.8 0a1.4 1.4 0 1 0 -2.8 0M203.1 609.9a2.0 2.0 0 1 0 4.0 0a2.0 2.0 0 1 0 -4.0 0M221.9 594.1a2.4 2.4 0 1 0 4.8 0a2.4 2.4 0 1 0 -4.8 0M229.2 648.1a1.4 1.4 0 1 0 2.8 0a1.4 1.4 0 1 0 -2.8 0M249.5 575.3a1.5 1.5 0 1 0 2.9 0a1.5 1.5 0 1 0 -2.9 0M163.5 633.3a2.2 2.2 0 1 0 4.4 0a2.2 2.2 0 1 0 -4.4 0" fill="#e2443a" opacity="0.8"/>
<path d="M176.8 634.8a2.0 2.0 0 1 0 4.0 0a2.0 2.0 0 1 0 -4.0 0M163.0 641.6a1.4 1.4 0 1 0 2.8 0a1.4 1.4 0 1 0 -2.8 0M194.0 588.3a2.0 2.0 0 1 0 4.0 0a2.0 2.0 0 1 0 -4.0 0M230.9 631.2a1.3 1.3 0 1 0 2.6 0a1.3 1.3 0 1 0 -2.6 0M188.7 599.6a1.4 1.4 0 1 0 2.8 0a1.4 1.4 0 1 0 -2.8 0M229.9 590.6a1.4 1.4 0 1 0 2.9 0a1.4 1.4 0 1 0 -2.9 0M230.4 627.4a1.4 1.4 0 1 0 2.8 0a1.4 1.4 0 1 0 -2.8 0M246.4 614.6a2.0 2.0 0 1 0 4.0 0a2.0 2.0 0 1 0 -4.0 0M206.1 636.3a1.3 1.3 0 1 0 2.6 0a1.3 1.3 0 1 0 -2.6 0M185.3 599.3a2.3 2.3 0 1 0 4.7 0a2.3 2.3 0 1 0 -4.7 0M152.5 604.1a1.9 1.9 0 1 0 3.9 0a1.9 1.9 0 1 0 -3.9 0M182.7 605.2a2.0 2.0 0 1 0 3.9 0a2.0 2.0 0 1 0 -3.9 0M200.7 634.0a2.3 2.3 0 1 0 4.6 0a2.3 2.3 0 1 0 -4.6 0M187.9 626.1a1.9 1.9 0 1 0 3.8 0a1.9 1.9 0 1 0 -3.8 0M229.0 613.2a1.6 1.6 0 1 0 3.1 0a1.6 1.6 0 1 0 -3.1 0M197.0 598.4a1.7 1.7 0 1 0 3.5 0a1.7 1.7 0 1 0 -3.5 0M212.2 615.9a1.8 1.8 0 1 0 3.6 0a1.8 1.8 0 1 0 -3.6 0M194.9 646.8a2.3 2.3 0 1 0 4.6 0a2.3 2.3 0 1 0 -4.6 0M191.7 575.4a1.8 1.8 0 1 0 3.5 0a1.8 1.8 0 1 0 -3.5 0M193.9 635.8a2.0 2.0 0 1 0 4.0 0a2.0 2.0 0 1 0 -4.0 0" fill="#d42e2a" opacity="0.8"/>
<g fill="#e0352c" opacity="0.85"><ellipse cx="162" cy="638" rx="6" ry="4.5"/><ellipse cx="245" cy="638" rx="5" ry="5"/><ellipse cx="239" cy="606" rx="3" ry="3"/><ellipse cx="187" cy="618" rx="4" ry="3"/><ellipse cx="193" cy="629" rx="4" ry="2.5"/><ellipse cx="228" cy="634" rx="3" ry="2.5"/><ellipse cx="205" cy="640" rx="3" ry="2"/></g></g></g>
<rect x="154.2" y="576.6" width="97.4" height="71.69999999999993" fill="none" stroke="#111" stroke-width="1.1"/>
<g clip-path="url(#cp12)" filter="url(#mblur2)"><path d="M190,587 C193,585 196,589 195,595 C197,600 196,607 193,611 C190,612 188,608 187,603 C184,601 183,598 186,596 C187,592 188,589 190,587 Z" fill="#e2342a" opacity="0.9"/><path d="M183,597 L188,596 L186,601 Z" fill="#e2342a"/></g>
<rect x="305.6" y="576.2" width="98.3" height="71.8" filter="url(#nz2)"/><rect x="305.6" y="576.2" width="98.3" height="71.8" fill="none" stroke="#111" stroke-width="1.1"/>
<rect x="420.2" y="576.4" width="97.8" height="71.6" filter="url(#nz3)"/><rect x="420.2" y="576.4" width="97.8" height="71.6" fill="none" stroke="#111" stroke-width="1.1"/>
</svg></body></html>
